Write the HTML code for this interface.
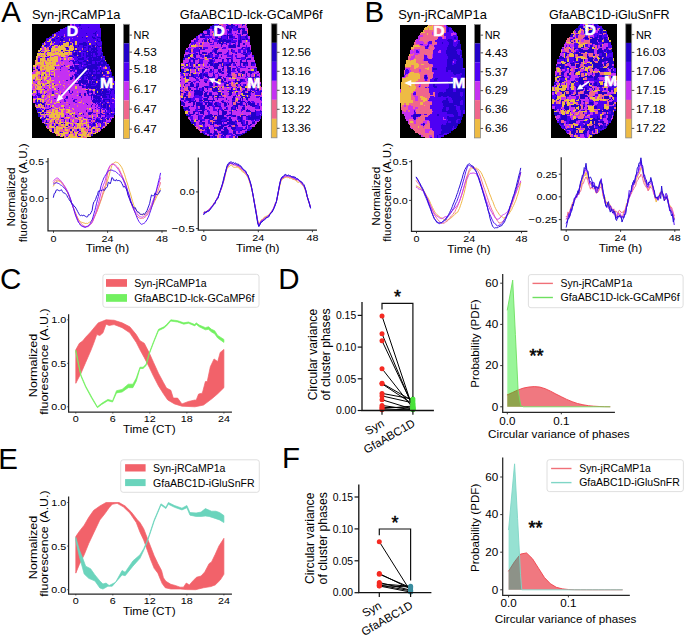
<!DOCTYPE html>
<html><head><meta charset="utf-8"><style>
html,body{margin:0;padding:0;background:#fff;}
svg{display:block;font-family:"Liberation Sans", sans-serif;}
</style></head><body>
<svg width="685" height="636" viewBox="0 0 685 636">
<rect width="685" height="636" fill="#fff"/>
<text x="1.20" y="21.90" font-size="29.50">A</text>
<text x="364.60" y="21.90" font-size="29.50">B</text>
<text x="0.00" y="289.40" font-size="29.50">C</text>
<text x="278.20" y="288.90" font-size="29.50">D</text>
<text x="-1.80" y="469.30" font-size="29.50">E</text>
<text x="282.00" y="468.30" font-size="29.50">F</text>
<g transform="translate(32.10 24.30) scale(1.2738 1.2656)" shape-rendering="crispEdges">
<rect x="0" y="0" width="65" height="90" fill="#000"/>
<path fill="#2200c8" d="M37 0h1v1h-1zM30 1h1v1h-1zM28 2h1v1h-1zM44 2h1v1h-1zM38 3h1v1h-1zM50 5h1v1h-1zM20 6h1v1h-1zM49 6h1v1h-1zM42 7h1v1h-1zM48 7h2v1h-2zM49 8h1v1h-1zM14 9h2v1h-2zM23 9h1v1h-1zM28 9h1v1h-1zM47 9h1v1h-1zM14 10h1v1h-1zM20 10h1v1h-1zM23 10h1v1h-1zM39 10h1v1h-1zM47 10h2v1h-2zM51 10h3v1h-3zM11 11h1v1h-1zM19 11h1v1h-1zM22 11h1v1h-1zM24 11h1v1h-1zM42 11h1v1h-1zM48 11h2v1h-2zM53 11h1v1h-1zM16 12h2v1h-2zM22 12h2v1h-2zM51 12h1v1h-1zM52 13h1v1h-1zM54 13h1v1h-1zM29 14h1v1h-1zM32 14h1v1h-1zM40 14h2v1h-2zM21 15h1v1h-1zM29 15h1v1h-1zM37 15h6v1h-6zM44 15h1v1h-1zM50 15h1v1h-1zM10 16h2v1h-2zM15 16h1v1h-1zM33 16h1v1h-1zM36 16h1v1h-1zM40 16h3v1h-3zM47 16h2v1h-2zM51 16h1v1h-1zM54 16h1v1h-1zM33 17h1v1h-1zM36 17h1v1h-1zM40 17h1v1h-1zM44 17h2v1h-2zM47 17h2v1h-2zM50 17h1v1h-1zM52 17h3v1h-3zM13 18h1v1h-1zM27 18h1v1h-1zM33 18h2v1h-2zM40 18h2v1h-2zM44 18h2v1h-2zM48 18h1v1h-1zM50 18h1v1h-1zM13 19h2v1h-2zM40 19h1v1h-1zM44 19h1v1h-1zM46 19h5v1h-5zM23 20h1v1h-1zM32 20h5v1h-5zM42 20h1v1h-1zM44 20h1v1h-1zM46 20h1v1h-1zM48 20h1v1h-1zM50 20h2v1h-2zM54 20h1v1h-1zM6 21h1v1h-1zM31 21h1v1h-1zM38 21h1v1h-1zM40 21h2v1h-2zM44 21h2v1h-2zM47 21h4v1h-4zM7 22h1v1h-1zM24 22h1v1h-1zM34 22h1v1h-1zM36 22h1v1h-1zM42 22h9v1h-9zM32 23h3v1h-3zM36 23h2v1h-2zM40 23h1v1h-1zM42 23h1v1h-1zM44 23h2v1h-2zM47 23h1v1h-1zM49 23h3v1h-3zM54 23h2v1h-2zM11 24h1v1h-1zM33 24h2v1h-2zM37 24h1v1h-1zM40 24h1v1h-1zM42 24h6v1h-6zM50 24h1v1h-1zM53 24h2v1h-2zM29 25h3v1h-3zM36 25h2v1h-2zM42 25h4v1h-4zM47 25h1v1h-1zM50 25h4v1h-4zM11 26h1v1h-1zM32 26h1v1h-1zM35 26h1v1h-1zM39 26h2v1h-2zM42 26h1v1h-1zM45 26h6v1h-6zM52 26h2v1h-2zM55 26h2v1h-2zM36 27h5v1h-5zM44 27h3v1h-3zM48 27h6v1h-6zM55 27h1v1h-1zM32 28h1v1h-1zM35 28h1v1h-1zM41 28h1v1h-1zM45 28h8v1h-8zM54 28h3v1h-3zM29 29h1v1h-1zM32 29h1v1h-1zM34 29h1v1h-1zM36 29h1v1h-1zM40 29h4v1h-4zM45 29h2v1h-2zM49 29h1v1h-1zM53 29h4v1h-4zM32 30h2v1h-2zM36 30h3v1h-3zM42 30h5v1h-5zM49 30h2v1h-2zM52 30h2v1h-2zM56 30h3v1h-3zM38 31h1v1h-1zM41 31h3v1h-3zM46 31h12v1h-12zM25 32h1v1h-1zM33 32h4v1h-4zM38 32h1v1h-1zM43 32h10v1h-10zM54 32h3v1h-3zM58 32h2v1h-2zM30 33h2v1h-2zM34 33h2v1h-2zM38 33h1v1h-1zM42 33h9v1h-9zM55 33h1v1h-1zM59 33h1v1h-1zM4 34h1v1h-1zM18 34h1v1h-1zM30 34h3v1h-3zM34 34h3v1h-3zM40 34h12v1h-12zM53 34h1v1h-1zM1 35h1v1h-1zM5 35h1v1h-1zM29 35h1v1h-1zM35 35h9v1h-9zM45 35h3v1h-3zM49 35h2v1h-2zM53 35h1v1h-1zM5 36h1v1h-1zM30 36h2v1h-2zM33 36h1v1h-1zM35 36h7v1h-7zM43 36h1v1h-1zM45 36h3v1h-3zM50 36h1v1h-1zM52 36h1v1h-1zM54 36h1v1h-1zM57 36h2v1h-2zM35 37h9v1h-9zM45 37h4v1h-4zM50 37h3v1h-3zM54 37h3v1h-3zM35 38h4v1h-4zM40 38h2v1h-2zM44 38h1v1h-1zM46 38h2v1h-2zM50 38h1v1h-1zM53 38h2v1h-2zM56 38h2v1h-2zM62 38h1v1h-1zM33 39h2v1h-2zM37 39h1v1h-1zM39 39h2v1h-2zM42 39h5v1h-5zM48 39h8v1h-8zM60 39h3v1h-3zM6 40h1v1h-1zM9 40h1v1h-1zM34 40h2v1h-2zM37 40h7v1h-7zM45 40h2v1h-2zM48 40h8v1h-8zM60 40h1v1h-1zM62 40h1v1h-1zM31 41h1v1h-1zM34 41h2v1h-2zM37 41h4v1h-4zM43 41h3v1h-3zM47 41h2v1h-2zM50 41h5v1h-5zM60 41h1v1h-1zM62 41h2v1h-2zM30 42h2v1h-2zM34 42h2v1h-2zM39 42h2v1h-2zM42 42h1v1h-1zM44 42h4v1h-4zM50 42h6v1h-6zM57 42h1v1h-1zM60 42h4v1h-4zM30 43h1v1h-1zM38 43h3v1h-3zM44 43h7v1h-7zM52 43h2v1h-2zM56 43h1v1h-1zM59 43h2v1h-2zM1 44h1v1h-1zM7 44h1v1h-1zM27 44h1v1h-1zM35 44h1v1h-1zM37 44h7v1h-7zM46 44h1v1h-1zM49 44h2v1h-2zM54 44h2v1h-2zM59 44h1v1h-1zM36 45h8v1h-8zM45 45h1v1h-1zM47 45h3v1h-3zM52 45h2v1h-2zM57 45h2v1h-2zM34 46h4v1h-4zM39 46h3v1h-3zM43 46h1v1h-1zM45 46h1v1h-1zM47 46h1v1h-1zM49 46h1v1h-1zM51 46h5v1h-5zM57 46h2v1h-2zM60 46h1v1h-1zM17 47h1v1h-1zM37 47h1v1h-1zM42 47h7v1h-7zM51 47h6v1h-6zM58 47h3v1h-3zM7 48h1v1h-1zM37 48h1v1h-1zM39 48h1v1h-1zM42 48h1v1h-1zM44 48h2v1h-2zM50 48h9v1h-9zM60 48h1v1h-1zM62 48h2v1h-2zM39 49h2v1h-2zM42 49h12v1h-12zM56 49h2v1h-2zM63 49h1v1h-1zM9 50h1v1h-1zM20 50h1v1h-1zM42 50h2v1h-2zM46 50h4v1h-4zM51 50h2v1h-2zM54 50h2v1h-2zM57 50h2v1h-2zM61 50h2v1h-2zM50 51h5v1h-5zM56 51h3v1h-3zM61 51h3v1h-3zM0 52h1v1h-1zM4 52h1v1h-1zM29 52h1v1h-1zM42 52h3v1h-3zM49 52h2v1h-2zM52 52h3v1h-3zM56 52h3v1h-3zM62 52h1v1h-1zM64 52h1v1h-1zM0 53h1v1h-1zM4 53h1v1h-1zM29 53h1v1h-1zM31 53h1v1h-1zM43 53h2v1h-2zM46 53h2v1h-2zM49 53h2v1h-2zM52 53h2v1h-2zM55 53h5v1h-5zM61 53h1v1h-1zM64 53h1v1h-1zM4 54h1v1h-1zM16 54h1v1h-1zM41 54h1v1h-1zM43 54h2v1h-2zM47 54h1v1h-1zM49 54h9v1h-9zM61 54h1v1h-1zM64 54h1v1h-1zM4 55h1v1h-1zM7 55h1v1h-1zM10 55h1v1h-1zM41 55h1v1h-1zM44 55h1v1h-1zM46 55h2v1h-2zM50 55h5v1h-5zM56 55h5v1h-5zM5 56h2v1h-2zM37 56h1v1h-1zM41 56h1v1h-1zM46 56h1v1h-1zM48 56h3v1h-3zM53 56h5v1h-5zM60 56h1v1h-1zM6 57h1v1h-1zM27 57h1v1h-1zM46 57h1v1h-1zM48 57h5v1h-5zM55 57h4v1h-4zM60 57h1v1h-1zM62 57h1v1h-1zM17 58h2v1h-2zM49 58h6v1h-6zM25 59h1v1h-1zM48 59h1v1h-1zM50 59h1v1h-1zM52 59h1v1h-1zM56 59h5v1h-5zM3 60h1v1h-1zM32 60h2v1h-2zM47 60h7v1h-7zM56 60h1v1h-1zM60 60h1v1h-1zM3 61h1v1h-1zM5 61h3v1h-3zM48 61h2v1h-2zM52 61h1v1h-1zM54 61h2v1h-2zM57 61h1v1h-1zM2 62h2v1h-2zM7 62h2v1h-2zM49 62h1v1h-1zM51 62h1v1h-1zM54 62h1v1h-1zM57 62h2v1h-2zM62 62h1v1h-1zM3 63h2v1h-2zM8 63h2v1h-2zM43 63h1v1h-1zM47 63h1v1h-1zM52 63h1v1h-1zM54 63h1v1h-1zM56 63h2v1h-2zM59 63h1v1h-1zM9 64h1v1h-1zM46 64h1v1h-1zM54 64h1v1h-1zM56 64h2v1h-2zM59 64h1v1h-1zM15 65h1v1h-1zM55 65h3v1h-3zM59 65h1v1h-1zM3 66h1v1h-1zM49 66h1v1h-1zM59 66h1v1h-1zM61 66h1v1h-1zM64 66h1v1h-1zM3 67h2v1h-2zM10 67h1v1h-1zM12 67h1v1h-1zM47 67h1v1h-1zM53 67h1v1h-1zM59 67h1v1h-1zM61 67h1v1h-1zM64 67h1v1h-1zM5 68h2v1h-2zM9 68h2v1h-2zM42 68h1v1h-1zM53 68h1v1h-1zM57 68h1v1h-1zM61 68h2v1h-2zM64 68h1v1h-1zM8 69h1v1h-1zM45 69h3v1h-3zM5 70h1v1h-1zM7 70h2v1h-2zM10 70h1v1h-1zM44 70h3v1h-3zM53 70h2v1h-2zM59 70h1v1h-1zM62 70h1v1h-1zM64 70h1v1h-1zM5 71h1v1h-1zM28 71h1v1h-1zM31 71h1v1h-1zM38 71h1v1h-1zM40 71h1v1h-1zM45 71h1v1h-1zM52 71h1v1h-1zM55 71h1v1h-1zM59 71h1v1h-1zM62 71h3v1h-3zM5 72h1v1h-1zM26 72h1v1h-1zM34 72h1v1h-1zM53 72h1v1h-1zM57 72h1v1h-1zM12 73h1v1h-1zM55 73h1v1h-1zM9 74h2v1h-2zM23 74h2v1h-2zM44 74h2v1h-2zM54 74h2v1h-2zM59 74h1v1h-1zM7 75h2v1h-2zM50 75h2v1h-2zM57 75h1v1h-1zM59 75h1v1h-1zM62 75h1v1h-1zM11 76h1v1h-1zM29 76h1v1h-1zM50 76h4v1h-4zM55 76h1v1h-1zM11 77h1v1h-1zM17 77h1v1h-1zM35 77h2v1h-2zM53 77h1v1h-1zM55 77h1v1h-1zM23 78h1v1h-1zM25 78h1v1h-1zM48 78h1v1h-1zM51 78h1v1h-1zM54 78h1v1h-1zM10 79h1v1h-1zM19 79h1v1h-1zM29 79h1v1h-1zM48 79h1v1h-1zM18 80h1v1h-1zM27 80h1v1h-1zM41 80h1v1h-1zM46 80h1v1h-1zM42 82h1v1h-1zM16 83h1v1h-1zM30 83h1v1h-1zM35 83h2v1h-2zM48 83h1v1h-1zM16 84h1v1h-1zM32 84h1v1h-1zM37 84h1v1h-1zM44 84h1v1h-1zM22 85h1v1h-1zM29 85h1v1h-1zM32 85h1v1h-1zM36 85h1v1h-1zM29 86h1v1h-1zM35 87h1v1h-1zM46 87h1v1h-1zM24 88h1v1h-1zM36 88h2v1h-2z"/>
<path fill="#4e00f4" d="M31 0h2v1h-2zM34 0h3v1h-3zM38 0h15v1h-15zM28 1h2v1h-2zM31 1h22v1h-22zM26 2h2v1h-2zM29 2h7v1h-7zM37 2h7v1h-7zM45 2h8v1h-8zM24 3h14v1h-14zM39 3h15v1h-15zM22 4h32v1h-32zM20 5h30v1h-30zM51 5h3v1h-3zM19 6h1v1h-1zM21 6h28v1h-28zM50 6h4v1h-4zM17 7h12v1h-12zM30 7h12v1h-12zM43 7h5v1h-5zM50 7h4v1h-4zM16 8h1v1h-1zM19 8h6v1h-6zM26 8h23v1h-23zM50 8h1v1h-1zM52 8h2v1h-2zM16 9h1v1h-1zM18 9h2v1h-2zM21 9h2v1h-2zM24 9h1v1h-1zM26 9h2v1h-2zM29 9h6v1h-6zM36 9h6v1h-6zM44 9h3v1h-3zM48 9h6v1h-6zM13 10h1v1h-1zM15 10h1v1h-1zM17 10h3v1h-3zM21 10h2v1h-2zM24 10h15v1h-15zM40 10h7v1h-7zM49 10h2v1h-2zM12 11h2v1h-2zM16 11h3v1h-3zM20 11h2v1h-2zM23 11h1v1h-1zM25 11h4v1h-4zM30 11h1v1h-1zM32 11h10v1h-10zM43 11h5v1h-5zM50 11h3v1h-3zM11 12h2v1h-2zM15 12h1v1h-1zM18 12h4v1h-4zM24 12h5v1h-5zM30 12h21v1h-21zM52 12h2v1h-2zM10 13h2v1h-2zM14 13h1v1h-1zM16 13h6v1h-6zM23 13h1v1h-1zM26 13h8v1h-8zM35 13h9v1h-9zM45 13h4v1h-4zM50 13h2v1h-2zM53 13h1v1h-1zM10 14h5v1h-5zM16 14h1v1h-1zM18 14h9v1h-9zM31 14h1v1h-1zM33 14h1v1h-1zM35 14h5v1h-5zM42 14h13v1h-13zM8 15h1v1h-1zM11 15h3v1h-3zM17 15h4v1h-4zM22 15h2v1h-2zM30 15h1v1h-1zM32 15h2v1h-2zM35 15h2v1h-2zM43 15h1v1h-1zM46 15h4v1h-4zM51 15h4v1h-4zM9 16h1v1h-1zM12 16h2v1h-2zM16 16h1v1h-1zM20 16h1v1h-1zM22 16h1v1h-1zM29 16h1v1h-1zM32 16h1v1h-1zM34 16h2v1h-2zM37 16h3v1h-3zM43 16h4v1h-4zM49 16h2v1h-2zM52 16h2v1h-2zM7 17h1v1h-1zM9 17h4v1h-4zM14 17h2v1h-2zM34 17h2v1h-2zM37 17h3v1h-3zM41 17h3v1h-3zM46 17h1v1h-1zM51 17h1v1h-1zM7 18h1v1h-1zM11 18h1v1h-1zM14 18h2v1h-2zM26 18h1v1h-1zM35 18h5v1h-5zM42 18h2v1h-2zM46 18h2v1h-2zM49 18h1v1h-1zM51 18h2v1h-2zM54 18h1v1h-1zM27 19h2v1h-2zM33 19h1v1h-1zM35 19h4v1h-4zM41 19h3v1h-3zM45 19h1v1h-1zM51 19h4v1h-4zM7 20h1v1h-1zM14 20h1v1h-1zM37 20h5v1h-5zM43 20h1v1h-1zM45 20h1v1h-1zM47 20h1v1h-1zM49 20h1v1h-1zM52 20h2v1h-2zM13 21h2v1h-2zM26 21h2v1h-2zM30 21h1v1h-1zM32 21h1v1h-1zM34 21h3v1h-3zM39 21h1v1h-1zM42 21h1v1h-1zM46 21h1v1h-1zM51 21h4v1h-4zM5 22h1v1h-1zM8 22h1v1h-1zM11 22h1v1h-1zM31 22h3v1h-3zM35 22h1v1h-1zM37 22h5v1h-5zM51 22h5v1h-5zM31 23h1v1h-1zM35 23h1v1h-1zM38 23h2v1h-2zM41 23h1v1h-1zM43 23h1v1h-1zM46 23h1v1h-1zM48 23h1v1h-1zM52 23h2v1h-2zM29 24h4v1h-4zM36 24h1v1h-1zM38 24h2v1h-2zM41 24h1v1h-1zM48 24h2v1h-2zM51 24h2v1h-2zM55 24h1v1h-1zM13 25h1v1h-1zM28 25h1v1h-1zM32 25h4v1h-4zM38 25h4v1h-4zM46 25h1v1h-1zM48 25h2v1h-2zM54 25h3v1h-3zM6 26h2v1h-2zM10 26h1v1h-1zM12 26h1v1h-1zM23 26h1v1h-1zM33 26h2v1h-2zM36 26h3v1h-3zM41 26h1v1h-1zM43 26h2v1h-2zM51 26h1v1h-1zM5 27h1v1h-1zM11 27h1v1h-1zM33 27h3v1h-3zM41 27h3v1h-3zM47 27h1v1h-1zM54 27h1v1h-1zM56 27h1v1h-1zM5 28h1v1h-1zM23 28h1v1h-1zM30 28h2v1h-2zM34 28h1v1h-1zM36 28h5v1h-5zM42 28h1v1h-1zM44 28h1v1h-1zM53 28h1v1h-1zM5 29h1v1h-1zM31 29h1v1h-1zM33 29h1v1h-1zM35 29h1v1h-1zM37 29h3v1h-3zM44 29h1v1h-1zM47 29h2v1h-2zM50 29h3v1h-3zM57 29h1v1h-1zM34 30h2v1h-2zM39 30h3v1h-3zM47 30h2v1h-2zM51 30h1v1h-1zM54 30h2v1h-2zM33 31h1v1h-1zM37 31h1v1h-1zM39 31h2v1h-2zM44 31h2v1h-2zM58 31h2v1h-2zM31 32h1v1h-1zM37 32h1v1h-1zM40 32h3v1h-3zM53 32h1v1h-1zM57 32h1v1h-1zM4 33h1v1h-1zM23 33h1v1h-1zM33 33h1v1h-1zM36 33h2v1h-2zM39 33h3v1h-3zM51 33h2v1h-2zM54 33h1v1h-1zM56 33h1v1h-1zM58 33h1v1h-1zM60 33h1v1h-1zM3 34h1v1h-1zM22 34h1v1h-1zM33 34h1v1h-1zM37 34h3v1h-3zM52 34h1v1h-1zM54 34h2v1h-2zM59 34h2v1h-2zM28 35h1v1h-1zM31 35h4v1h-4zM48 35h1v1h-1zM51 35h2v1h-2zM54 35h8v1h-8zM22 36h1v1h-1zM32 36h1v1h-1zM42 36h1v1h-1zM44 36h1v1h-1zM48 36h2v1h-2zM51 36h1v1h-1zM53 36h1v1h-1zM55 36h2v1h-2zM59 36h2v1h-2zM9 37h1v1h-1zM30 37h1v1h-1zM32 37h2v1h-2zM44 37h1v1h-1zM49 37h1v1h-1zM53 37h1v1h-1zM57 37h1v1h-1zM60 37h2v1h-2zM34 38h1v1h-1zM39 38h1v1h-1zM42 38h2v1h-2zM45 38h1v1h-1zM48 38h2v1h-2zM51 38h2v1h-2zM58 38h1v1h-1zM61 38h1v1h-1zM9 39h1v1h-1zM35 39h2v1h-2zM38 39h1v1h-1zM41 39h1v1h-1zM47 39h1v1h-1zM56 39h4v1h-4zM14 40h1v1h-1zM31 40h1v1h-1zM33 40h1v1h-1zM36 40h1v1h-1zM44 40h1v1h-1zM57 40h3v1h-3zM61 40h1v1h-1zM6 41h1v1h-1zM15 41h2v1h-2zM32 41h1v1h-1zM36 41h1v1h-1zM41 41h2v1h-2zM46 41h1v1h-1zM49 41h1v1h-1zM55 41h3v1h-3zM61 41h1v1h-1zM36 42h3v1h-3zM41 42h1v1h-1zM43 42h1v1h-1zM48 42h2v1h-2zM56 42h1v1h-1zM58 42h2v1h-2zM34 43h1v1h-1zM41 43h2v1h-2zM51 43h1v1h-1zM54 43h2v1h-2zM57 43h2v1h-2zM61 43h3v1h-3zM45 44h1v1h-1zM48 44h1v1h-1zM51 44h3v1h-3zM58 44h1v1h-1zM60 44h1v1h-1zM63 44h1v1h-1zM46 45h1v1h-1zM54 45h3v1h-3zM59 45h1v1h-1zM62 45h3v1h-3zM3 46h1v1h-1zM42 46h1v1h-1zM44 46h1v1h-1zM46 46h1v1h-1zM48 46h1v1h-1zM50 46h1v1h-1zM56 46h1v1h-1zM59 46h1v1h-1zM61 46h2v1h-2zM64 46h1v1h-1zM7 47h1v1h-1zM12 47h1v1h-1zM40 47h2v1h-2zM49 47h2v1h-2zM57 47h1v1h-1zM61 47h2v1h-2zM64 47h1v1h-1zM38 48h1v1h-1zM40 48h1v1h-1zM43 48h1v1h-1zM46 48h4v1h-4zM61 48h1v1h-1zM64 48h1v1h-1zM41 49h1v1h-1zM54 49h2v1h-2zM58 49h5v1h-5zM64 49h1v1h-1zM45 50h1v1h-1zM50 50h1v1h-1zM56 50h1v1h-1zM59 50h2v1h-2zM63 50h2v1h-2zM10 51h2v1h-2zM44 51h1v1h-1zM49 51h1v1h-1zM55 51h1v1h-1zM59 51h1v1h-1zM64 51h1v1h-1zM3 52h1v1h-1zM20 52h1v1h-1zM28 52h1v1h-1zM46 52h1v1h-1zM51 52h1v1h-1zM59 52h3v1h-3zM63 52h1v1h-1zM16 53h1v1h-1zM45 53h1v1h-1zM54 53h1v1h-1zM60 53h1v1h-1zM62 53h2v1h-2zM5 54h1v1h-1zM11 54h1v1h-1zM23 54h1v1h-1zM30 54h1v1h-1zM37 54h1v1h-1zM58 54h3v1h-3zM62 54h2v1h-2zM3 55h1v1h-1zM5 55h2v1h-2zM37 55h1v1h-1zM48 55h1v1h-1zM55 55h1v1h-1zM61 55h4v1h-4zM0 56h1v1h-1zM2 56h1v1h-1zM4 56h1v1h-1zM44 56h2v1h-2zM47 56h1v1h-1zM51 56h2v1h-2zM58 56h2v1h-2zM61 56h4v1h-4zM1 57h3v1h-3zM5 57h1v1h-1zM38 57h1v1h-1zM53 57h1v1h-1zM59 57h1v1h-1zM61 57h1v1h-1zM63 57h2v1h-2zM26 58h2v1h-2zM31 58h1v1h-1zM46 58h1v1h-1zM48 58h1v1h-1zM56 58h7v1h-7zM64 58h1v1h-1zM3 59h1v1h-1zM33 59h2v1h-2zM46 59h1v1h-1zM49 59h1v1h-1zM51 59h1v1h-1zM53 59h2v1h-2zM61 59h3v1h-3zM2 60h1v1h-1zM5 60h1v1h-1zM25 60h2v1h-2zM54 60h2v1h-2zM57 60h3v1h-3zM61 60h4v1h-4zM2 61h1v1h-1zM4 61h1v1h-1zM9 61h2v1h-2zM22 61h1v1h-1zM34 61h1v1h-1zM50 61h2v1h-2zM56 61h1v1h-1zM58 61h1v1h-1zM60 61h3v1h-3zM64 61h1v1h-1zM4 62h2v1h-2zM9 62h1v1h-1zM42 62h1v1h-1zM52 62h2v1h-2zM55 62h2v1h-2zM59 62h3v1h-3zM63 62h2v1h-2zM29 63h1v1h-1zM50 63h1v1h-1zM53 63h1v1h-1zM58 63h1v1h-1zM60 63h5v1h-5zM11 64h1v1h-1zM13 64h1v1h-1zM49 64h1v1h-1zM52 64h2v1h-2zM55 64h1v1h-1zM58 64h1v1h-1zM61 64h4v1h-4zM25 65h1v1h-1zM51 65h1v1h-1zM53 65h2v1h-2zM58 65h1v1h-1zM60 65h5v1h-5zM4 66h2v1h-2zM7 66h1v1h-1zM13 66h2v1h-2zM52 66h3v1h-3zM56 66h3v1h-3zM60 66h1v1h-1zM62 66h2v1h-2zM5 67h2v1h-2zM8 67h1v1h-1zM11 67h1v1h-1zM20 67h1v1h-1zM55 67h2v1h-2zM58 67h1v1h-1zM60 67h1v1h-1zM62 67h2v1h-2zM4 68h1v1h-1zM7 68h1v1h-1zM47 68h1v1h-1zM59 68h2v1h-2zM63 68h1v1h-1zM4 69h1v1h-1zM36 69h1v1h-1zM44 69h1v1h-1zM53 69h1v1h-1zM56 69h6v1h-6zM64 69h1v1h-1zM40 70h1v1h-1zM48 70h2v1h-2zM57 70h2v1h-2zM61 70h1v1h-1zM63 70h1v1h-1zM44 71h1v1h-1zM53 71h2v1h-2zM56 71h3v1h-3zM60 71h2v1h-2zM6 72h1v1h-1zM11 72h1v1h-1zM52 72h1v1h-1zM58 72h6v1h-6zM8 73h1v1h-1zM10 73h2v1h-2zM35 73h1v1h-1zM41 73h1v1h-1zM48 73h1v1h-1zM51 73h1v1h-1zM53 73h1v1h-1zM56 73h2v1h-2zM59 73h2v1h-2zM7 74h2v1h-2zM46 74h1v1h-1zM50 74h3v1h-3zM56 74h1v1h-1zM58 74h1v1h-1zM61 74h1v1h-1zM9 75h1v1h-1zM25 75h1v1h-1zM29 75h1v1h-1zM46 75h1v1h-1zM48 75h1v1h-1zM52 75h1v1h-1zM55 75h2v1h-2zM61 75h1v1h-1zM8 76h1v1h-1zM17 76h1v1h-1zM25 76h1v1h-1zM36 76h1v1h-1zM45 76h1v1h-1zM49 76h1v1h-1zM54 76h1v1h-1zM56 76h2v1h-2zM10 77h1v1h-1zM12 77h1v1h-1zM20 77h1v1h-1zM46 77h1v1h-1zM48 77h3v1h-3zM52 77h1v1h-1zM54 77h1v1h-1zM59 77h2v1h-2zM45 78h1v1h-1zM47 78h1v1h-1zM55 78h2v1h-2zM11 79h1v1h-1zM16 79h1v1h-1zM33 79h1v1h-1zM45 79h3v1h-3zM49 79h1v1h-1zM54 79h3v1h-3zM32 80h1v1h-1zM47 80h1v1h-1zM54 80h2v1h-2zM57 80h1v1h-1zM46 81h1v1h-1zM52 81h3v1h-3zM16 82h1v1h-1zM24 82h1v1h-1zM45 82h1v1h-1zM53 82h2v1h-2zM45 84h1v1h-1zM23 85h1v1h-1zM48 85h1v1h-1zM43 86h1v1h-1zM47 87h1v1h-1zM27 88h1v1h-1z"/>
<path fill="#c530f2" d="M30 0h1v1h-1zM33 0h1v1h-1zM36 2h1v1h-1zM25 8h1v1h-1zM51 8h1v1h-1zM14 11h2v1h-2zM29 11h1v1h-1zM31 11h1v1h-1zM10 15h1v1h-1zM16 15h1v1h-1zM19 17h1v1h-1zM8 18h1v1h-1zM18 18h2v1h-2zM28 18h1v1h-1zM8 19h1v1h-1zM8 20h2v1h-2zM12 21h1v1h-1zM19 21h1v1h-1zM23 21h1v1h-1zM28 21h1v1h-1zM6 22h1v1h-1zM17 22h1v1h-1zM21 22h1v1h-1zM10 23h2v1h-2zM6 24h1v1h-1zM17 24h3v1h-3zM26 24h2v1h-2zM5 25h1v1h-1zM12 25h1v1h-1zM15 25h2v1h-2zM20 25h1v1h-1zM22 25h1v1h-1zM27 25h1v1h-1zM5 26h1v1h-1zM13 26h1v1h-1zM20 26h3v1h-3zM24 26h1v1h-1zM26 26h3v1h-3zM31 26h1v1h-1zM10 27h1v1h-1zM20 27h2v1h-2zM23 27h2v1h-2zM27 27h1v1h-1zM29 27h1v1h-1zM31 27h2v1h-2zM11 28h1v1h-1zM20 28h3v1h-3zM24 28h6v1h-6zM33 28h1v1h-1zM15 29h1v1h-1zM20 29h9v1h-9zM30 29h1v1h-1zM9 30h1v1h-1zM19 30h3v1h-3zM23 30h1v1h-1zM25 30h7v1h-7zM9 31h2v1h-2zM19 31h1v1h-1zM21 31h2v1h-2zM24 31h9v1h-9zM34 31h3v1h-3zM4 32h1v1h-1zM22 32h3v1h-3zM26 32h2v1h-2zM30 32h1v1h-1zM32 32h1v1h-1zM39 32h1v1h-1zM5 33h1v1h-1zM17 33h6v1h-6zM24 33h3v1h-3zM29 33h1v1h-1zM32 33h1v1h-1zM1 34h1v1h-1zM5 34h1v1h-1zM19 34h3v1h-3zM23 34h5v1h-5zM29 34h1v1h-1zM56 34h1v1h-1zM4 35h1v1h-1zM17 35h1v1h-1zM20 35h1v1h-1zM22 35h6v1h-6zM30 35h1v1h-1zM44 35h1v1h-1zM8 36h3v1h-3zM14 36h3v1h-3zM18 36h4v1h-4zM23 36h7v1h-7zM34 36h1v1h-1zM1 37h2v1h-2zM6 37h1v1h-1zM8 37h1v1h-1zM14 37h1v1h-1zM17 37h11v1h-11zM29 37h1v1h-1zM31 37h1v1h-1zM34 37h1v1h-1zM58 37h1v1h-1zM0 38h2v1h-2zM6 38h1v1h-1zM11 38h2v1h-2zM14 38h3v1h-3zM18 38h16v1h-16zM60 38h1v1h-1zM6 39h1v1h-1zM14 39h1v1h-1zM18 39h11v1h-11zM30 39h3v1h-3zM5 40h1v1h-1zM12 40h1v1h-1zM15 40h2v1h-2zM18 40h11v1h-11zM30 40h1v1h-1zM32 40h1v1h-1zM8 41h1v1h-1zM14 41h1v1h-1zM18 41h2v1h-2zM21 41h10v1h-10zM33 41h1v1h-1zM58 41h1v1h-1zM2 42h1v1h-1zM6 42h1v1h-1zM12 42h2v1h-2zM15 42h15v1h-15zM32 42h2v1h-2zM1 43h1v1h-1zM8 43h1v1h-1zM11 43h2v1h-2zM15 43h15v1h-15zM31 43h3v1h-3zM35 43h3v1h-3zM43 43h1v1h-1zM8 44h1v1h-1zM10 44h1v1h-1zM17 44h7v1h-7zM25 44h2v1h-2zM28 44h7v1h-7zM36 44h1v1h-1zM44 44h1v1h-1zM47 44h1v1h-1zM62 44h1v1h-1zM1 45h3v1h-3zM6 45h1v1h-1zM8 45h4v1h-4zM16 45h5v1h-5zM22 45h14v1h-14zM44 45h1v1h-1zM51 45h1v1h-1zM2 46h1v1h-1zM9 46h1v1h-1zM14 46h2v1h-2zM17 46h8v1h-8zM26 46h8v1h-8zM38 46h1v1h-1zM0 47h1v1h-1zM4 47h1v1h-1zM11 47h1v1h-1zM14 47h2v1h-2zM18 47h1v1h-1zM21 47h1v1h-1zM23 47h5v1h-5zM29 47h8v1h-8zM38 47h2v1h-2zM0 48h1v1h-1zM10 48h2v1h-2zM15 48h1v1h-1zM20 48h4v1h-4zM26 48h11v1h-11zM41 48h1v1h-1zM59 48h1v1h-1zM1 49h1v1h-1zM3 49h1v1h-1zM8 49h1v1h-1zM10 49h3v1h-3zM14 49h2v1h-2zM18 49h7v1h-7zM26 49h3v1h-3zM30 49h4v1h-4zM35 49h4v1h-4zM0 50h2v1h-2zM7 50h2v1h-2zM10 50h3v1h-3zM15 50h2v1h-2zM19 50h1v1h-1zM21 50h13v1h-13zM35 50h7v1h-7zM44 50h1v1h-1zM0 51h1v1h-1zM13 51h4v1h-4zM19 51h5v1h-5zM25 51h14v1h-14zM40 51h1v1h-1zM46 51h2v1h-2zM60 51h1v1h-1zM1 52h1v1h-1zM5 52h1v1h-1zM8 52h4v1h-4zM13 52h6v1h-6zM21 52h7v1h-7zM30 52h12v1h-12zM45 52h1v1h-1zM47 52h1v1h-1zM3 53h1v1h-1zM5 53h1v1h-1zM8 53h1v1h-1zM12 53h4v1h-4zM17 53h5v1h-5zM23 53h6v1h-6zM30 53h1v1h-1zM32 53h3v1h-3zM36 53h7v1h-7zM48 53h1v1h-1zM1 54h3v1h-3zM7 54h2v1h-2zM10 54h1v1h-1zM12 54h1v1h-1zM15 54h1v1h-1zM17 54h1v1h-1zM20 54h2v1h-2zM24 54h1v1h-1zM26 54h4v1h-4zM31 54h6v1h-6zM38 54h3v1h-3zM42 54h1v1h-1zM45 54h2v1h-2zM48 54h1v1h-1zM0 55h3v1h-3zM8 55h2v1h-2zM11 55h2v1h-2zM14 55h1v1h-1zM17 55h3v1h-3zM21 55h10v1h-10zM32 55h5v1h-5zM39 55h2v1h-2zM42 55h2v1h-2zM45 55h1v1h-1zM49 55h1v1h-1zM3 56h1v1h-1zM7 56h1v1h-1zM10 56h2v1h-2zM14 56h1v1h-1zM18 56h2v1h-2zM21 56h14v1h-14zM36 56h1v1h-1zM38 56h2v1h-2zM42 56h2v1h-2zM4 57h1v1h-1zM7 57h1v1h-1zM9 57h3v1h-3zM14 57h7v1h-7zM22 57h5v1h-5zM28 57h10v1h-10zM39 57h7v1h-7zM47 57h1v1h-1zM54 57h1v1h-1zM1 58h3v1h-3zM7 58h4v1h-4zM12 58h3v1h-3zM16 58h1v1h-1zM19 58h2v1h-2zM22 58h4v1h-4zM28 58h3v1h-3zM32 58h14v1h-14zM47 58h1v1h-1zM55 58h1v1h-1zM9 59h1v1h-1zM11 59h2v1h-2zM14 59h7v1h-7zM22 59h3v1h-3zM26 59h7v1h-7zM35 59h11v1h-11zM47 59h1v1h-1zM55 59h1v1h-1zM64 59h1v1h-1zM7 60h1v1h-1zM9 60h3v1h-3zM13 60h2v1h-2zM16 60h4v1h-4zM21 60h4v1h-4zM27 60h5v1h-5zM34 60h4v1h-4zM39 60h8v1h-8zM1 61h1v1h-1zM12 61h2v1h-2zM16 61h1v1h-1zM18 61h1v1h-1zM23 61h2v1h-2zM26 61h1v1h-1zM28 61h6v1h-6zM35 61h1v1h-1zM39 61h7v1h-7zM47 61h1v1h-1zM53 61h1v1h-1zM63 61h1v1h-1zM10 62h1v1h-1zM12 62h5v1h-5zM19 62h21v1h-21zM41 62h1v1h-1zM43 62h6v1h-6zM50 62h1v1h-1zM11 63h1v1h-1zM14 63h13v1h-13zM28 63h1v1h-1zM30 63h3v1h-3zM34 63h9v1h-9zM44 63h3v1h-3zM48 63h2v1h-2zM51 63h1v1h-1zM4 64h1v1h-1zM6 64h1v1h-1zM10 64h1v1h-1zM12 64h1v1h-1zM15 64h1v1h-1zM17 64h6v1h-6zM25 64h10v1h-10zM36 64h10v1h-10zM47 64h2v1h-2zM50 64h2v1h-2zM10 65h4v1h-4zM16 65h1v1h-1zM19 65h2v1h-2zM22 65h2v1h-2zM26 65h3v1h-3zM30 65h21v1h-21zM52 65h1v1h-1zM6 66h1v1h-1zM8 66h1v1h-1zM10 66h3v1h-3zM15 66h3v1h-3zM22 66h2v1h-2zM25 66h6v1h-6zM33 66h10v1h-10zM44 66h1v1h-1zM46 66h3v1h-3zM50 66h2v1h-2zM55 66h1v1h-1zM7 67h1v1h-1zM13 67h3v1h-3zM18 67h1v1h-1zM26 67h1v1h-1zM30 67h2v1h-2zM33 67h12v1h-12zM46 67h1v1h-1zM48 67h5v1h-5zM57 67h1v1h-1zM11 68h1v1h-1zM15 68h1v1h-1zM20 68h3v1h-3zM25 68h2v1h-2zM31 68h11v1h-11zM43 68h4v1h-4zM49 68h1v1h-1zM52 68h1v1h-1zM54 68h1v1h-1zM56 68h1v1h-1zM58 68h1v1h-1zM9 69h2v1h-2zM17 69h1v1h-1zM24 69h3v1h-3zM30 69h1v1h-1zM32 69h1v1h-1zM34 69h2v1h-2zM37 69h1v1h-1zM39 69h5v1h-5zM48 69h5v1h-5zM63 69h1v1h-1zM9 70h1v1h-1zM11 70h2v1h-2zM14 70h1v1h-1zM25 70h4v1h-4zM34 70h3v1h-3zM39 70h1v1h-1zM41 70h1v1h-1zM43 70h1v1h-1zM47 70h1v1h-1zM52 70h1v1h-1zM55 70h1v1h-1zM60 70h1v1h-1zM9 71h1v1h-1zM25 71h3v1h-3zM29 71h1v1h-1zM32 71h5v1h-5zM39 71h1v1h-1zM41 71h2v1h-2zM46 71h4v1h-4zM51 71h1v1h-1zM7 72h2v1h-2zM10 72h1v1h-1zM12 72h1v1h-1zM18 72h1v1h-1zM22 72h1v1h-1zM25 72h1v1h-1zM27 72h4v1h-4zM32 72h1v1h-1zM35 72h10v1h-10zM46 72h1v1h-1zM48 72h3v1h-3zM54 72h3v1h-3zM22 73h4v1h-4zM30 73h3v1h-3zM34 73h1v1h-1zM40 73h1v1h-1zM42 73h5v1h-5zM49 73h2v1h-2zM52 73h1v1h-1zM54 73h1v1h-1zM58 73h1v1h-1zM61 73h3v1h-3zM12 74h1v1h-1zM14 74h2v1h-2zM21 74h2v1h-2zM29 74h5v1h-5zM36 74h1v1h-1zM39 74h1v1h-1zM41 74h3v1h-3zM48 74h2v1h-2zM53 74h1v1h-1zM57 74h1v1h-1zM60 74h1v1h-1zM62 74h1v1h-1zM10 75h1v1h-1zM14 75h1v1h-1zM18 75h1v1h-1zM21 75h1v1h-1zM24 75h1v1h-1zM26 75h3v1h-3zM31 75h1v1h-1zM33 75h3v1h-3zM38 75h2v1h-2zM44 75h2v1h-2zM47 75h1v1h-1zM49 75h1v1h-1zM53 75h1v1h-1zM9 76h2v1h-2zM12 76h2v1h-2zM20 76h1v1h-1zM23 76h2v1h-2zM27 76h2v1h-2zM30 76h1v1h-1zM33 76h3v1h-3zM40 76h2v1h-2zM43 76h2v1h-2zM47 76h1v1h-1zM58 76h4v1h-4zM8 77h1v1h-1zM16 77h1v1h-1zM24 77h1v1h-1zM29 77h3v1h-3zM34 77h1v1h-1zM39 77h2v1h-2zM45 77h1v1h-1zM47 77h1v1h-1zM51 77h1v1h-1zM56 77h1v1h-1zM58 77h1v1h-1zM9 78h2v1h-2zM13 78h2v1h-2zM16 78h1v1h-1zM18 78h1v1h-1zM24 78h1v1h-1zM32 78h2v1h-2zM43 78h2v1h-2zM46 78h1v1h-1zM49 78h1v1h-1zM52 78h2v1h-2zM58 78h1v1h-1zM12 79h1v1h-1zM18 79h1v1h-1zM20 79h1v1h-1zM25 79h1v1h-1zM28 79h1v1h-1zM30 79h1v1h-1zM32 79h1v1h-1zM34 79h1v1h-1zM40 79h2v1h-2zM51 79h2v1h-2zM12 80h1v1h-1zM17 80h1v1h-1zM22 80h1v1h-1zM30 80h2v1h-2zM34 80h1v1h-1zM38 80h3v1h-3zM42 80h1v1h-1zM48 80h2v1h-2zM52 80h1v1h-1zM12 81h1v1h-1zM18 81h1v1h-1zM28 81h2v1h-2zM32 81h1v1h-1zM38 81h1v1h-1zM41 81h1v1h-1zM43 81h1v1h-1zM45 81h1v1h-1zM50 81h2v1h-2zM55 81h1v1h-1zM13 82h1v1h-1zM15 82h1v1h-1zM18 82h1v1h-1zM25 82h1v1h-1zM27 82h2v1h-2zM31 82h1v1h-1zM36 82h1v1h-1zM43 82h1v1h-1zM55 82h1v1h-1zM24 83h1v1h-1zM33 83h2v1h-2zM37 83h1v1h-1zM44 83h2v1h-2zM47 83h1v1h-1zM53 83h1v1h-1zM22 84h1v1h-1zM25 84h2v1h-2zM29 84h1v1h-1zM34 84h1v1h-1zM42 84h1v1h-1zM47 84h4v1h-4zM52 84h1v1h-1zM16 85h1v1h-1zM21 85h1v1h-1zM37 85h1v1h-1zM44 85h1v1h-1zM28 86h1v1h-1zM32 86h2v1h-2zM36 86h3v1h-3zM47 86h1v1h-1zM22 87h1v1h-1zM26 87h3v1h-3zM33 87h1v1h-1zM35 88h1v1h-1zM40 88h1v1h-1zM29 89h1v1h-1z"/>
<path fill="#f0668c" d="M18 8h1v1h-1zM20 9h1v1h-1zM35 9h1v1h-1zM43 9h1v1h-1zM22 13h1v1h-1zM44 13h1v1h-1zM9 14h1v1h-1zM30 14h1v1h-1zM14 16h1v1h-1zM28 16h1v1h-1zM13 17h1v1h-1zM18 17h1v1h-1zM25 17h1v1h-1zM32 17h1v1h-1zM49 17h1v1h-1zM12 18h1v1h-1zM31 18h1v1h-1zM53 18h1v1h-1zM9 19h1v1h-1zM11 19h2v1h-2zM39 19h1v1h-1zM8 21h1v1h-1zM17 21h1v1h-1zM25 21h1v1h-1zM10 22h1v1h-1zM16 22h1v1h-1zM28 23h1v1h-1zM30 23h1v1h-1zM8 24h1v1h-1zM20 24h1v1h-1zM22 24h1v1h-1zM21 25h1v1h-1zM8 26h1v1h-1zM25 26h1v1h-1zM54 26h1v1h-1zM4 27h1v1h-1zM13 27h1v1h-1zM30 27h1v1h-1zM4 28h1v1h-1zM43 28h1v1h-1zM2 29h1v1h-1zM4 29h1v1h-1zM7 29h1v1h-1zM9 29h1v1h-1zM12 29h1v1h-1zM2 30h1v1h-1zM22 30h1v1h-1zM24 30h1v1h-1zM5 31h1v1h-1zM15 31h1v1h-1zM23 31h1v1h-1zM3 32h1v1h-1zM5 32h2v1h-2zM13 32h1v1h-1zM21 32h1v1h-1zM29 32h1v1h-1zM3 33h1v1h-1zM10 33h1v1h-1zM28 33h1v1h-1zM53 33h1v1h-1zM57 33h1v1h-1zM8 34h1v1h-1zM28 34h1v1h-1zM2 35h1v1h-1zM10 35h1v1h-1zM19 35h1v1h-1zM21 35h1v1h-1zM1 36h4v1h-4zM6 36h1v1h-1zM61 36h1v1h-1zM3 37h1v1h-1zM5 37h1v1h-1zM7 37h1v1h-1zM11 37h1v1h-1zM28 37h1v1h-1zM2 38h1v1h-1zM7 38h1v1h-1zM55 38h1v1h-1zM0 39h1v1h-1zM5 39h1v1h-1zM12 39h1v1h-1zM16 39h1v1h-1zM29 39h1v1h-1zM29 40h1v1h-1zM47 40h1v1h-1zM56 40h1v1h-1zM4 41h2v1h-2zM9 41h2v1h-2zM13 41h1v1h-1zM20 41h1v1h-1zM59 41h1v1h-1zM5 42h1v1h-1zM8 42h1v1h-1zM2 43h1v1h-1zM3 44h3v1h-3zM13 44h1v1h-1zM15 44h1v1h-1zM24 44h1v1h-1zM57 44h1v1h-1zM61 44h1v1h-1zM4 45h1v1h-1zM7 45h1v1h-1zM14 45h2v1h-2zM60 45h1v1h-1zM1 46h1v1h-1zM7 46h1v1h-1zM13 46h1v1h-1zM25 46h1v1h-1zM1 47h1v1h-1zM10 47h1v1h-1zM19 47h2v1h-2zM28 47h1v1h-1zM1 48h2v1h-2zM5 48h1v1h-1zM13 48h1v1h-1zM16 48h2v1h-2zM19 48h1v1h-1zM25 48h1v1h-1zM0 49h1v1h-1zM9 49h1v1h-1zM17 49h1v1h-1zM25 49h1v1h-1zM29 49h1v1h-1zM2 50h1v1h-1zM13 50h1v1h-1zM53 50h1v1h-1zM1 51h3v1h-3zM9 51h1v1h-1zM12 51h1v1h-1zM24 51h1v1h-1zM39 51h1v1h-1zM41 51h1v1h-1zM43 51h1v1h-1zM6 52h1v1h-1zM12 52h1v1h-1zM19 52h1v1h-1zM55 52h1v1h-1zM10 53h2v1h-2zM22 53h1v1h-1zM35 53h1v1h-1zM6 54h1v1h-1zM13 54h2v1h-2zM18 54h1v1h-1zM22 54h1v1h-1zM25 54h1v1h-1zM13 55h1v1h-1zM15 55h1v1h-1zM20 55h1v1h-1zM31 55h1v1h-1zM38 55h1v1h-1zM1 56h1v1h-1zM12 56h2v1h-2zM17 56h1v1h-1zM20 56h1v1h-1zM40 56h1v1h-1zM12 57h1v1h-1zM21 57h1v1h-1zM15 58h1v1h-1zM63 58h1v1h-1zM2 59h1v1h-1zM1 60h1v1h-1zM12 60h1v1h-1zM38 60h1v1h-1zM8 61h1v1h-1zM17 61h1v1h-1zM25 61h1v1h-1zM27 61h1v1h-1zM36 61h1v1h-1zM38 61h1v1h-1zM46 61h1v1h-1zM59 61h1v1h-1zM6 62h1v1h-1zM11 62h1v1h-1zM2 63h1v1h-1zM10 63h1v1h-1zM27 63h1v1h-1zM33 63h1v1h-1zM55 63h1v1h-1zM2 64h2v1h-2zM8 64h1v1h-1zM14 64h1v1h-1zM35 64h1v1h-1zM60 64h1v1h-1zM5 65h1v1h-1zM7 65h1v1h-1zM9 65h1v1h-1zM14 65h1v1h-1zM18 65h1v1h-1zM24 65h1v1h-1zM20 66h2v1h-2zM32 66h1v1h-1zM9 67h1v1h-1zM19 67h1v1h-1zM54 67h1v1h-1zM12 68h3v1h-3zM17 68h1v1h-1zM24 68h1v1h-1zM27 68h1v1h-1zM30 68h1v1h-1zM48 68h1v1h-1zM50 68h1v1h-1zM55 68h1v1h-1zM7 69h1v1h-1zM22 69h1v1h-1zM29 69h1v1h-1zM38 69h1v1h-1zM54 69h2v1h-2zM6 70h1v1h-1zM20 70h1v1h-1zM42 70h1v1h-1zM50 70h2v1h-2zM56 70h1v1h-1zM6 71h1v1h-1zM13 71h1v1h-1zM37 71h1v1h-1zM43 71h1v1h-1zM50 71h1v1h-1zM33 72h1v1h-1zM45 72h1v1h-1zM26 73h1v1h-1zM33 73h1v1h-1zM39 73h1v1h-1zM6 74h1v1h-1zM13 74h1v1h-1zM16 74h1v1h-1zM19 74h1v1h-1zM25 74h3v1h-3zM37 74h2v1h-2zM47 74h1v1h-1zM13 75h1v1h-1zM22 75h2v1h-2zM30 75h1v1h-1zM36 75h1v1h-1zM43 75h1v1h-1zM60 75h1v1h-1zM16 76h1v1h-1zM19 76h1v1h-1zM21 76h1v1h-1zM37 76h1v1h-1zM46 76h1v1h-1zM48 76h1v1h-1zM15 77h1v1h-1zM18 77h1v1h-1zM25 77h1v1h-1zM32 77h2v1h-2zM37 77h1v1h-1zM41 77h1v1h-1zM44 77h1v1h-1zM12 78h1v1h-1zM19 78h1v1h-1zM26 78h1v1h-1zM29 78h1v1h-1zM13 79h1v1h-1zM15 79h1v1h-1zM21 79h2v1h-2zM38 79h1v1h-1zM43 79h1v1h-1zM57 79h2v1h-2zM20 80h2v1h-2zM23 80h1v1h-1zM26 80h1v1h-1zM29 80h1v1h-1zM36 80h1v1h-1zM45 80h1v1h-1zM56 80h1v1h-1zM11 81h1v1h-1zM24 81h1v1h-1zM30 81h1v1h-1zM34 81h1v1h-1zM40 81h1v1h-1zM42 81h1v1h-1zM49 81h1v1h-1zM56 81h1v1h-1zM12 82h1v1h-1zM14 82h1v1h-1zM29 82h2v1h-2zM32 82h1v1h-1zM46 82h1v1h-1zM49 82h1v1h-1zM51 82h1v1h-1zM15 83h1v1h-1zM18 83h1v1h-1zM20 83h1v1h-1zM22 83h2v1h-2zM25 83h1v1h-1zM28 83h2v1h-2zM41 83h3v1h-3zM49 83h2v1h-2zM52 83h1v1h-1zM18 84h1v1h-1zM21 84h1v1h-1zM23 84h1v1h-1zM27 84h2v1h-2zM30 84h2v1h-2zM36 84h1v1h-1zM28 85h1v1h-1zM31 85h1v1h-1zM38 85h2v1h-2zM43 85h1v1h-1zM45 85h1v1h-1zM47 85h1v1h-1zM50 85h1v1h-1zM21 86h1v1h-1zM30 86h2v1h-2zM35 86h1v1h-1zM45 86h1v1h-1zM19 87h1v1h-1zM32 87h1v1h-1zM36 87h1v1h-1zM42 87h1v1h-1zM45 87h1v1h-1zM22 88h1v1h-1zM25 88h1v1h-1zM25 89h2v1h-2zM36 89h1v1h-1zM40 89h3v1h-3z"/>
<path fill="#eebb44" d="M29 7h1v1h-1zM17 8h1v1h-1zM17 9h1v1h-1zM25 9h1v1h-1zM42 9h1v1h-1zM16 10h1v1h-1zM13 12h2v1h-2zM29 12h1v1h-1zM12 13h2v1h-2zM15 13h1v1h-1zM24 13h2v1h-2zM34 13h1v1h-1zM49 13h1v1h-1zM15 14h1v1h-1zM17 14h1v1h-1zM27 14h2v1h-2zM34 14h1v1h-1zM9 15h1v1h-1zM14 15h2v1h-2zM24 15h5v1h-5zM31 15h1v1h-1zM34 15h1v1h-1zM45 15h1v1h-1zM8 16h1v1h-1zM17 16h3v1h-3zM21 16h1v1h-1zM23 16h5v1h-5zM30 16h2v1h-2zM8 17h1v1h-1zM16 17h2v1h-2zM20 17h5v1h-5zM26 17h6v1h-6zM9 18h2v1h-2zM16 18h2v1h-2zM20 18h6v1h-6zM29 18h2v1h-2zM32 18h1v1h-1zM6 19h2v1h-2zM10 19h1v1h-1zM15 19h12v1h-12zM29 19h4v1h-4zM34 19h1v1h-1zM5 20h2v1h-2zM10 20h4v1h-4zM15 20h8v1h-8zM24 20h8v1h-8zM5 21h1v1h-1zM7 21h1v1h-1zM9 21h3v1h-3zM15 21h2v1h-2zM18 21h1v1h-1zM20 21h3v1h-3zM24 21h1v1h-1zM29 21h1v1h-1zM33 21h1v1h-1zM37 21h1v1h-1zM43 21h1v1h-1zM9 22h1v1h-1zM12 22h4v1h-4zM18 22h3v1h-3zM22 22h2v1h-2zM25 22h6v1h-6zM4 23h6v1h-6zM12 23h16v1h-16zM29 23h1v1h-1zM4 24h2v1h-2zM7 24h1v1h-1zM9 24h2v1h-2zM12 24h5v1h-5zM21 24h1v1h-1zM23 24h3v1h-3zM28 24h1v1h-1zM35 24h1v1h-1zM3 25h2v1h-2zM6 25h6v1h-6zM14 25h1v1h-1zM17 25h3v1h-3zM23 25h4v1h-4zM3 26h2v1h-2zM9 26h1v1h-1zM14 26h6v1h-6zM29 26h2v1h-2zM3 27h1v1h-1zM6 27h4v1h-4zM12 27h1v1h-1zM14 27h6v1h-6zM22 27h1v1h-1zM25 27h2v1h-2zM28 27h1v1h-1zM2 28h2v1h-2zM6 28h5v1h-5zM12 28h8v1h-8zM57 28h1v1h-1zM3 29h1v1h-1zM6 29h1v1h-1zM8 29h1v1h-1zM10 29h2v1h-2zM13 29h2v1h-2zM16 29h4v1h-4zM3 30h6v1h-6zM10 30h9v1h-9zM2 31h3v1h-3zM6 31h3v1h-3zM11 31h4v1h-4zM16 31h3v1h-3zM20 31h1v1h-1zM1 32h2v1h-2zM7 32h6v1h-6zM14 32h7v1h-7zM28 32h1v1h-1zM1 33h2v1h-2zM6 33h4v1h-4zM11 33h6v1h-6zM27 33h1v1h-1zM2 34h1v1h-1zM6 34h2v1h-2zM9 34h9v1h-9zM57 34h2v1h-2zM3 35h1v1h-1zM6 35h4v1h-4zM11 35h6v1h-6zM18 35h1v1h-1zM7 36h1v1h-1zM11 36h3v1h-3zM17 36h1v1h-1zM4 37h1v1h-1zM10 37h1v1h-1zM12 37h2v1h-2zM15 37h2v1h-2zM59 37h1v1h-1zM3 38h3v1h-3zM8 38h3v1h-3zM13 38h1v1h-1zM17 38h1v1h-1zM59 38h1v1h-1zM1 39h4v1h-4zM7 39h2v1h-2zM10 39h2v1h-2zM13 39h1v1h-1zM15 39h1v1h-1zM17 39h1v1h-1zM0 40h5v1h-5zM7 40h2v1h-2zM10 40h2v1h-2zM13 40h1v1h-1zM17 40h1v1h-1zM0 41h4v1h-4zM7 41h1v1h-1zM11 41h2v1h-2zM17 41h1v1h-1zM0 42h2v1h-2zM3 42h2v1h-2zM7 42h1v1h-1zM9 42h3v1h-3zM14 42h1v1h-1zM0 43h1v1h-1zM3 43h5v1h-5zM9 43h2v1h-2zM13 43h2v1h-2zM0 44h1v1h-1zM2 44h1v1h-1zM6 44h1v1h-1zM9 44h1v1h-1zM11 44h2v1h-2zM14 44h1v1h-1zM16 44h1v1h-1zM56 44h1v1h-1zM0 45h1v1h-1zM5 45h1v1h-1zM12 45h2v1h-2zM21 45h1v1h-1zM50 45h1v1h-1zM61 45h1v1h-1zM0 46h1v1h-1zM4 46h3v1h-3zM8 46h1v1h-1zM10 46h3v1h-3zM16 46h1v1h-1zM63 46h1v1h-1zM2 47h2v1h-2zM5 47h2v1h-2zM8 47h2v1h-2zM13 47h1v1h-1zM16 47h1v1h-1zM22 47h1v1h-1zM63 47h1v1h-1zM3 48h2v1h-2zM6 48h1v1h-1zM8 48h2v1h-2zM12 48h1v1h-1zM14 48h1v1h-1zM18 48h1v1h-1zM24 48h1v1h-1zM2 49h1v1h-1zM4 49h4v1h-4zM13 49h1v1h-1zM16 49h1v1h-1zM34 49h1v1h-1zM3 50h4v1h-4zM14 50h1v1h-1zM17 50h2v1h-2zM34 50h1v1h-1zM4 51h5v1h-5zM17 51h2v1h-2zM42 51h1v1h-1zM45 51h1v1h-1zM48 51h1v1h-1zM2 52h1v1h-1zM7 52h1v1h-1zM48 52h1v1h-1zM1 53h2v1h-2zM6 53h2v1h-2zM9 53h1v1h-1zM51 53h1v1h-1zM0 54h1v1h-1zM9 54h1v1h-1zM19 54h1v1h-1zM16 55h1v1h-1zM8 56h2v1h-2zM15 56h2v1h-2zM35 56h1v1h-1zM8 57h1v1h-1zM13 57h1v1h-1zM4 58h3v1h-3zM11 58h1v1h-1zM21 58h1v1h-1zM1 59h1v1h-1zM4 59h5v1h-5zM10 59h1v1h-1zM13 59h1v1h-1zM21 59h1v1h-1zM4 60h1v1h-1zM6 60h1v1h-1zM8 60h1v1h-1zM15 60h1v1h-1zM20 60h1v1h-1zM11 61h1v1h-1zM14 61h2v1h-2zM19 61h3v1h-3zM37 61h1v1h-1zM17 62h2v1h-2zM40 62h1v1h-1zM5 63h3v1h-3zM12 63h2v1h-2zM5 64h1v1h-1zM7 64h1v1h-1zM16 64h1v1h-1zM23 64h2v1h-2zM3 65h2v1h-2zM6 65h1v1h-1zM8 65h1v1h-1zM17 65h1v1h-1zM21 65h1v1h-1zM29 65h1v1h-1zM9 66h1v1h-1zM18 66h2v1h-2zM24 66h1v1h-1zM31 66h1v1h-1zM43 66h1v1h-1zM45 66h1v1h-1zM16 67h2v1h-2zM21 67h5v1h-5zM27 67h3v1h-3zM32 67h1v1h-1zM45 67h1v1h-1zM8 68h1v1h-1zM16 68h1v1h-1zM18 68h2v1h-2zM23 68h1v1h-1zM28 68h2v1h-2zM51 68h1v1h-1zM5 69h2v1h-2zM11 69h6v1h-6zM18 69h4v1h-4zM23 69h1v1h-1zM27 69h2v1h-2zM31 69h1v1h-1zM33 69h1v1h-1zM62 69h1v1h-1zM13 70h1v1h-1zM15 70h5v1h-5zM21 70h4v1h-4zM29 70h5v1h-5zM37 70h2v1h-2zM7 71h2v1h-2zM10 71h3v1h-3zM14 71h11v1h-11zM30 71h1v1h-1zM9 72h1v1h-1zM13 72h5v1h-5zM19 72h3v1h-3zM23 72h2v1h-2zM31 72h1v1h-1zM47 72h1v1h-1zM51 72h1v1h-1zM6 73h2v1h-2zM9 73h1v1h-1zM13 73h9v1h-9zM27 73h3v1h-3zM36 73h3v1h-3zM47 73h1v1h-1zM11 74h1v1h-1zM17 74h2v1h-2zM20 74h1v1h-1zM28 74h1v1h-1zM34 74h2v1h-2zM40 74h1v1h-1zM11 75h2v1h-2zM15 75h3v1h-3zM19 75h2v1h-2zM32 75h1v1h-1zM37 75h1v1h-1zM40 75h3v1h-3zM54 75h1v1h-1zM58 75h1v1h-1zM14 76h2v1h-2zM18 76h1v1h-1zM22 76h1v1h-1zM26 76h1v1h-1zM31 76h2v1h-2zM38 76h2v1h-2zM42 76h1v1h-1zM9 77h1v1h-1zM13 77h2v1h-2zM19 77h1v1h-1zM21 77h3v1h-3zM26 77h3v1h-3zM38 77h1v1h-1zM42 77h2v1h-2zM57 77h1v1h-1zM11 78h1v1h-1zM15 78h1v1h-1zM17 78h1v1h-1zM20 78h3v1h-3zM27 78h2v1h-2zM30 78h2v1h-2zM34 78h9v1h-9zM50 78h1v1h-1zM57 78h1v1h-1zM59 78h1v1h-1zM14 79h1v1h-1zM17 79h1v1h-1zM23 79h2v1h-2zM26 79h2v1h-2zM31 79h1v1h-1zM35 79h3v1h-3zM39 79h1v1h-1zM42 79h1v1h-1zM44 79h1v1h-1zM50 79h1v1h-1zM53 79h1v1h-1zM11 80h1v1h-1zM13 80h4v1h-4zM19 80h1v1h-1zM24 80h2v1h-2zM28 80h1v1h-1zM33 80h1v1h-1zM35 80h1v1h-1zM37 80h1v1h-1zM43 80h2v1h-2zM50 80h2v1h-2zM53 80h1v1h-1zM13 81h5v1h-5zM19 81h5v1h-5zM25 81h3v1h-3zM31 81h1v1h-1zM33 81h1v1h-1zM35 81h3v1h-3zM39 81h1v1h-1zM44 81h1v1h-1zM47 81h2v1h-2zM17 82h1v1h-1zM19 82h5v1h-5zM26 82h1v1h-1zM33 82h3v1h-3zM37 82h5v1h-5zM44 82h1v1h-1zM47 82h2v1h-2zM50 82h1v1h-1zM52 82h1v1h-1zM13 83h2v1h-2zM17 83h1v1h-1zM19 83h1v1h-1zM21 83h1v1h-1zM26 83h2v1h-2zM31 83h2v1h-2zM38 83h3v1h-3zM46 83h1v1h-1zM51 83h1v1h-1zM14 84h2v1h-2zM17 84h1v1h-1zM19 84h2v1h-2zM24 84h1v1h-1zM33 84h1v1h-1zM35 84h1v1h-1zM38 84h4v1h-4zM43 84h1v1h-1zM46 84h1v1h-1zM51 84h1v1h-1zM17 85h4v1h-4zM24 85h4v1h-4zM30 85h1v1h-1zM33 85h3v1h-3zM40 85h3v1h-3zM46 85h1v1h-1zM49 85h1v1h-1zM51 85h1v1h-1zM18 86h3v1h-3zM22 86h6v1h-6zM34 86h1v1h-1zM39 86h4v1h-4zM44 86h1v1h-1zM46 86h1v1h-1zM48 86h2v1h-2zM20 87h2v1h-2zM23 87h3v1h-3zM29 87h3v1h-3zM34 87h1v1h-1zM37 87h5v1h-5zM43 87h2v1h-2zM23 88h1v1h-1zM26 88h1v1h-1zM28 88h7v1h-7zM38 88h2v1h-2zM41 88h5v1h-5zM27 89h2v1h-2zM30 89h6v1h-6zM37 89h3v1h-3z"/>
</g>
<g transform="translate(180.00 23.80) scale(1.2677 1.2644)" shape-rendering="crispEdges">
<rect x="0" y="0" width="65" height="90" fill="#000"/>
<path fill="#2200c8" d="M30 0h1v1h-1zM40 0h2v1h-2zM49 0h2v1h-2zM25 1h5v1h-5zM31 1h1v1h-1zM37 1h6v1h-6zM45 1h1v1h-1zM49 1h1v1h-1zM52 1h1v1h-1zM25 2h5v1h-5zM36 2h3v1h-3zM40 2h2v1h-2zM44 2h2v1h-2zM23 3h1v1h-1zM25 3h2v1h-2zM29 3h2v1h-2zM36 3h4v1h-4zM46 3h5v1h-5zM21 4h2v1h-2zM29 4h3v1h-3zM39 4h2v1h-2zM45 4h3v1h-3zM49 4h2v1h-2zM19 5h5v1h-5zM29 5h5v1h-5zM39 5h2v1h-2zM46 5h1v1h-1zM50 5h1v1h-1zM21 6h3v1h-3zM27 6h2v1h-2zM38 6h2v1h-2zM46 6h1v1h-1zM49 6h4v1h-4zM16 7h3v1h-3zM21 7h2v1h-2zM27 7h3v1h-3zM49 7h4v1h-4zM15 8h1v1h-1zM17 8h7v1h-7zM32 8h1v1h-1zM37 8h1v1h-1zM45 8h1v1h-1zM49 8h1v1h-1zM53 8h1v1h-1zM17 9h3v1h-3zM29 9h1v1h-1zM32 9h2v1h-2zM35 9h1v1h-1zM37 9h4v1h-4zM47 9h1v1h-1zM52 9h1v1h-1zM16 10h4v1h-4zM28 10h2v1h-2zM32 10h1v1h-1zM37 10h1v1h-1zM39 10h3v1h-3zM47 10h1v1h-1zM51 10h2v1h-2zM22 11h1v1h-1zM30 11h3v1h-3zM37 11h1v1h-1zM43 11h2v1h-2zM47 11h1v1h-1zM52 11h2v1h-2zM23 12h1v1h-1zM31 12h2v1h-2zM34 12h2v1h-2zM41 12h1v1h-1zM47 12h1v1h-1zM49 12h2v1h-2zM52 12h2v1h-2zM11 13h1v1h-1zM19 13h2v1h-2zM22 13h2v1h-2zM30 13h10v1h-10zM46 13h2v1h-2zM23 14h2v1h-2zM31 14h1v1h-1zM33 14h2v1h-2zM36 14h3v1h-3zM41 14h2v1h-2zM46 14h2v1h-2zM29 15h1v1h-1zM31 15h3v1h-3zM46 15h1v1h-1zM50 15h1v1h-1zM32 16h2v1h-2zM36 16h1v1h-1zM42 16h1v1h-1zM46 16h1v1h-1zM50 16h1v1h-1zM32 17h1v1h-1zM39 17h5v1h-5zM46 17h1v1h-1zM15 18h2v1h-2zM25 18h1v1h-1zM39 18h5v1h-5zM49 18h2v1h-2zM54 18h1v1h-1zM6 19h1v1h-1zM16 19h1v1h-1zM28 19h2v1h-2zM33 19h1v1h-1zM49 19h1v1h-1zM53 19h2v1h-2zM6 20h1v1h-1zM18 20h2v1h-2zM28 20h2v1h-2zM40 20h1v1h-1zM53 20h2v1h-2zM5 21h1v1h-1zM8 21h1v1h-1zM15 21h1v1h-1zM27 21h2v1h-2zM40 21h1v1h-1zM53 21h3v1h-3zM8 22h1v1h-1zM15 22h1v1h-1zM17 22h3v1h-3zM24 22h1v1h-1zM28 22h1v1h-1zM30 22h3v1h-3zM37 22h1v1h-1zM44 22h1v1h-1zM50 22h2v1h-2zM53 22h1v1h-1zM55 22h1v1h-1zM13 23h1v1h-1zM15 23h1v1h-1zM17 23h4v1h-4zM24 23h1v1h-1zM28 23h5v1h-5zM37 23h1v1h-1zM44 23h1v1h-1zM52 23h1v1h-1zM6 24h3v1h-3zM10 24h2v1h-2zM15 24h2v1h-2zM22 24h1v1h-1zM25 24h1v1h-1zM29 24h2v1h-2zM41 24h1v1h-1zM50 24h3v1h-3zM4 25h4v1h-4zM11 25h2v1h-2zM20 25h4v1h-4zM32 25h1v1h-1zM51 25h2v1h-2zM3 26h3v1h-3zM8 26h1v1h-1zM11 26h2v1h-2zM21 26h3v1h-3zM28 26h2v1h-2zM51 26h1v1h-1zM2 27h2v1h-2zM9 27h2v1h-2zM25 27h2v1h-2zM28 27h2v1h-2zM36 27h4v1h-4zM45 27h2v1h-2zM51 27h1v1h-1zM54 27h2v1h-2zM2 28h2v1h-2zM10 28h2v1h-2zM33 28h2v1h-2zM37 28h2v1h-2zM40 28h1v1h-1zM52 28h4v1h-4zM7 29h1v1h-1zM10 29h2v1h-2zM24 29h2v1h-2zM33 29h1v1h-1zM40 29h2v1h-2zM47 29h2v1h-2zM52 29h1v1h-1zM8 30h1v1h-1zM11 30h1v1h-1zM15 30h1v1h-1zM22 30h3v1h-3zM30 30h4v1h-4zM40 30h3v1h-3zM44 30h1v1h-1zM47 30h7v1h-7zM56 30h2v1h-2zM5 31h1v1h-1zM8 31h1v1h-1zM11 31h1v1h-1zM14 31h2v1h-2zM23 31h3v1h-3zM28 31h5v1h-5zM39 31h2v1h-2zM47 31h1v1h-1zM50 31h4v1h-4zM56 31h2v1h-2zM8 32h1v1h-1zM13 32h1v1h-1zM24 32h2v1h-2zM27 32h4v1h-4zM34 32h1v1h-1zM36 32h4v1h-4zM43 32h1v1h-1zM47 32h1v1h-1zM50 32h1v1h-1zM53 32h1v1h-1zM56 32h1v1h-1zM26 33h4v1h-4zM33 33h2v1h-2zM37 33h1v1h-1zM7 34h3v1h-3zM11 34h1v1h-1zM15 34h1v1h-1zM19 34h1v1h-1zM27 34h3v1h-3zM34 34h1v1h-1zM37 34h3v1h-3zM6 35h2v1h-2zM11 35h2v1h-2zM20 35h2v1h-2zM27 35h3v1h-3zM33 35h2v1h-2zM37 35h3v1h-3zM42 35h2v1h-2zM54 35h1v1h-1zM59 35h2v1h-2zM1 36h2v1h-2zM7 36h1v1h-1zM17 36h3v1h-3zM24 36h1v1h-1zM30 36h2v1h-2zM33 36h1v1h-1zM38 36h2v1h-2zM45 36h1v1h-1zM58 36h1v1h-1zM1 37h2v1h-2zM5 37h3v1h-3zM17 37h2v1h-2zM30 37h3v1h-3zM37 37h3v1h-3zM46 37h1v1h-1zM49 37h2v1h-2zM54 37h3v1h-3zM59 37h1v1h-1zM1 38h2v1h-2zM5 38h3v1h-3zM17 38h1v1h-1zM31 38h1v1h-1zM33 38h2v1h-2zM37 38h3v1h-3zM48 38h3v1h-3zM54 38h3v1h-3zM7 39h1v1h-1zM9 39h1v1h-1zM16 39h1v1h-1zM19 39h1v1h-1zM26 39h1v1h-1zM33 39h2v1h-2zM38 39h2v1h-2zM49 39h2v1h-2zM52 39h1v1h-1zM55 39h2v1h-2zM6 40h1v1h-1zM9 40h2v1h-2zM15 40h2v1h-2zM18 40h4v1h-4zM26 40h1v1h-1zM38 40h1v1h-1zM45 40h1v1h-1zM48 40h1v1h-1zM52 40h1v1h-1zM59 40h1v1h-1zM5 41h3v1h-3zM9 41h2v1h-2zM15 41h2v1h-2zM20 41h3v1h-3zM27 41h1v1h-1zM31 41h2v1h-2zM36 41h1v1h-1zM38 41h3v1h-3zM45 41h1v1h-1zM48 41h1v1h-1zM55 41h1v1h-1zM59 41h1v1h-1zM61 41h1v1h-1zM5 42h2v1h-2zM11 42h2v1h-2zM16 42h1v1h-1zM21 42h5v1h-5zM30 42h2v1h-2zM34 42h1v1h-1zM40 42h1v1h-1zM54 42h4v1h-4zM0 43h1v1h-1zM6 43h1v1h-1zM12 43h1v1h-1zM16 43h2v1h-2zM22 43h3v1h-3zM29 43h3v1h-3zM35 43h1v1h-1zM56 43h1v1h-1zM28 44h2v1h-2zM33 44h1v1h-1zM35 44h1v1h-1zM43 44h1v1h-1zM47 44h3v1h-3zM60 44h1v1h-1zM0 45h1v1h-1zM7 45h2v1h-2zM15 45h1v1h-1zM19 45h2v1h-2zM28 45h1v1h-1zM32 45h3v1h-3zM43 45h6v1h-6zM55 45h2v1h-2zM60 45h1v1h-1zM9 46h1v1h-1zM20 46h1v1h-1zM24 46h2v1h-2zM36 46h1v1h-1zM38 46h1v1h-1zM43 46h1v1h-1zM46 46h2v1h-2zM4 47h2v1h-2zM8 47h2v1h-2zM14 47h1v1h-1zM24 47h2v1h-2zM36 47h3v1h-3zM46 47h1v1h-1zM55 47h1v1h-1zM3 48h1v1h-1zM8 48h3v1h-3zM14 48h1v1h-1zM24 48h2v1h-2zM28 48h1v1h-1zM35 48h1v1h-1zM44 48h1v1h-1zM47 48h1v1h-1zM51 48h1v1h-1zM57 48h7v1h-7zM6 49h1v1h-1zM8 49h3v1h-3zM13 49h2v1h-2zM19 49h3v1h-3zM36 49h3v1h-3zM48 49h2v1h-2zM56 49h2v1h-2zM61 49h1v1h-1zM0 50h1v1h-1zM2 50h1v1h-1zM6 50h1v1h-1zM11 50h1v1h-1zM13 50h1v1h-1zM17 50h2v1h-2zM20 50h2v1h-2zM24 50h2v1h-2zM28 50h1v1h-1zM30 50h1v1h-1zM32 50h1v1h-1zM44 50h1v1h-1zM49 50h2v1h-2zM56 50h2v1h-2zM61 50h1v1h-1zM6 51h3v1h-3zM15 51h1v1h-1zM17 51h2v1h-2zM21 51h1v1h-1zM25 51h1v1h-1zM27 51h3v1h-3zM40 51h1v1h-1zM45 51h2v1h-2zM51 51h2v1h-2zM56 51h3v1h-3zM61 51h1v1h-1zM7 52h1v1h-1zM9 52h1v1h-1zM11 52h5v1h-5zM17 52h2v1h-2zM25 52h5v1h-5zM33 52h2v1h-2zM39 52h2v1h-2zM50 52h3v1h-3zM55 52h1v1h-1zM60 52h2v1h-2zM0 53h1v1h-1zM4 53h1v1h-1zM11 53h7v1h-7zM19 53h1v1h-1zM26 53h2v1h-2zM39 53h3v1h-3zM49 53h2v1h-2zM54 53h3v1h-3zM63 53h2v1h-2zM0 54h2v1h-2zM5 54h1v1h-1zM12 54h6v1h-6zM20 54h1v1h-1zM30 54h2v1h-2zM39 54h2v1h-2zM44 54h2v1h-2zM50 54h1v1h-1zM54 54h2v1h-2zM57 54h1v1h-1zM63 54h1v1h-1zM3 55h2v1h-2zM11 55h7v1h-7zM19 55h2v1h-2zM23 55h2v1h-2zM30 55h2v1h-2zM39 55h2v1h-2zM50 55h5v1h-5zM63 55h1v1h-1zM3 56h2v1h-2zM11 56h1v1h-1zM15 56h2v1h-2zM19 56h6v1h-6zM26 56h1v1h-1zM28 56h4v1h-4zM39 56h1v1h-1zM45 56h1v1h-1zM47 56h1v1h-1zM55 56h1v1h-1zM2 57h4v1h-4zM19 57h4v1h-4zM26 57h1v1h-1zM29 57h2v1h-2zM42 57h2v1h-2zM49 57h2v1h-2zM62 57h1v1h-1zM2 58h1v1h-1zM5 58h1v1h-1zM21 58h2v1h-2zM29 58h2v1h-2zM34 58h1v1h-1zM42 58h1v1h-1zM48 58h2v1h-2zM51 58h4v1h-4zM63 58h2v1h-2zM1 59h2v1h-2zM5 59h4v1h-4zM19 59h3v1h-3zM26 59h1v1h-1zM29 59h1v1h-1zM36 59h1v1h-1zM41 59h2v1h-2zM47 59h1v1h-1zM49 59h1v1h-1zM52 59h2v1h-2zM63 59h1v1h-1zM0 60h1v1h-1zM6 60h3v1h-3zM12 60h1v1h-1zM15 60h3v1h-3zM19 60h9v1h-9zM46 60h2v1h-2zM7 61h6v1h-6zM18 61h1v1h-1zM22 61h1v1h-1zM25 61h1v1h-1zM32 61h2v1h-2zM41 61h2v1h-2zM46 61h5v1h-5zM54 61h1v1h-1zM1 62h2v1h-2zM6 62h3v1h-3zM10 62h2v1h-2zM13 62h3v1h-3zM20 62h4v1h-4zM28 62h1v1h-1zM33 62h3v1h-3zM44 62h1v1h-1zM47 62h2v1h-2zM51 62h1v1h-1zM53 62h3v1h-3zM1 63h3v1h-3zM10 63h2v1h-2zM13 63h4v1h-4zM20 63h1v1h-1zM22 63h3v1h-3zM27 63h2v1h-2zM35 63h2v1h-2zM38 63h1v1h-1zM44 63h5v1h-5zM52 63h1v1h-1zM54 63h5v1h-5zM2 64h2v1h-2zM10 64h1v1h-1zM13 64h7v1h-7zM21 64h4v1h-4zM28 64h2v1h-2zM35 64h2v1h-2zM42 64h4v1h-4zM50 64h1v1h-1zM52 64h1v1h-1zM55 64h6v1h-6zM6 65h2v1h-2zM10 65h1v1h-1zM16 65h4v1h-4zM21 65h2v1h-2zM28 65h4v1h-4zM43 65h3v1h-3zM57 65h2v1h-2zM62 65h1v1h-1zM2 66h1v1h-1zM4 66h3v1h-3zM16 66h4v1h-4zM36 66h1v1h-1zM40 66h2v1h-2zM43 66h1v1h-1zM45 66h1v1h-1zM49 66h2v1h-2zM62 66h1v1h-1zM3 67h5v1h-5zM14 67h5v1h-5zM30 67h1v1h-1zM35 67h1v1h-1zM40 67h1v1h-1zM42 67h2v1h-2zM50 67h1v1h-1zM53 67h1v1h-1zM3 68h2v1h-2zM6 68h2v1h-2zM17 68h2v1h-2zM30 68h1v1h-1zM33 68h2v1h-2zM44 68h1v1h-1zM52 68h3v1h-3zM59 68h1v1h-1zM10 69h3v1h-3zM15 69h4v1h-4zM21 69h1v1h-1zM30 69h1v1h-1zM33 69h4v1h-4zM40 69h1v1h-1zM52 69h4v1h-4zM59 69h1v1h-1zM63 69h2v1h-2zM10 70h2v1h-2zM16 70h3v1h-3zM30 70h1v1h-1zM33 70h4v1h-4zM40 70h1v1h-1zM56 70h4v1h-4zM7 71h3v1h-3zM13 71h1v1h-1zM18 71h1v1h-1zM24 71h1v1h-1zM30 71h1v1h-1zM33 71h3v1h-3zM40 71h1v1h-1zM56 71h4v1h-4zM64 71h1v1h-1zM5 72h4v1h-4zM21 72h5v1h-5zM27 72h2v1h-2zM30 72h5v1h-5zM37 72h3v1h-3zM41 72h3v1h-3zM48 72h4v1h-4zM56 72h4v1h-4zM62 72h1v1h-1zM64 72h1v1h-1zM6 73h2v1h-2zM14 73h1v1h-1zM20 73h5v1h-5zM27 73h1v1h-1zM29 73h6v1h-6zM42 73h2v1h-2zM46 73h1v1h-1zM48 73h1v1h-1zM52 73h3v1h-3zM56 73h7v1h-7zM14 74h1v1h-1zM19 74h5v1h-5zM25 74h2v1h-2zM29 74h7v1h-7zM39 74h1v1h-1zM46 74h3v1h-3zM54 74h9v1h-9zM14 75h1v1h-1zM24 75h2v1h-2zM29 75h4v1h-4zM37 75h1v1h-1zM39 75h2v1h-2zM47 75h2v1h-2zM54 75h4v1h-4zM59 75h1v1h-1zM9 76h1v1h-1zM13 76h1v1h-1zM16 76h1v1h-1zM26 76h6v1h-6zM36 76h5v1h-5zM47 76h2v1h-2zM59 76h1v1h-1zM8 77h1v1h-1zM16 77h1v1h-1zM29 77h5v1h-5zM35 77h2v1h-2zM39 77h3v1h-3zM43 77h2v1h-2zM46 77h3v1h-3zM52 77h2v1h-2zM58 77h1v1h-1zM9 78h3v1h-3zM17 78h3v1h-3zM26 78h1v1h-1zM28 78h5v1h-5zM37 78h6v1h-6zM48 78h2v1h-2zM52 78h2v1h-2zM57 78h2v1h-2zM18 79h1v1h-1zM24 79h3v1h-3zM29 79h1v1h-1zM32 79h1v1h-1zM35 79h3v1h-3zM40 79h5v1h-5zM49 79h1v1h-1zM52 79h2v1h-2zM55 79h2v1h-2zM32 80h4v1h-4zM39 80h1v1h-1zM43 80h3v1h-3zM49 80h2v1h-2zM54 80h2v1h-2zM31 81h4v1h-4zM38 81h2v1h-2zM52 81h1v1h-1zM16 82h1v1h-1zM21 82h2v1h-2zM27 82h1v1h-1zM29 82h5v1h-5zM35 82h2v1h-2zM40 82h4v1h-4zM52 82h1v1h-1zM17 83h1v1h-1zM20 83h3v1h-3zM29 83h3v1h-3zM35 83h3v1h-3zM41 83h2v1h-2zM49 83h2v1h-2zM53 83h3v1h-3zM21 84h3v1h-3zM27 84h1v1h-1zM30 84h2v1h-2zM35 84h3v1h-3zM47 84h2v1h-2zM53 84h2v1h-2zM17 85h1v1h-1zM21 85h3v1h-3zM27 85h2v1h-2zM32 85h6v1h-6zM42 85h2v1h-2zM51 85h2v1h-2zM18 86h2v1h-2zM21 86h4v1h-4zM27 86h3v1h-3zM34 86h4v1h-4zM42 86h2v1h-2zM49 86h2v1h-2zM19 87h1v1h-1zM23 87h2v1h-2zM27 87h1v1h-1zM29 87h1v1h-1zM34 87h3v1h-3zM43 87h7v1h-7zM23 88h1v1h-1zM26 88h2v1h-2zM32 88h2v1h-2zM35 88h1v1h-1zM44 88h4v1h-4zM25 89h1v1h-1zM27 89h2v1h-2zM34 89h1v1h-1zM43 89h2v1h-2z"/>
<path fill="#4e00f4" d="M27 0h3v1h-3zM36 0h2v1h-2zM24 2h1v1h-1zM33 2h1v1h-1zM39 2h1v1h-1zM42 2h2v1h-2zM24 3h1v1h-1zM40 3h6v1h-6zM25 4h2v1h-2zM42 4h3v1h-3zM25 5h4v1h-4zM37 5h1v1h-1zM42 5h3v1h-3zM49 5h1v1h-1zM29 6h5v1h-5zM37 6h1v1h-1zM40 6h1v1h-1zM23 7h1v1h-1zM25 7h1v1h-1zM30 7h3v1h-3zM37 7h4v1h-4zM43 7h1v1h-1zM27 8h1v1h-1zM31 8h1v1h-1zM39 8h3v1h-3zM46 8h2v1h-2zM23 9h1v1h-1zM27 9h2v1h-2zM34 9h1v1h-1zM36 9h1v1h-1zM41 9h1v1h-1zM46 9h1v1h-1zM53 9h1v1h-1zM13 10h1v1h-1zM20 10h5v1h-5zM33 10h4v1h-4zM42 10h1v1h-1zM46 10h1v1h-1zM48 10h3v1h-3zM53 10h1v1h-1zM13 11h1v1h-1zM20 11h1v1h-1zM25 11h1v1h-1zM28 11h2v1h-2zM33 11h4v1h-4zM39 11h4v1h-4zM46 11h1v1h-1zM48 11h4v1h-4zM13 12h2v1h-2zM18 12h3v1h-3zM25 12h4v1h-4zM33 12h1v1h-1zM36 12h5v1h-5zM46 12h1v1h-1zM48 12h1v1h-1zM51 12h1v1h-1zM54 12h1v1h-1zM12 13h2v1h-2zM17 13h1v1h-1zM27 13h3v1h-3zM40 13h5v1h-5zM48 13h1v1h-1zM54 13h1v1h-1zM9 14h4v1h-4zM26 14h1v1h-1zM29 14h2v1h-2zM39 14h2v1h-2zM43 14h1v1h-1zM48 14h1v1h-1zM9 15h4v1h-4zM16 15h1v1h-1zM26 15h1v1h-1zM34 15h3v1h-3zM39 15h1v1h-1zM43 15h1v1h-1zM9 16h1v1h-1zM11 16h1v1h-1zM16 16h1v1h-1zM24 16h3v1h-3zM39 16h1v1h-1zM43 16h1v1h-1zM8 17h1v1h-1zM38 17h1v1h-1zM45 17h1v1h-1zM52 17h1v1h-1zM13 18h2v1h-2zM18 18h4v1h-4zM34 18h2v1h-2zM38 18h1v1h-1zM51 18h3v1h-3zM7 19h2v1h-2zM11 19h4v1h-4zM18 19h4v1h-4zM27 19h1v1h-1zM30 19h1v1h-1zM34 19h2v1h-2zM48 19h1v1h-1zM51 19h2v1h-2zM7 20h2v1h-2zM10 20h8v1h-8zM26 20h2v1h-2zM41 20h1v1h-1zM46 20h7v1h-7zM4 21h1v1h-1zM6 21h2v1h-2zM10 21h5v1h-5zM25 21h2v1h-2zM38 21h1v1h-1zM41 21h2v1h-2zM46 21h2v1h-2zM50 21h2v1h-2zM7 22h1v1h-1zM10 22h3v1h-3zM20 22h1v1h-1zM25 22h1v1h-1zM27 22h1v1h-1zM38 22h1v1h-1zM41 22h3v1h-3zM46 22h2v1h-2zM54 22h1v1h-1zM11 23h2v1h-2zM22 23h2v1h-2zM36 23h1v1h-1zM38 23h1v1h-1zM43 23h1v1h-1zM48 23h4v1h-4zM53 23h3v1h-3zM12 24h2v1h-2zM23 24h2v1h-2zM35 24h4v1h-4zM53 24h2v1h-2zM10 25h1v1h-1zM16 25h3v1h-3zM24 25h2v1h-2zM28 25h3v1h-3zM37 25h5v1h-5zM43 25h2v1h-2zM53 25h1v1h-1zM57 25h1v1h-1zM17 26h2v1h-2zM24 26h4v1h-4zM40 26h2v1h-2zM44 26h1v1h-1zM48 26h3v1h-3zM8 27h1v1h-1zM12 27h4v1h-4zM31 27h1v1h-1zM40 27h2v1h-2zM44 27h1v1h-1zM47 27h4v1h-4zM53 27h1v1h-1zM7 28h3v1h-3zM12 28h2v1h-2zM15 28h4v1h-4zM23 28h3v1h-3zM27 28h1v1h-1zM41 28h1v1h-1zM48 28h3v1h-3zM8 29h1v1h-1zM15 29h3v1h-3zM23 29h1v1h-1zM26 29h2v1h-2zM34 29h1v1h-1zM37 29h2v1h-2zM6 30h2v1h-2zM9 30h2v1h-2zM16 30h2v1h-2zM25 30h2v1h-2zM34 30h6v1h-6zM58 30h1v1h-1zM4 31h1v1h-1zM6 31h1v1h-1zM9 31h2v1h-2zM16 31h2v1h-2zM22 31h1v1h-1zM26 31h2v1h-2zM34 31h5v1h-5zM42 31h1v1h-1zM58 31h2v1h-2zM4 32h1v1h-1zM6 32h1v1h-1zM9 32h1v1h-1zM21 32h2v1h-2zM26 32h1v1h-1zM32 32h1v1h-1zM35 32h1v1h-1zM42 32h1v1h-1zM51 32h2v1h-2zM57 32h2v1h-2zM1 33h2v1h-2zM5 33h2v1h-2zM9 33h1v1h-1zM32 33h1v1h-1zM38 33h1v1h-1zM44 33h1v1h-1zM46 33h3v1h-3zM51 33h1v1h-1zM3 34h4v1h-4zM14 34h1v1h-1zM23 34h1v1h-1zM44 34h2v1h-2zM47 34h5v1h-5zM8 35h3v1h-3zM41 35h1v1h-1zM45 35h2v1h-2zM58 35h1v1h-1zM13 36h1v1h-1zM26 36h1v1h-1zM34 36h1v1h-1zM37 36h1v1h-1zM41 36h2v1h-2zM46 36h1v1h-1zM59 36h2v1h-2zM13 37h2v1h-2zM23 37h4v1h-4zM40 37h4v1h-4zM57 37h2v1h-2zM3 38h2v1h-2zM18 38h1v1h-1zM20 38h2v1h-2zM23 38h2v1h-2zM26 38h1v1h-1zM29 38h1v1h-1zM32 38h1v1h-1zM46 38h2v1h-2zM57 38h1v1h-1zM0 39h2v1h-2zM17 39h2v1h-2zM20 39h2v1h-2zM28 39h2v1h-2zM32 39h1v1h-1zM43 39h3v1h-3zM61 39h1v1h-1zM1 40h2v1h-2zM11 40h3v1h-3zM17 40h1v1h-1zM27 40h1v1h-1zM30 40h1v1h-1zM37 40h1v1h-1zM39 40h1v1h-1zM55 40h1v1h-1zM60 40h1v1h-1zM2 41h2v1h-2zM8 41h1v1h-1zM11 41h4v1h-4zM17 41h2v1h-2zM25 41h2v1h-2zM30 41h1v1h-1zM37 41h1v1h-1zM46 41h1v1h-1zM52 41h2v1h-2zM60 41h1v1h-1zM2 42h2v1h-2zM10 42h1v1h-1zM14 42h1v1h-1zM17 42h2v1h-2zM26 42h2v1h-2zM51 42h2v1h-2zM58 42h5v1h-5zM5 43h1v1h-1zM13 43h1v1h-1zM25 43h1v1h-1zM27 43h1v1h-1zM32 43h1v1h-1zM34 43h1v1h-1zM53 43h1v1h-1zM57 43h1v1h-1zM59 43h1v1h-1zM62 43h1v1h-1zM13 44h2v1h-2zM19 44h3v1h-3zM24 44h1v1h-1zM32 44h1v1h-1zM44 44h1v1h-1zM50 44h1v1h-1zM53 44h1v1h-1zM57 44h1v1h-1zM61 44h2v1h-2zM6 45h1v1h-1zM10 45h3v1h-3zM38 45h2v1h-2zM42 45h1v1h-1zM49 45h3v1h-3zM57 45h1v1h-1zM62 45h1v1h-1zM11 46h1v1h-1zM23 46h1v1h-1zM28 46h2v1h-2zM32 46h4v1h-4zM39 46h1v1h-1zM57 46h1v1h-1zM13 47h1v1h-1zM23 47h1v1h-1zM28 47h2v1h-2zM35 47h1v1h-1zM61 47h1v1h-1zM13 48h1v1h-1zM23 48h1v1h-1zM29 48h1v1h-1zM39 48h1v1h-1zM45 48h1v1h-1zM50 48h1v1h-1zM7 49h1v1h-1zM22 49h3v1h-3zM35 49h1v1h-1zM39 49h2v1h-2zM45 49h1v1h-1zM50 49h1v1h-1zM7 50h1v1h-1zM12 50h1v1h-1zM22 50h2v1h-2zM41 50h1v1h-1zM0 51h1v1h-1zM13 51h1v1h-1zM16 51h1v1h-1zM26 51h1v1h-1zM41 51h1v1h-1zM55 51h1v1h-1zM16 52h1v1h-1zM30 52h1v1h-1zM37 52h2v1h-2zM41 52h3v1h-3zM45 52h2v1h-2zM57 52h3v1h-3zM63 52h2v1h-2zM5 53h1v1h-1zM21 53h1v1h-1zM28 53h2v1h-2zM58 53h2v1h-2zM61 53h2v1h-2zM11 54h1v1h-1zM21 54h1v1h-1zM23 54h2v1h-2zM29 54h1v1h-1zM38 54h1v1h-1zM48 54h2v1h-2zM59 54h4v1h-4zM0 55h1v1h-1zM5 55h1v1h-1zM33 55h2v1h-2zM44 55h2v1h-2zM55 55h1v1h-1zM59 55h4v1h-4zM2 56h1v1h-1zM12 56h3v1h-3zM25 56h1v1h-1zM32 56h1v1h-1zM38 56h1v1h-1zM43 56h1v1h-1zM48 56h1v1h-1zM51 56h1v1h-1zM54 56h1v1h-1zM11 57h6v1h-6zM25 57h1v1h-1zM32 57h1v1h-1zM48 57h1v1h-1zM51 57h2v1h-2zM54 57h1v1h-1zM60 57h2v1h-2zM10 58h8v1h-8zM25 58h2v1h-2zM28 58h1v1h-1zM31 58h3v1h-3zM60 58h2v1h-2zM4 59h1v1h-1zM9 59h3v1h-3zM15 59h2v1h-2zM18 59h1v1h-1zM64 59h1v1h-1zM3 60h3v1h-3zM9 60h2v1h-2zM33 60h2v1h-2zM38 60h1v1h-1zM41 60h2v1h-2zM49 60h1v1h-1zM53 60h1v1h-1zM64 60h1v1h-1zM1 61h1v1h-1zM3 61h2v1h-2zM15 61h2v1h-2zM19 61h1v1h-1zM34 61h1v1h-1zM56 61h2v1h-2zM16 62h2v1h-2zM19 62h1v1h-1zM24 62h2v1h-2zM29 62h2v1h-2zM37 62h1v1h-1zM41 62h1v1h-1zM49 62h1v1h-1zM57 62h2v1h-2zM17 63h1v1h-1zM25 63h1v1h-1zM29 63h3v1h-3zM41 63h1v1h-1zM49 63h1v1h-1zM61 63h1v1h-1zM64 63h1v1h-1zM25 64h2v1h-2zM30 64h2v1h-2zM47 64h3v1h-3zM61 64h1v1h-1zM64 64h1v1h-1zM9 65h1v1h-1zM13 65h1v1h-1zM25 65h3v1h-3zM35 65h1v1h-1zM41 65h2v1h-2zM50 65h1v1h-1zM59 65h3v1h-3zM3 66h1v1h-1zM13 66h1v1h-1zM23 66h1v1h-1zM26 66h2v1h-2zM31 66h2v1h-2zM37 66h1v1h-1zM42 66h1v1h-1zM59 66h3v1h-3zM12 67h2v1h-2zM19 67h2v1h-2zM26 67h3v1h-3zM31 67h3v1h-3zM36 67h2v1h-2zM41 67h1v1h-1zM48 67h2v1h-2zM12 68h2v1h-2zM19 68h1v1h-1zM21 68h2v1h-2zM26 68h3v1h-3zM32 68h1v1h-1zM40 68h1v1h-1zM48 68h2v1h-2zM63 68h1v1h-1zM13 69h2v1h-2zM22 69h2v1h-2zM29 69h1v1h-1zM39 69h1v1h-1zM48 69h1v1h-1zM60 69h3v1h-3zM6 70h2v1h-2zM14 70h1v1h-1zM22 70h2v1h-2zM60 70h5v1h-5zM5 71h1v1h-1zM10 71h1v1h-1zM14 71h1v1h-1zM22 71h2v1h-2zM39 71h1v1h-1zM60 71h3v1h-3zM14 72h4v1h-4zM20 72h1v1h-1zM36 72h1v1h-1zM40 72h1v1h-1zM54 72h2v1h-2zM60 72h2v1h-2zM63 72h1v1h-1zM8 73h2v1h-2zM15 73h3v1h-3zM25 73h1v1h-1zM37 73h1v1h-1zM40 73h2v1h-2zM45 73h1v1h-1zM49 73h1v1h-1zM55 73h1v1h-1zM63 73h1v1h-1zM8 74h2v1h-2zM15 74h2v1h-2zM24 74h1v1h-1zM36 74h1v1h-1zM45 74h1v1h-1zM49 74h1v1h-1zM52 74h2v1h-2zM63 74h1v1h-1zM9 75h1v1h-1zM15 75h5v1h-5zM23 75h1v1h-1zM33 75h4v1h-4zM38 75h1v1h-1zM45 75h2v1h-2zM49 75h1v1h-1zM52 75h2v1h-2zM58 75h1v1h-1zM60 75h3v1h-3zM10 76h1v1h-1zM17 76h3v1h-3zM22 76h2v1h-2zM32 76h4v1h-4zM43 76h1v1h-1zM46 76h1v1h-1zM49 76h2v1h-2zM56 76h2v1h-2zM60 76h2v1h-2zM9 77h2v1h-2zM22 77h2v1h-2zM28 77h1v1h-1zM34 77h1v1h-1zM42 77h1v1h-1zM49 77h2v1h-2zM57 77h1v1h-1zM12 78h1v1h-1zM15 78h2v1h-2zM22 78h3v1h-3zM27 78h1v1h-1zM34 78h1v1h-1zM43 78h2v1h-2zM50 78h1v1h-1zM11 79h2v1h-2zM15 79h2v1h-2zM19 79h1v1h-1zM30 79h2v1h-2zM33 79h2v1h-2zM38 79h2v1h-2zM50 79h2v1h-2zM11 80h2v1h-2zM18 80h2v1h-2zM26 80h1v1h-1zM36 80h1v1h-1zM51 80h2v1h-2zM18 81h2v1h-2zM21 81h1v1h-1zM26 81h1v1h-1zM40 81h1v1h-1zM43 81h3v1h-3zM54 81h1v1h-1zM17 82h4v1h-4zM28 82h1v1h-1zM44 82h6v1h-6zM51 82h1v1h-1zM54 82h3v1h-3zM18 83h1v1h-1zM23 83h1v1h-1zM34 83h1v1h-1zM43 83h6v1h-6zM51 83h1v1h-1zM20 84h1v1h-1zM38 84h1v1h-1zM42 84h5v1h-5zM18 85h3v1h-3zM38 85h1v1h-1zM46 85h1v1h-1zM26 86h1v1h-1zM31 86h3v1h-3zM38 86h3v1h-3zM20 87h1v1h-1zM25 87h2v1h-2zM28 87h1v1h-1zM33 87h1v1h-1zM37 87h5v1h-5zM40 88h3v1h-3zM24 89h1v1h-1zM26 89h1v1h-1zM32 89h2v1h-2zM35 89h1v1h-1zM39 89h3v1h-3z"/>
<path fill="#c530f2" d="M34 0h2v1h-2zM38 0h1v1h-1zM42 0h6v1h-6zM52 0h1v1h-1zM30 1h1v1h-1zM32 1h1v1h-1zM34 1h3v1h-3zM43 1h2v1h-2zM46 1h3v1h-3zM50 1h1v1h-1zM30 2h3v1h-3zM34 2h2v1h-2zM46 2h1v1h-1zM48 2h5v1h-5zM27 3h2v1h-2zM31 3h5v1h-5zM51 3h3v1h-3zM23 4h2v1h-2zM27 4h2v1h-2zM32 4h7v1h-7zM41 4h1v1h-1zM48 4h1v1h-1zM51 4h3v1h-3zM24 5h1v1h-1zM34 5h3v1h-3zM38 5h1v1h-1zM41 5h1v1h-1zM47 5h2v1h-2zM51 5h2v1h-2zM18 6h3v1h-3zM24 6h1v1h-1zM26 6h1v1h-1zM34 6h3v1h-3zM41 6h5v1h-5zM47 6h2v1h-2zM19 7h2v1h-2zM24 7h1v1h-1zM33 7h4v1h-4zM41 7h2v1h-2zM44 7h5v1h-5zM53 7h1v1h-1zM16 8h1v1h-1zM24 8h2v1h-2zM28 8h3v1h-3zM33 8h4v1h-4zM38 8h1v1h-1zM42 8h3v1h-3zM48 8h1v1h-1zM50 8h3v1h-3zM14 9h3v1h-3zM20 9h3v1h-3zM24 9h2v1h-2zM30 9h2v1h-2zM42 9h4v1h-4zM49 9h3v1h-3zM14 10h2v1h-2zM25 10h3v1h-3zM30 10h2v1h-2zM38 10h1v1h-1zM43 10h3v1h-3zM54 10h1v1h-1zM11 11h2v1h-2zM14 11h6v1h-6zM21 11h1v1h-1zM23 11h2v1h-2zM26 11h2v1h-2zM38 11h1v1h-1zM45 11h1v1h-1zM54 11h1v1h-1zM10 12h2v1h-2zM15 12h3v1h-3zM21 12h1v1h-1zM24 12h1v1h-1zM29 12h2v1h-2zM42 12h4v1h-4zM9 13h2v1h-2zM14 13h3v1h-3zM18 13h1v1h-1zM24 13h3v1h-3zM45 13h1v1h-1zM49 13h3v1h-3zM53 13h1v1h-1zM13 14h4v1h-4zM19 14h3v1h-3zM25 14h1v1h-1zM27 14h2v1h-2zM35 14h1v1h-1zM44 14h2v1h-2zM49 14h6v1h-6zM8 15h1v1h-1zM13 15h2v1h-2zM19 15h7v1h-7zM27 15h2v1h-2zM30 15h1v1h-1zM37 15h2v1h-2zM40 15h3v1h-3zM44 15h2v1h-2zM47 15h3v1h-3zM51 15h4v1h-4zM7 16h2v1h-2zM10 16h1v1h-1zM13 16h3v1h-3zM18 16h6v1h-6zM27 16h5v1h-5zM34 16h2v1h-2zM37 16h2v1h-2zM40 16h2v1h-2zM44 16h2v1h-2zM47 16h3v1h-3zM51 16h4v1h-4zM7 17h1v1h-1zM14 17h1v1h-1zM18 17h14v1h-14zM33 17h5v1h-5zM44 17h1v1h-1zM47 17h5v1h-5zM53 17h3v1h-3zM6 18h7v1h-7zM22 18h3v1h-3zM26 18h2v1h-2zM29 18h5v1h-5zM36 18h2v1h-2zM44 18h5v1h-5zM55 18h1v1h-1zM5 19h1v1h-1zM9 19h2v1h-2zM15 19h1v1h-1zM22 19h5v1h-5zM31 19h2v1h-2zM36 19h12v1h-12zM50 19h1v1h-1zM55 19h1v1h-1zM5 20h1v1h-1zM20 20h6v1h-6zM30 20h1v1h-1zM32 20h7v1h-7zM42 20h4v1h-4zM55 20h1v1h-1zM16 21h9v1h-9zM29 21h9v1h-9zM39 21h1v1h-1zM43 21h3v1h-3zM48 21h2v1h-2zM52 21h1v1h-1zM4 22h3v1h-3zM9 22h1v1h-1zM13 22h2v1h-2zM16 22h1v1h-1zM21 22h3v1h-3zM26 22h1v1h-1zM29 22h1v1h-1zM33 22h4v1h-4zM39 22h1v1h-1zM45 22h1v1h-1zM48 22h2v1h-2zM52 22h1v1h-1zM56 22h1v1h-1zM4 23h7v1h-7zM14 23h1v1h-1zM16 23h1v1h-1zM21 23h1v1h-1zM25 23h3v1h-3zM33 23h3v1h-3zM39 23h4v1h-4zM45 23h3v1h-3zM56 23h1v1h-1zM3 24h3v1h-3zM14 24h1v1h-1zM17 24h2v1h-2zM20 24h2v1h-2zM26 24h3v1h-3zM31 24h4v1h-4zM39 24h2v1h-2zM42 24h8v1h-8zM55 24h2v1h-2zM3 25h1v1h-1zM13 25h3v1h-3zM19 25h1v1h-1zM26 25h2v1h-2zM31 25h1v1h-1zM33 25h4v1h-4zM42 25h1v1h-1zM45 25h6v1h-6zM54 25h3v1h-3zM9 26h2v1h-2zM13 26h4v1h-4zM30 26h10v1h-10zM42 26h2v1h-2zM45 26h3v1h-3zM52 26h6v1h-6zM4 27h2v1h-2zM11 27h1v1h-1zM16 27h3v1h-3zM21 27h3v1h-3zM27 27h1v1h-1zM30 27h1v1h-1zM32 27h4v1h-4zM42 27h2v1h-2zM52 27h1v1h-1zM56 27h2v1h-2zM4 28h3v1h-3zM19 28h1v1h-1zM22 28h1v1h-1zM26 28h1v1h-1zM28 28h5v1h-5zM35 28h2v1h-2zM39 28h1v1h-1zM42 28h6v1h-6zM51 28h1v1h-1zM56 28h2v1h-2zM2 29h5v1h-5zM9 29h1v1h-1zM12 29h3v1h-3zM18 29h5v1h-5zM28 29h5v1h-5zM35 29h2v1h-2zM39 29h1v1h-1zM42 29h5v1h-5zM49 29h3v1h-3zM53 29h6v1h-6zM2 30h4v1h-4zM12 30h3v1h-3zM18 30h4v1h-4zM28 30h2v1h-2zM43 30h1v1h-1zM45 30h2v1h-2zM54 30h2v1h-2zM1 31h3v1h-3zM7 31h1v1h-1zM12 31h2v1h-2zM19 31h3v1h-3zM41 31h1v1h-1zM43 31h4v1h-4zM48 31h2v1h-2zM54 31h2v1h-2zM3 32h1v1h-1zM7 32h1v1h-1zM12 32h1v1h-1zM16 32h2v1h-2zM19 32h2v1h-2zM23 32h1v1h-1zM31 32h1v1h-1zM40 32h2v1h-2zM44 32h3v1h-3zM48 32h2v1h-2zM54 32h2v1h-2zM59 32h1v1h-1zM4 33h1v1h-1zM7 33h2v1h-2zM10 33h1v1h-1zM12 33h14v1h-14zM30 33h2v1h-2zM35 33h2v1h-2zM40 33h4v1h-4zM45 33h1v1h-1zM49 33h2v1h-2zM52 33h4v1h-4zM57 33h3v1h-3zM1 34h1v1h-1zM10 34h1v1h-1zM12 34h2v1h-2zM16 34h3v1h-3zM20 34h3v1h-3zM24 34h3v1h-3zM30 34h4v1h-4zM35 34h2v1h-2zM40 34h4v1h-4zM46 34h1v1h-1zM52 34h9v1h-9zM1 35h5v1h-5zM13 35h1v1h-1zM17 35h3v1h-3zM22 35h5v1h-5zM30 35h3v1h-3zM35 35h2v1h-2zM44 35h1v1h-1zM47 35h7v1h-7zM55 35h3v1h-3zM3 36h2v1h-2zM9 36h3v1h-3zM15 36h2v1h-2zM20 36h4v1h-4zM25 36h1v1h-1zM27 36h3v1h-3zM32 36h1v1h-1zM35 36h1v1h-1zM40 36h1v1h-1zM43 36h2v1h-2zM47 36h9v1h-9zM8 37h4v1h-4zM15 37h2v1h-2zM19 37h4v1h-4zM27 37h3v1h-3zM33 37h4v1h-4zM44 37h2v1h-2zM47 37h2v1h-2zM51 37h3v1h-3zM60 37h2v1h-2zM0 38h1v1h-1zM9 38h3v1h-3zM13 38h4v1h-4zM19 38h1v1h-1zM22 38h1v1h-1zM25 38h1v1h-1zM27 38h2v1h-2zM30 38h1v1h-1zM35 38h2v1h-2zM40 38h6v1h-6zM51 38h3v1h-3zM58 38h4v1h-4zM4 39h3v1h-3zM8 39h1v1h-1zM13 39h2v1h-2zM22 39h4v1h-4zM27 39h1v1h-1zM30 39h2v1h-2zM35 39h3v1h-3zM40 39h1v1h-1zM47 39h2v1h-2zM51 39h1v1h-1zM53 39h2v1h-2zM57 39h4v1h-4zM62 39h1v1h-1zM0 40h1v1h-1zM4 40h2v1h-2zM14 40h1v1h-1zM22 40h4v1h-4zM28 40h2v1h-2zM31 40h6v1h-6zM40 40h1v1h-1zM44 40h1v1h-1zM50 40h2v1h-2zM53 40h2v1h-2zM56 40h2v1h-2zM61 40h2v1h-2zM0 41h2v1h-2zM4 41h1v1h-1zM19 41h1v1h-1zM23 41h2v1h-2zM28 41h2v1h-2zM33 41h3v1h-3zM41 41h1v1h-1zM44 41h1v1h-1zM49 41h3v1h-3zM54 41h1v1h-1zM56 41h2v1h-2zM62 41h1v1h-1zM1 42h1v1h-1zM7 42h3v1h-3zM13 42h1v1h-1zM15 42h1v1h-1zM19 42h2v1h-2zM28 42h2v1h-2zM32 42h2v1h-2zM35 42h5v1h-5zM43 42h8v1h-8zM53 42h1v1h-1zM1 43h2v1h-2zM7 43h5v1h-5zM14 43h2v1h-2zM18 43h4v1h-4zM28 43h1v1h-1zM36 43h3v1h-3zM40 43h1v1h-1zM44 43h9v1h-9zM54 43h2v1h-2zM0 44h4v1h-4zM7 44h6v1h-6zM15 44h4v1h-4zM22 44h2v1h-2zM25 44h3v1h-3zM34 44h1v1h-1zM36 44h7v1h-7zM46 44h1v1h-1zM51 44h2v1h-2zM54 44h3v1h-3zM59 44h1v1h-1zM1 45h3v1h-3zM9 45h1v1h-1zM13 45h2v1h-2zM16 45h3v1h-3zM21 45h7v1h-7zM31 45h1v1h-1zM35 45h3v1h-3zM40 45h2v1h-2zM52 45h3v1h-3zM58 45h2v1h-2zM61 45h1v1h-1zM0 46h4v1h-4zM5 46h4v1h-4zM10 46h1v1h-1zM12 46h8v1h-8zM21 46h2v1h-2zM26 46h2v1h-2zM37 46h1v1h-1zM42 46h1v1h-1zM48 46h7v1h-7zM58 46h6v1h-6zM0 47h4v1h-4zM6 47h2v1h-2zM10 47h3v1h-3zM15 47h8v1h-8zM26 47h2v1h-2zM31 47h4v1h-4zM39 47h1v1h-1zM42 47h1v1h-1zM47 47h6v1h-6zM56 47h5v1h-5zM62 47h2v1h-2zM1 48h1v1h-1zM4 48h4v1h-4zM11 48h2v1h-2zM15 48h8v1h-8zM26 48h2v1h-2zM30 48h5v1h-5zM36 48h1v1h-1zM38 48h1v1h-1zM46 48h1v1h-1zM48 48h2v1h-2zM52 48h1v1h-1zM55 48h2v1h-2zM1 49h1v1h-1zM4 49h2v1h-2zM11 49h2v1h-2zM15 49h4v1h-4zM25 49h3v1h-3zM29 49h1v1h-1zM32 49h1v1h-1zM46 49h1v1h-1zM55 49h1v1h-1zM58 49h1v1h-1zM1 50h1v1h-1zM4 50h1v1h-1zM8 50h3v1h-3zM14 50h3v1h-3zM19 50h1v1h-1zM29 50h1v1h-1zM35 50h2v1h-2zM39 50h2v1h-2zM42 50h2v1h-2zM46 50h1v1h-1zM58 50h3v1h-3zM64 50h1v1h-1zM1 51h2v1h-2zM9 51h4v1h-4zM14 51h1v1h-1zM19 51h2v1h-2zM22 51h2v1h-2zM31 51h3v1h-3zM35 51h5v1h-5zM43 51h2v1h-2zM49 51h2v1h-2zM54 51h1v1h-1zM59 51h2v1h-2zM64 51h1v1h-1zM0 52h1v1h-1zM2 52h2v1h-2zM10 52h1v1h-1zM19 52h6v1h-6zM31 52h2v1h-2zM35 52h2v1h-2zM44 52h1v1h-1zM47 52h1v1h-1zM49 52h1v1h-1zM53 52h2v1h-2zM56 52h1v1h-1zM62 52h1v1h-1zM2 53h2v1h-2zM6 53h5v1h-5zM18 53h1v1h-1zM20 53h1v1h-1zM22 53h4v1h-4zM32 53h6v1h-6zM42 53h1v1h-1zM46 53h2v1h-2zM51 53h3v1h-3zM60 53h1v1h-1zM2 54h3v1h-3zM6 54h1v1h-1zM8 54h3v1h-3zM18 54h2v1h-2zM22 54h1v1h-1zM25 54h4v1h-4zM32 54h6v1h-6zM42 54h1v1h-1zM46 54h2v1h-2zM51 54h2v1h-2zM56 54h1v1h-1zM64 54h1v1h-1zM2 55h1v1h-1zM9 55h2v1h-2zM18 55h1v1h-1zM21 55h2v1h-2zM25 55h5v1h-5zM35 55h4v1h-4zM41 55h3v1h-3zM46 55h2v1h-2zM56 55h3v1h-3zM0 56h1v1h-1zM5 56h1v1h-1zM9 56h2v1h-2zM17 56h2v1h-2zM27 56h1v1h-1zM36 56h2v1h-2zM40 56h3v1h-3zM52 56h1v1h-1zM56 56h3v1h-3zM63 56h2v1h-2zM8 57h3v1h-3zM17 57h2v1h-2zM23 57h2v1h-2zM27 57h1v1h-1zM31 57h1v1h-1zM33 57h2v1h-2zM36 57h6v1h-6zM44 57h4v1h-4zM55 57h5v1h-5zM63 57h2v1h-2zM0 58h1v1h-1zM8 58h2v1h-2zM18 58h3v1h-3zM23 58h2v1h-2zM35 58h7v1h-7zM43 58h5v1h-5zM55 58h5v1h-5zM62 58h1v1h-1zM0 59h1v1h-1zM3 59h1v1h-1zM12 59h3v1h-3zM17 59h1v1h-1zM22 59h4v1h-4zM27 59h2v1h-2zM30 59h6v1h-6zM37 59h4v1h-4zM43 59h1v1h-1zM46 59h1v1h-1zM48 59h1v1h-1zM50 59h2v1h-2zM54 59h9v1h-9zM1 60h2v1h-2zM11 60h1v1h-1zM13 60h2v1h-2zM28 60h5v1h-5zM35 60h3v1h-3zM39 60h2v1h-2zM48 60h1v1h-1zM50 60h3v1h-3zM54 60h10v1h-10zM2 61h1v1h-1zM5 61h2v1h-2zM13 61h2v1h-2zM17 61h1v1h-1zM20 61h2v1h-2zM23 61h2v1h-2zM26 61h6v1h-6zM35 61h6v1h-6zM45 61h1v1h-1zM51 61h3v1h-3zM55 61h1v1h-1zM58 61h7v1h-7zM3 62h3v1h-3zM9 62h1v1h-1zM12 62h1v1h-1zM18 62h1v1h-1zM26 62h2v1h-2zM31 62h2v1h-2zM36 62h1v1h-1zM38 62h3v1h-3zM45 62h2v1h-2zM50 62h1v1h-1zM52 62h1v1h-1zM56 62h1v1h-1zM59 62h6v1h-6zM4 63h6v1h-6zM12 63h1v1h-1zM18 63h2v1h-2zM21 63h1v1h-1zM26 63h1v1h-1zM32 63h3v1h-3zM37 63h1v1h-1zM39 63h2v1h-2zM50 63h2v1h-2zM53 63h1v1h-1zM59 63h2v1h-2zM62 63h2v1h-2zM1 64h1v1h-1zM4 64h6v1h-6zM11 64h2v1h-2zM20 64h1v1h-1zM27 64h1v1h-1zM32 64h3v1h-3zM37 64h5v1h-5zM46 64h1v1h-1zM53 64h2v1h-2zM62 64h2v1h-2zM2 65h4v1h-4zM8 65h1v1h-1zM11 65h2v1h-2zM15 65h1v1h-1zM20 65h1v1h-1zM23 65h2v1h-2zM32 65h3v1h-3zM36 65h5v1h-5zM46 65h4v1h-4zM51 65h1v1h-1zM53 65h4v1h-4zM63 65h2v1h-2zM7 66h6v1h-6zM14 66h2v1h-2zM20 66h3v1h-3zM24 66h2v1h-2zM28 66h3v1h-3zM33 66h3v1h-3zM38 66h2v1h-2zM44 66h1v1h-1zM46 66h3v1h-3zM51 66h8v1h-8zM63 66h2v1h-2zM8 67h4v1h-4zM21 67h5v1h-5zM29 67h1v1h-1zM38 67h2v1h-2zM44 67h1v1h-1zM46 67h2v1h-2zM51 67h2v1h-2zM54 67h11v1h-11zM5 68h1v1h-1zM8 68h4v1h-4zM14 68h3v1h-3zM20 68h1v1h-1zM23 68h3v1h-3zM29 68h1v1h-1zM31 68h1v1h-1zM35 68h5v1h-5zM42 68h2v1h-2zM45 68h3v1h-3zM50 68h2v1h-2zM55 68h4v1h-4zM60 68h3v1h-3zM64 68h1v1h-1zM6 69h4v1h-4zM19 69h2v1h-2zM24 69h5v1h-5zM31 69h2v1h-2zM37 69h2v1h-2zM41 69h7v1h-7zM50 69h2v1h-2zM56 69h3v1h-3zM8 70h2v1h-2zM12 70h2v1h-2zM15 70h1v1h-1zM19 70h3v1h-3zM24 70h6v1h-6zM31 70h2v1h-2zM37 70h3v1h-3zM41 70h14v1h-14zM6 71h1v1h-1zM11 71h2v1h-2zM15 71h3v1h-3zM19 71h3v1h-3zM25 71h5v1h-5zM31 71h2v1h-2zM36 71h3v1h-3zM41 71h7v1h-7zM50 71h6v1h-6zM63 71h1v1h-1zM9 72h5v1h-5zM18 72h2v1h-2zM26 72h1v1h-1zM29 72h1v1h-1zM35 72h1v1h-1zM44 72h3v1h-3zM52 72h2v1h-2zM10 73h4v1h-4zM18 73h2v1h-2zM35 73h2v1h-2zM38 73h2v1h-2zM44 73h1v1h-1zM50 73h2v1h-2zM6 74h2v1h-2zM10 74h4v1h-4zM17 74h2v1h-2zM27 74h1v1h-1zM37 74h2v1h-2zM40 74h5v1h-5zM50 74h2v1h-2zM7 75h2v1h-2zM10 75h2v1h-2zM13 75h1v1h-1zM20 75h3v1h-3zM26 75h3v1h-3zM41 75h4v1h-4zM50 75h2v1h-2zM8 76h1v1h-1zM14 76h2v1h-2zM20 76h2v1h-2zM41 76h2v1h-2zM44 76h1v1h-1zM51 76h5v1h-5zM58 76h1v1h-1zM62 76h1v1h-1zM13 77h3v1h-3zM17 77h5v1h-5zM37 77h2v1h-2zM51 77h1v1h-1zM54 77h3v1h-3zM59 77h3v1h-3zM13 78h2v1h-2zM20 78h2v1h-2zM33 78h1v1h-1zM35 78h2v1h-2zM45 78h3v1h-3zM51 78h1v1h-1zM54 78h3v1h-3zM59 78h2v1h-2zM13 79h2v1h-2zM17 79h1v1h-1zM20 79h4v1h-4zM27 79h2v1h-2zM45 79h4v1h-4zM54 79h1v1h-1zM57 79h3v1h-3zM13 80h2v1h-2zM17 80h1v1h-1zM20 80h6v1h-6zM27 80h1v1h-1zM30 80h2v1h-2zM37 80h2v1h-2zM40 80h2v1h-2zM46 80h3v1h-3zM53 80h1v1h-1zM56 80h3v1h-3zM13 81h3v1h-3zM20 81h1v1h-1zM22 81h4v1h-4zM27 81h4v1h-4zM35 81h3v1h-3zM46 81h6v1h-6zM53 81h1v1h-1zM55 81h4v1h-4zM14 82h2v1h-2zM24 82h3v1h-3zM34 82h1v1h-1zM37 82h3v1h-3zM50 82h1v1h-1zM53 82h1v1h-1zM14 83h1v1h-1zM19 83h1v1h-1zM24 83h4v1h-4zM32 83h2v1h-2zM38 83h3v1h-3zM52 83h1v1h-1zM19 84h1v1h-1zM24 84h3v1h-3zM28 84h2v1h-2zM32 84h3v1h-3zM39 84h2v1h-2zM49 84h4v1h-4zM16 85h1v1h-1zM24 85h3v1h-3zM29 85h3v1h-3zM39 85h3v1h-3zM44 85h2v1h-2zM47 85h4v1h-4zM20 86h1v1h-1zM25 86h1v1h-1zM41 86h1v1h-1zM44 86h5v1h-5zM21 87h2v1h-2zM32 87h1v1h-1zM42 87h1v1h-1zM21 88h2v1h-2zM24 88h2v1h-2zM28 88h1v1h-1zM31 88h1v1h-1zM34 88h1v1h-1zM36 88h4v1h-4zM43 88h1v1h-1zM31 89h1v1h-1zM36 89h3v1h-3zM45 89h1v1h-1z"/>
<path fill="#f0668c" d="M31 0h3v1h-3zM39 0h1v1h-1zM48 0h1v1h-1zM51 0h1v1h-1zM33 1h1v1h-1zM51 1h1v1h-1zM47 2h1v1h-1zM45 5h1v1h-1zM53 5h1v1h-1zM25 6h1v1h-1zM53 6h1v1h-1zM48 9h1v1h-1zM12 12h1v1h-1zM22 12h1v1h-1zM21 13h1v1h-1zM17 14h2v1h-2zM22 14h1v1h-1zM32 14h1v1h-1zM17 15h2v1h-2zM17 16h1v1h-1zM13 17h1v1h-1zM15 17h3v1h-3zM17 18h1v1h-1zM28 18h1v1h-1zM17 19h1v1h-1zM9 20h1v1h-1zM31 20h1v1h-1zM39 20h1v1h-1zM9 21h1v1h-1zM40 22h1v1h-1zM19 26h1v1h-1zM7 27h1v1h-1zM19 27h2v1h-2zM24 27h1v1h-1zM14 28h1v1h-1zM27 30h1v1h-1zM18 31h1v1h-1zM33 31h1v1h-1zM10 32h1v1h-1zM33 32h1v1h-1zM39 33h1v1h-1zM56 33h1v1h-1zM15 35h2v1h-2zM40 35h1v1h-1zM36 36h1v1h-1zM12 37h1v1h-1zM41 39h2v1h-2zM46 39h1v1h-1zM7 40h2v1h-2zM41 40h3v1h-3zM46 40h2v1h-2zM42 41h2v1h-2zM47 41h1v1h-1zM58 41h1v1h-1zM0 42h1v1h-1zM42 42h1v1h-1zM26 43h1v1h-1zM33 43h1v1h-1zM60 43h2v1h-2zM40 46h1v1h-1zM44 46h2v1h-2zM55 46h2v1h-2zM40 47h1v1h-1zM53 47h2v1h-2zM2 48h1v1h-1zM40 48h4v1h-4zM2 49h2v1h-2zM30 49h2v1h-2zM33 49h1v1h-1zM41 49h4v1h-4zM47 49h1v1h-1zM59 49h2v1h-2zM62 49h2v1h-2zM3 50h1v1h-1zM5 50h1v1h-1zM31 50h1v1h-1zM34 50h1v1h-1zM48 50h1v1h-1zM54 50h2v1h-2zM62 50h2v1h-2zM3 51h3v1h-3zM24 51h1v1h-1zM34 51h1v1h-1zM48 51h1v1h-1zM53 51h1v1h-1zM62 51h2v1h-2zM1 52h1v1h-1zM4 52h3v1h-3zM8 52h1v1h-1zM48 52h1v1h-1zM1 53h1v1h-1zM48 53h1v1h-1zM57 53h1v1h-1zM58 54h1v1h-1zM1 55h1v1h-1zM6 55h3v1h-3zM64 55h1v1h-1zM1 56h1v1h-1zM6 56h3v1h-3zM33 56h3v1h-3zM60 56h3v1h-3zM6 57h2v1h-2zM35 57h1v1h-1zM3 58h2v1h-2zM6 58h2v1h-2zM27 58h1v1h-1zM18 60h1v1h-1zM43 60h2v1h-2zM43 61h2v1h-2zM42 62h2v1h-2zM42 63h2v1h-2zM51 64h1v1h-1zM14 65h1v1h-1zM52 65h1v1h-1zM34 67h1v1h-1zM45 67h1v1h-1zM49 69h1v1h-1zM55 70h1v1h-1zM48 71h2v1h-2zM47 72h1v1h-1zM28 73h1v1h-1zM47 73h1v1h-1zM28 74h1v1h-1zM24 76h2v1h-2zM45 76h1v1h-1zM24 77h4v1h-4zM45 77h1v1h-1zM25 78h1v1h-1zM28 80h2v1h-2zM42 80h1v1h-1zM12 81h1v1h-1zM41 81h2v1h-2zM13 82h1v1h-1zM15 83h2v1h-2zM15 84h4v1h-4zM41 84h1v1h-1zM30 86h1v1h-1zM30 87h2v1h-2zM29 88h2v1h-2zM29 89h2v1h-2zM42 89h1v1h-1z"/>
<path fill="#eebb44" d="M26 7h1v1h-1zM26 8h1v1h-1zM26 9h1v1h-1zM52 13h1v1h-1zM15 15h1v1h-1zM12 16h1v1h-1zM9 17h4v1h-4zM9 24h1v1h-1zM19 24h1v1h-1zM8 25h2v1h-2zM6 26h2v1h-2zM20 26h1v1h-1zM6 27h1v1h-1zM20 28h2v1h-2zM1 32h2v1h-2zM5 32h1v1h-1zM11 32h1v1h-1zM14 32h2v1h-2zM18 32h1v1h-1zM3 33h1v1h-1zM11 33h1v1h-1zM2 34h1v1h-1zM14 35h1v1h-1zM5 36h2v1h-2zM8 36h1v1h-1zM12 36h1v1h-1zM14 36h1v1h-1zM56 36h2v1h-2zM3 37h2v1h-2zM8 38h1v1h-1zM12 38h1v1h-1zM2 39h2v1h-2zM10 39h3v1h-3zM15 39h1v1h-1zM3 40h1v1h-1zM49 40h1v1h-1zM58 40h1v1h-1zM4 42h1v1h-1zM41 42h1v1h-1zM3 43h2v1h-2zM39 43h1v1h-1zM41 43h3v1h-3zM58 43h1v1h-1zM4 44h3v1h-3zM30 44h2v1h-2zM45 44h1v1h-1zM58 44h1v1h-1zM4 45h2v1h-2zM29 45h2v1h-2zM4 46h1v1h-1zM30 46h2v1h-2zM41 46h1v1h-1zM30 47h1v1h-1zM41 47h1v1h-1zM43 47h3v1h-3zM0 48h1v1h-1zM37 48h1v1h-1zM53 48h2v1h-2zM0 49h1v1h-1zM28 49h1v1h-1zM34 49h1v1h-1zM51 49h4v1h-4zM26 50h2v1h-2zM33 50h1v1h-1zM37 50h2v1h-2zM45 50h1v1h-1zM47 50h1v1h-1zM51 50h3v1h-3zM30 51h1v1h-1zM42 51h1v1h-1zM47 51h1v1h-1zM30 53h2v1h-2zM38 53h1v1h-1zM43 53h3v1h-3zM7 54h1v1h-1zM41 54h1v1h-1zM43 54h1v1h-1zM53 54h1v1h-1zM32 55h1v1h-1zM48 55h2v1h-2zM44 56h1v1h-1zM46 56h1v1h-1zM49 56h2v1h-2zM53 56h1v1h-1zM59 56h1v1h-1zM0 57h2v1h-2zM28 57h1v1h-1zM53 57h1v1h-1zM1 58h1v1h-1zM50 58h1v1h-1zM44 59h2v1h-2zM45 60h1v1h-1zM41 68h1v1h-1zM4 69h2v1h-2zM4 70h2v1h-2zM26 73h1v1h-1zM12 75h1v1h-1zM11 76h2v1h-2zM11 77h2v1h-2zM10 79h1v1h-1zM15 80h2v1h-2zM16 81h2v1h-2zM23 82h1v1h-1zM28 83h1v1h-1z"/>
</g>
<g transform="translate(399.90 24.50) scale(1.2692 1.2730)" shape-rendering="crispEdges">
<rect x="0" y="0" width="52" height="89" fill="#000"/>
<path fill="#2200c8" d="M36 0h1v1h-1zM37 1h1v1h-1zM37 2h3v1h-3zM37 3h2v1h-2zM37 4h2v1h-2zM37 5h2v1h-2zM43 10h1v1h-1zM38 11h3v1h-3zM37 12h5v1h-5zM38 13h4v1h-4zM46 13h1v1h-1zM33 14h1v1h-1zM39 14h3v1h-3zM46 14h1v1h-1zM39 15h3v1h-3zM45 15h3v1h-3zM38 16h4v1h-4zM45 16h3v1h-3zM21 17h1v1h-1zM38 17h5v1h-5zM44 17h4v1h-4zM37 18h11v1h-11zM37 19h8v1h-8zM36 20h8v1h-8zM48 20h1v1h-1zM36 21h9v1h-9zM47 21h2v1h-2zM36 22h9v1h-9zM47 22h2v1h-2zM37 23h9v1h-9zM47 23h2v1h-2zM37 24h10v1h-10zM38 25h9v1h-9zM48 25h1v1h-1zM38 26h12v1h-12zM37 27h5v1h-5zM44 27h6v1h-6zM37 28h5v1h-5zM45 28h5v1h-5zM37 29h4v1h-4zM44 29h6v1h-6zM37 30h4v1h-4zM44 30h6v1h-6zM37 31h4v1h-4zM43 31h7v1h-7zM37 32h13v1h-13zM36 33h14v1h-14zM26 34h3v1h-3zM36 34h13v1h-13zM26 35h3v1h-3zM36 35h15v1h-15zM36 36h2v1h-2zM40 36h11v1h-11zM42 37h9v1h-9zM42 38h5v1h-5zM49 38h2v1h-2zM43 39h1v1h-1zM49 39h2v1h-2zM20 40h1v1h-1zM48 40h3v1h-3zM19 41h2v1h-2zM48 41h3v1h-3zM20 42h1v1h-1zM28 42h2v1h-2zM48 42h3v1h-3zM27 43h2v1h-2zM45 43h6v1h-6zM38 44h5v1h-5zM45 44h6v1h-6zM38 45h13v1h-13zM38 46h9v1h-9zM50 46h1v1h-1zM26 47h2v1h-2zM39 47h8v1h-8zM50 47h1v1h-1zM26 48h3v1h-3zM39 48h12v1h-12zM27 49h2v1h-2zM39 49h12v1h-12zM38 50h5v1h-5zM44 50h7v1h-7zM36 51h6v1h-6zM44 51h7v1h-7zM36 52h6v1h-6zM44 52h7v1h-7zM31 53h3v1h-3zM35 53h12v1h-12zM50 53h1v1h-1zM30 54h17v1h-17zM50 54h1v1h-1zM30 55h17v1h-17zM50 55h1v1h-1zM30 56h2v1h-2zM34 56h3v1h-3zM39 56h9v1h-9zM49 56h2v1h-2zM40 57h11v1h-11zM36 58h2v1h-2zM41 58h10v1h-10zM34 59h4v1h-4zM42 59h6v1h-6zM50 59h1v1h-1zM33 60h6v1h-6zM42 60h5v1h-5zM50 60h1v1h-1zM33 61h6v1h-6zM42 61h5v1h-5zM50 61h1v1h-1zM34 62h13v1h-13zM50 62h1v1h-1zM34 63h9v1h-9zM45 63h6v1h-6zM35 64h9v1h-9zM47 64h4v1h-4zM34 65h2v1h-2zM39 65h5v1h-5zM47 65h4v1h-4zM33 66h3v1h-3zM39 66h5v1h-5zM47 66h4v1h-4zM33 67h3v1h-3zM38 67h7v1h-7zM48 67h2v1h-2zM11 68h1v1h-1zM33 68h12v1h-12zM48 68h2v1h-2zM37 69h9v1h-9zM48 69h2v1h-2zM11 70h6v1h-6zM29 70h2v1h-2zM42 70h4v1h-4zM48 70h2v1h-2zM10 71h7v1h-7zM29 71h2v1h-2zM43 71h3v1h-3zM48 71h2v1h-2zM10 72h4v1h-4zM37 72h2v1h-2zM43 72h7v1h-7zM10 73h3v1h-3zM37 73h12v1h-12zM11 74h1v1h-1zM38 74h7v1h-7zM47 74h2v1h-2zM38 75h6v1h-6zM46 75h2v1h-2zM37 76h1v1h-1zM40 76h4v1h-4zM46 76h2v1h-2zM18 77h1v1h-1zM36 77h11v1h-11zM18 78h2v1h-2zM33 78h1v1h-1zM36 78h10v1h-10zM18 79h1v1h-1zM32 79h14v1h-14zM32 80h10v1h-10zM43 80h2v1h-2zM32 81h9v1h-9zM33 82h8v1h-8zM33 83h9v1h-9zM32 84h8v1h-8zM32 85h3v1h-3zM31 86h3v1h-3zM29 87h1v1h-1zM29 88h1v1h-1z"/>
<path fill="#4e00f4" d="M36 1h1v1h-1zM36 2h1v1h-1zM36 3h1v1h-1zM39 3h2v1h-2zM36 4h1v1h-1zM39 4h3v1h-3zM36 5h1v1h-1zM39 5h4v1h-4zM36 6h6v1h-6zM43 6h1v1h-1zM35 7h5v1h-5zM44 7h1v1h-1zM35 8h5v1h-5zM42 8h3v1h-3zM36 9h10v1h-10zM30 10h3v1h-3zM36 10h7v1h-7zM44 10h2v1h-2zM29 11h9v1h-9zM41 11h5v1h-5zM28 12h9v1h-9zM42 12h1v1h-1zM45 12h2v1h-2zM23 13h2v1h-2zM28 13h10v1h-10zM42 13h1v1h-1zM44 13h2v1h-2zM22 14h3v1h-3zM29 14h4v1h-4zM34 14h5v1h-5zM42 14h4v1h-4zM16 15h2v1h-2zM22 15h1v1h-1zM29 15h10v1h-10zM42 15h3v1h-3zM21 16h2v1h-2zM27 16h11v1h-11zM42 16h3v1h-3zM20 17h1v1h-1zM22 17h1v1h-1zM27 17h11v1h-11zM43 17h1v1h-1zM20 18h2v1h-2zM28 18h9v1h-9zM27 19h10v1h-10zM45 19h3v1h-3zM13 20h1v1h-1zM26 20h5v1h-5zM32 20h4v1h-4zM44 20h4v1h-4zM13 21h2v1h-2zM26 21h4v1h-4zM32 21h4v1h-4zM45 21h2v1h-2zM26 22h10v1h-10zM45 22h2v1h-2zM26 23h11v1h-11zM46 23h1v1h-1zM19 24h2v1h-2zM26 24h11v1h-11zM47 24h2v1h-2zM19 25h2v1h-2zM26 25h12v1h-12zM47 25h1v1h-1zM19 26h3v1h-3zM25 26h13v1h-13zM19 27h18v1h-18zM42 27h2v1h-2zM19 28h18v1h-18zM42 28h3v1h-3zM22 29h15v1h-15zM41 29h1v1h-1zM43 29h1v1h-1zM23 30h14v1h-14zM41 30h3v1h-3zM26 31h11v1h-11zM41 31h2v1h-2zM26 32h11v1h-11zM25 33h11v1h-11zM25 34h1v1h-1zM29 34h7v1h-7zM49 34h2v1h-2zM5 35h1v1h-1zM25 35h1v1h-1zM29 35h7v1h-7zM4 36h3v1h-3zM25 36h11v1h-11zM38 36h2v1h-2zM4 37h3v1h-3zM27 37h15v1h-15zM4 38h2v1h-2zM27 38h15v1h-15zM47 38h2v1h-2zM4 39h1v1h-1zM26 39h17v1h-17zM44 39h5v1h-5zM3 40h1v1h-1zM19 40h1v1h-1zM26 40h22v1h-22zM21 41h1v1h-1zM26 41h14v1h-14zM42 41h6v1h-6zM19 42h1v1h-1zM21 42h1v1h-1zM25 42h3v1h-3zM30 42h18v1h-18zM20 43h1v1h-1zM24 43h3v1h-3zM29 43h16v1h-16zM24 44h14v1h-14zM43 44h2v1h-2zM24 45h14v1h-14zM23 46h15v1h-15zM47 46h3v1h-3zM23 47h3v1h-3zM28 47h11v1h-11zM47 47h3v1h-3zM15 48h1v1h-1zM23 48h3v1h-3zM29 48h10v1h-10zM20 49h1v1h-1zM22 49h5v1h-5zM29 49h10v1h-10zM23 50h15v1h-15zM43 50h1v1h-1zM23 51h13v1h-13zM42 51h2v1h-2zM23 52h13v1h-13zM42 52h2v1h-2zM11 53h2v1h-2zM23 53h3v1h-3zM28 53h3v1h-3zM34 53h1v1h-1zM47 53h3v1h-3zM10 54h3v1h-3zM24 54h2v1h-2zM28 54h2v1h-2zM47 54h3v1h-3zM28 55h2v1h-2zM47 55h3v1h-3zM24 56h3v1h-3zM28 56h2v1h-2zM32 56h2v1h-2zM37 56h2v1h-2zM48 56h1v1h-1zM24 57h16v1h-16zM23 58h13v1h-13zM38 58h3v1h-3zM22 59h12v1h-12zM38 59h4v1h-4zM48 59h2v1h-2zM25 60h8v1h-8zM39 60h3v1h-3zM47 60h3v1h-3zM25 61h8v1h-8zM39 61h3v1h-3zM47 61h3v1h-3zM25 62h9v1h-9zM47 62h3v1h-3zM24 63h10v1h-10zM43 63h2v1h-2zM24 64h11v1h-11zM44 64h3v1h-3zM24 65h10v1h-10zM36 65h3v1h-3zM44 65h3v1h-3zM25 66h8v1h-8zM36 66h3v1h-3zM44 66h3v1h-3zM11 67h1v1h-1zM25 67h8v1h-8zM36 67h2v1h-2zM45 67h3v1h-3zM50 67h1v1h-1zM26 68h7v1h-7zM45 68h3v1h-3zM50 68h1v1h-1zM11 69h2v1h-2zM25 69h12v1h-12zM46 69h2v1h-2zM50 69h1v1h-1zM10 70h1v1h-1zM19 70h2v1h-2zM24 70h5v1h-5zM31 70h11v1h-11zM46 70h2v1h-2zM9 71h1v1h-1zM23 71h6v1h-6zM31 71h12v1h-12zM46 71h2v1h-2zM9 72h1v1h-1zM14 72h2v1h-2zM22 72h15v1h-15zM39 72h4v1h-4zM20 73h14v1h-14zM35 73h2v1h-2zM12 74h1v1h-1zM20 74h14v1h-14zM36 74h2v1h-2zM45 74h2v1h-2zM23 75h15v1h-15zM44 75h2v1h-2zM24 76h13v1h-13zM38 76h2v1h-2zM44 76h2v1h-2zM19 77h1v1h-1zM24 77h12v1h-12zM17 78h1v1h-1zM24 78h9v1h-9zM34 78h2v1h-2zM24 79h8v1h-8zM24 80h8v1h-8zM42 80h1v1h-1zM25 81h7v1h-7zM41 81h3v1h-3zM25 82h8v1h-8zM41 82h2v1h-2zM26 83h7v1h-7zM27 84h5v1h-5zM27 85h5v1h-5zM35 85h4v1h-4zM27 86h4v1h-4zM34 86h3v1h-3zM27 87h2v1h-2zM30 87h5v1h-5zM24 88h1v1h-1zM27 88h2v1h-2zM30 88h2v1h-2z"/>
<path fill="#c530f2" d="M35 0h1v1h-1zM35 1h1v1h-1zM25 6h1v1h-1zM42 6h1v1h-1zM25 7h1v1h-1zM40 7h4v1h-4zM15 8h3v1h-3zM40 8h2v1h-2zM14 9h4v1h-4zM31 9h1v1h-1zM35 9h1v1h-1zM14 10h2v1h-2zM33 10h1v1h-1zM35 10h1v1h-1zM13 11h3v1h-3zM13 12h2v1h-2zM43 12h2v1h-2zM12 13h6v1h-6zM22 13h1v1h-1zM43 13h1v1h-1zM13 14h6v1h-6zM21 14h1v1h-1zM15 15h1v1h-1zM18 15h4v1h-4zM23 15h2v1h-2zM28 15h1v1h-1zM17 16h4v1h-4zM23 16h1v1h-1zM25 16h1v1h-1zM19 17h1v1h-1zM22 18h1v1h-1zM27 18h1v1h-1zM11 19h5v1h-5zM23 19h1v1h-1zM8 20h2v1h-2zM11 20h2v1h-2zM14 20h2v1h-2zM31 20h1v1h-1zM8 21h5v1h-5zM15 21h1v1h-1zM30 21h2v1h-2zM8 22h2v1h-2zM11 22h5v1h-5zM11 23h3v1h-3zM19 23h1v1h-1zM25 23h1v1h-1zM10 24h2v1h-2zM25 24h1v1h-1zM9 25h3v1h-3zM21 25h1v1h-1zM25 25h1v1h-1zM8 26h3v1h-3zM22 26h1v1h-1zM8 27h2v1h-2zM18 27h1v1h-1zM18 28h1v1h-1zM42 29h1v1h-1zM25 31h1v1h-1zM4 34h4v1h-4zM4 35h1v1h-1zM6 35h2v1h-2zM15 35h2v1h-2zM7 36h2v1h-2zM15 36h2v1h-2zM7 37h1v1h-1zM26 37h1v1h-1zM6 38h1v1h-1zM26 38h1v1h-1zM3 39h1v1h-1zM5 39h1v1h-1zM20 39h1v1h-1zM4 40h1v1h-1zM21 40h1v1h-1zM2 41h2v1h-2zM40 41h2v1h-2zM19 43h1v1h-1zM21 43h1v1h-1zM15 47h2v1h-2zM14 48h1v1h-1zM16 48h1v1h-1zM22 48h1v1h-1zM15 49h1v1h-1zM21 49h1v1h-1zM0 51h1v1h-1zM0 52h1v1h-1zM11 52h2v1h-2zM10 53h1v1h-1zM10 55h3v1h-3zM11 56h3v1h-3zM12 57h2v1h-2zM12 58h2v1h-2zM12 59h2v1h-2zM23 60h2v1h-2zM3 63h2v1h-2zM7 63h2v1h-2zM3 64h2v1h-2zM6 64h4v1h-4zM6 65h4v1h-4zM12 65h2v1h-2zM6 66h7v1h-7zM5 67h1v1h-1zM8 67h3v1h-3zM12 67h1v1h-1zM2 68h1v1h-1zM5 68h1v1h-1zM8 68h3v1h-3zM12 68h1v1h-1zM25 68h1v1h-1zM2 69h9v1h-9zM3 70h7v1h-7zM17 70h1v1h-1zM3 71h6v1h-6zM22 71h1v1h-1zM4 72h5v1h-5zM4 73h6v1h-6zM13 73h1v1h-1zM34 73h1v1h-1zM5 74h2v1h-2zM10 74h1v1h-1zM34 74h2v1h-2zM5 75h2v1h-2zM10 75h3v1h-3zM20 75h3v1h-3zM6 76h1v1h-1zM11 76h2v1h-2zM18 76h3v1h-3zM23 76h1v1h-1zM6 77h1v1h-1zM11 77h2v1h-2zM17 77h1v1h-1zM20 77h1v1h-1zM16 78h1v1h-1zM17 79h1v1h-1zM19 79h1v1h-1zM8 80h1v1h-1zM18 80h1v1h-1zM9 81h1v1h-1zM24 81h1v1h-1zM20 82h5v1h-5zM20 83h4v1h-4zM25 83h1v1h-1zM20 84h3v1h-3zM15 86h2v1h-2zM17 87h1v1h-1zM23 87h2v1h-2zM23 88h1v1h-1zM25 88h1v1h-1z"/>
<path fill="#f0668c" d="M23 0h2v1h-2zM26 0h9v1h-9zM26 1h9v1h-9zM26 2h10v1h-10zM22 3h1v1h-1zM26 3h10v1h-10zM19 4h17v1h-17zM19 5h17v1h-17zM20 6h5v1h-5zM26 6h10v1h-10zM16 7h5v1h-5zM22 7h3v1h-3zM26 7h9v1h-9zM18 8h17v1h-17zM18 9h13v1h-13zM32 9h3v1h-3zM16 10h14v1h-14zM34 10h1v1h-1zM16 11h13v1h-13zM12 12h1v1h-1zM15 12h13v1h-13zM18 13h4v1h-4zM25 13h3v1h-3zM11 14h2v1h-2zM19 14h2v1h-2zM25 14h4v1h-4zM11 15h4v1h-4zM25 15h3v1h-3zM10 16h1v1h-1zM15 16h2v1h-2zM24 16h1v1h-1zM26 16h1v1h-1zM16 17h3v1h-3zM23 17h4v1h-4zM11 18h9v1h-9zM23 18h4v1h-4zM9 19h2v1h-2zM16 19h7v1h-7zM24 19h3v1h-3zM10 20h1v1h-1zM16 20h10v1h-10zM16 21h10v1h-10zM10 22h1v1h-1zM16 22h10v1h-10zM8 23h3v1h-3zM14 23h5v1h-5zM20 23h5v1h-5zM8 24h2v1h-2zM12 24h7v1h-7zM21 24h4v1h-4zM6 25h3v1h-3zM12 25h7v1h-7zM22 25h3v1h-3zM6 26h2v1h-2zM11 26h8v1h-8zM23 26h2v1h-2zM6 27h2v1h-2zM10 27h1v1h-1zM13 27h5v1h-5zM8 28h1v1h-1zM13 28h5v1h-5zM13 29h9v1h-9zM14 30h9v1h-9zM15 31h2v1h-2zM19 31h6v1h-6zM9 32h2v1h-2zM15 32h11v1h-11zM4 33h7v1h-7zM14 33h8v1h-8zM23 33h2v1h-2zM8 34h3v1h-3zM13 34h7v1h-7zM23 34h2v1h-2zM8 35h7v1h-7zM17 35h4v1h-4zM23 35h2v1h-2zM3 36h1v1h-1zM9 36h6v1h-6zM17 36h8v1h-8zM3 37h1v1h-1zM11 37h15v1h-15zM3 38h1v1h-1zM15 38h11v1h-11zM16 39h4v1h-4zM21 39h5v1h-5zM5 40h1v1h-1zM16 40h3v1h-3zM22 40h4v1h-4zM4 41h1v1h-1zM16 41h3v1h-3zM22 41h4v1h-4zM16 42h3v1h-3zM22 42h3v1h-3zM14 43h5v1h-5zM22 43h2v1h-2zM13 44h11v1h-11zM11 45h13v1h-13zM11 46h12v1h-12zM12 47h3v1h-3zM17 47h6v1h-6zM7 48h1v1h-1zM13 48h1v1h-1zM17 48h5v1h-5zM13 49h2v1h-2zM16 49h4v1h-4zM13 50h10v1h-10zM12 51h11v1h-11zM10 52h1v1h-1zM13 52h10v1h-10zM0 53h1v1h-1zM13 53h10v1h-10zM26 53h2v1h-2zM9 54h1v1h-1zM13 54h11v1h-11zM26 54h2v1h-2zM9 55h1v1h-1zM13 55h15v1h-15zM9 56h2v1h-2zM14 56h2v1h-2zM18 56h6v1h-6zM27 56h1v1h-1zM9 57h3v1h-3zM14 57h2v1h-2zM20 57h4v1h-4zM9 58h3v1h-3zM14 58h3v1h-3zM21 58h2v1h-2zM10 59h2v1h-2zM14 59h4v1h-4zM21 59h1v1h-1zM10 60h8v1h-8zM20 60h3v1h-3zM10 61h6v1h-6zM18 61h7v1h-7zM3 62h2v1h-2zM7 62h9v1h-9zM18 62h7v1h-7zM2 63h1v1h-1zM5 63h2v1h-2zM9 63h10v1h-10zM20 63h4v1h-4zM2 64h1v1h-1zM5 64h1v1h-1zM10 64h14v1h-14zM1 65h5v1h-5zM10 65h2v1h-2zM14 65h10v1h-10zM1 66h5v1h-5zM13 66h12v1h-12zM2 67h3v1h-3zM6 67h2v1h-2zM13 67h12v1h-12zM3 68h2v1h-2zM6 68h2v1h-2zM13 68h12v1h-12zM13 69h12v1h-12zM18 70h1v1h-1zM21 70h3v1h-3zM17 71h5v1h-5zM16 72h6v1h-6zM14 73h6v1h-6zM7 74h3v1h-3zM13 74h7v1h-7zM7 75h3v1h-3zM13 75h7v1h-7zM7 76h1v1h-1zM10 76h1v1h-1zM13 76h5v1h-5zM21 76h2v1h-2zM7 77h4v1h-4zM13 77h4v1h-4zM21 77h3v1h-3zM7 78h9v1h-9zM20 78h4v1h-4zM8 79h9v1h-9zM20 79h4v1h-4zM9 80h5v1h-5zM15 80h3v1h-3zM19 80h5v1h-5zM10 81h14v1h-14zM10 82h10v1h-10zM11 83h9v1h-9zM24 83h1v1h-1zM12 84h8v1h-8zM23 84h4v1h-4zM14 85h13v1h-13zM17 86h10v1h-10zM18 87h5v1h-5zM25 87h2v1h-2zM20 88h3v1h-3zM26 88h1v1h-1z"/>
<path fill="#eebb44" d="M22 0h1v1h-1zM25 0h1v1h-1zM21 1h5v1h-5zM20 2h6v1h-6zM19 3h3v1h-3zM23 3h3v1h-3zM18 4h1v1h-1zM18 5h1v1h-1zM17 6h3v1h-3zM21 7h1v1h-1zM11 16h4v1h-4zM10 17h6v1h-6zM9 18h2v1h-2zM7 23h1v1h-1zM7 24h1v1h-1zM11 27h2v1h-2zM5 28h3v1h-3zM9 28h4v1h-4zM5 29h8v1h-8zM5 30h9v1h-9zM4 31h11v1h-11zM17 31h2v1h-2zM4 32h5v1h-5zM11 32h4v1h-4zM11 33h3v1h-3zM22 33h1v1h-1zM11 34h2v1h-2zM20 34h3v1h-3zM21 35h2v1h-2zM8 37h3v1h-3zM7 38h8v1h-8zM6 39h10v1h-10zM6 40h10v1h-10zM5 41h11v1h-11zM2 42h14v1h-14zM2 43h12v1h-12zM2 44h11v1h-11zM1 45h10v1h-10zM1 46h10v1h-10zM1 47h11v1h-11zM1 48h6v1h-6zM8 48h5v1h-5zM1 49h12v1h-12zM1 50h12v1h-12zM1 51h11v1h-11zM1 52h9v1h-9zM1 53h9v1h-9zM0 54h9v1h-9zM0 55h9v1h-9zM0 56h9v1h-9zM16 56h2v1h-2zM0 57h9v1h-9zM16 57h4v1h-4zM0 58h9v1h-9zM17 58h4v1h-4zM0 59h10v1h-10zM18 59h3v1h-3zM0 60h10v1h-10zM18 60h2v1h-2zM0 61h10v1h-10zM16 61h2v1h-2zM1 62h2v1h-2zM5 62h2v1h-2zM16 62h2v1h-2zM1 63h1v1h-1zM19 63h1v1h-1zM1 64h1v1h-1zM8 76h2v1h-2zM14 80h1v1h-1z"/>
</g>
<g transform="translate(551.00 23.90) scale(1.2692 1.2656)" shape-rendering="crispEdges">
<rect x="0" y="0" width="52" height="90" fill="#000"/>
<path fill="#2200c8" d="M34 0h3v1h-3zM22 1h1v1h-1zM30 1h2v1h-2zM34 1h2v1h-2zM21 2h4v1h-4zM29 2h2v1h-2zM34 2h2v1h-2zM20 3h2v1h-2zM24 3h3v1h-3zM30 3h1v1h-1zM35 3h1v1h-1zM40 3h1v1h-1zM20 4h2v1h-2zM25 4h2v1h-2zM32 4h4v1h-4zM38 4h4v1h-4zM19 5h3v1h-3zM26 5h1v1h-1zM30 5h5v1h-5zM39 5h2v1h-2zM20 6h1v1h-1zM26 6h7v1h-7zM37 6h1v1h-1zM39 6h1v1h-1zM41 6h3v1h-3zM28 7h1v1h-1zM39 7h2v1h-2zM16 8h2v1h-2zM40 8h1v1h-1zM44 8h1v1h-1zM15 9h2v1h-2zM36 9h1v1h-1zM38 9h2v1h-2zM27 10h2v1h-2zM31 10h2v1h-2zM35 10h2v1h-2zM38 10h2v1h-2zM42 10h2v1h-2zM27 11h3v1h-3zM32 11h4v1h-4zM38 11h3v1h-3zM42 11h1v1h-1zM16 12h1v1h-1zM31 12h10v1h-10zM42 12h2v1h-2zM18 13h1v1h-1zM31 13h5v1h-5zM37 13h3v1h-3zM42 13h4v1h-4zM16 14h1v1h-1zM31 14h6v1h-6zM41 14h6v1h-6zM32 15h5v1h-5zM41 15h1v1h-1zM35 16h2v1h-2zM25 17h1v1h-1zM31 17h1v1h-1zM39 17h1v1h-1zM24 18h2v1h-2zM31 18h1v1h-1zM34 18h1v1h-1zM43 18h2v1h-2zM18 19h2v1h-2zM21 19h3v1h-3zM30 19h2v1h-2zM39 19h1v1h-1zM43 19h2v1h-2zM18 20h1v1h-1zM22 20h3v1h-3zM29 20h5v1h-5zM37 20h3v1h-3zM42 20h2v1h-2zM47 20h1v1h-1zM22 21h12v1h-12zM36 21h5v1h-5zM42 21h1v1h-1zM44 21h4v1h-4zM20 22h2v1h-2zM25 22h2v1h-2zM29 22h5v1h-5zM36 22h6v1h-6zM44 22h4v1h-4zM12 23h2v1h-2zM20 23h4v1h-4zM36 23h2v1h-2zM40 23h3v1h-3zM44 23h2v1h-2zM11 24h2v1h-2zM18 24h1v1h-1zM21 24h4v1h-4zM28 24h1v1h-1zM33 24h2v1h-2zM40 24h3v1h-3zM7 25h2v1h-2zM11 25h1v1h-1zM18 25h1v1h-1zM28 25h2v1h-2zM37 25h6v1h-6zM6 26h4v1h-4zM18 26h1v1h-1zM28 26h2v1h-2zM32 26h1v1h-1zM38 26h2v1h-2zM42 26h1v1h-1zM46 26h2v1h-2zM6 27h5v1h-5zM18 27h2v1h-2zM29 27h5v1h-5zM35 27h1v1h-1zM39 27h1v1h-1zM41 27h8v1h-8zM10 28h1v1h-1zM18 28h2v1h-2zM23 28h2v1h-2zM26 28h1v1h-1zM29 28h4v1h-4zM38 28h11v1h-11zM12 29h1v1h-1zM22 29h3v1h-3zM31 29h3v1h-3zM37 29h5v1h-5zM45 29h5v1h-5zM12 30h2v1h-2zM17 30h1v1h-1zM20 30h4v1h-4zM32 30h3v1h-3zM37 30h3v1h-3zM44 30h6v1h-6zM8 31h1v1h-1zM11 31h2v1h-2zM15 31h3v1h-3zM22 31h2v1h-2zM28 31h1v1h-1zM32 31h8v1h-8zM42 31h2v1h-2zM46 31h4v1h-4zM5 32h5v1h-5zM16 32h3v1h-3zM20 32h3v1h-3zM26 32h1v1h-1zM33 32h8v1h-8zM42 32h1v1h-1zM46 32h2v1h-2zM4 33h2v1h-2zM8 33h2v1h-2zM12 33h2v1h-2zM20 33h3v1h-3zM33 33h7v1h-7zM41 33h1v1h-1zM45 33h5v1h-5zM7 34h3v1h-3zM12 34h3v1h-3zM20 34h2v1h-2zM33 34h6v1h-6zM44 34h1v1h-1zM46 34h2v1h-2zM7 35h3v1h-3zM14 35h2v1h-2zM32 35h3v1h-3zM36 35h8v1h-8zM46 35h1v1h-1zM14 36h1v1h-1zM19 36h2v1h-2zM33 36h1v1h-1zM38 36h5v1h-5zM47 36h2v1h-2zM14 37h2v1h-2zM19 37h2v1h-2zM26 37h2v1h-2zM29 37h2v1h-2zM39 37h3v1h-3zM47 37h3v1h-3zM8 38h2v1h-2zM14 38h1v1h-1zM18 38h2v1h-2zM32 38h1v1h-1zM37 38h1v1h-1zM47 38h2v1h-2zM50 38h1v1h-1zM8 39h2v1h-2zM13 39h1v1h-1zM18 39h1v1h-1zM35 39h3v1h-3zM13 40h2v1h-2zM21 40h3v1h-3zM28 40h1v1h-1zM31 40h1v1h-1zM35 40h3v1h-3zM40 40h5v1h-5zM9 41h1v1h-1zM23 41h1v1h-1zM27 41h6v1h-6zM34 41h4v1h-4zM40 41h4v1h-4zM47 41h2v1h-2zM6 42h5v1h-5zM22 42h4v1h-4zM28 42h5v1h-5zM34 42h3v1h-3zM47 42h4v1h-4zM5 43h1v1h-1zM22 43h3v1h-3zM34 43h2v1h-2zM48 43h3v1h-3zM7 44h2v1h-2zM22 44h7v1h-7zM48 44h1v1h-1zM6 45h4v1h-4zM16 45h3v1h-3zM21 45h5v1h-5zM51 45h1v1h-1zM3 46h2v1h-2zM6 46h3v1h-3zM16 46h2v1h-2zM22 46h4v1h-4zM28 46h3v1h-3zM35 46h1v1h-1zM41 46h2v1h-2zM47 46h2v1h-2zM51 46h1v1h-1zM2 47h2v1h-2zM22 47h4v1h-4zM28 47h2v1h-2zM31 47h1v1h-1zM34 47h2v1h-2zM38 47h1v1h-1zM43 47h2v1h-2zM46 47h3v1h-3zM4 48h1v1h-1zM22 48h2v1h-2zM28 48h2v1h-2zM34 48h2v1h-2zM37 48h3v1h-3zM43 48h1v1h-1zM49 48h1v1h-1zM8 49h1v1h-1zM20 49h1v1h-1zM22 49h2v1h-2zM30 49h1v1h-1zM36 49h1v1h-1zM38 49h2v1h-2zM48 49h3v1h-3zM6 50h3v1h-3zM20 50h8v1h-8zM31 50h1v1h-1zM12 51h1v1h-1zM20 51h6v1h-6zM27 51h1v1h-1zM34 51h1v1h-1zM42 51h1v1h-1zM45 51h2v1h-2zM11 52h3v1h-3zM20 52h5v1h-5zM27 52h1v1h-1zM33 52h1v1h-1zM45 52h2v1h-2zM49 52h1v1h-1zM1 53h2v1h-2zM8 53h3v1h-3zM14 53h1v1h-1zM20 53h1v1h-1zM26 53h4v1h-4zM37 53h3v1h-3zM46 53h1v1h-1zM49 53h1v1h-1zM9 54h1v1h-1zM11 54h1v1h-1zM14 54h2v1h-2zM20 54h1v1h-1zM26 54h4v1h-4zM37 54h7v1h-7zM51 54h1v1h-1zM3 55h1v1h-1zM11 55h5v1h-5zM19 55h2v1h-2zM23 55h4v1h-4zM29 55h1v1h-1zM40 55h2v1h-2zM47 55h5v1h-5zM4 56h1v1h-1zM11 56h3v1h-3zM16 56h4v1h-4zM23 56h5v1h-5zM48 56h4v1h-4zM4 57h1v1h-1zM12 57h1v1h-1zM23 57h6v1h-6zM33 57h2v1h-2zM42 57h4v1h-4zM49 57h3v1h-3zM3 58h2v1h-2zM23 58h4v1h-4zM29 58h1v1h-1zM42 58h4v1h-4zM47 58h1v1h-1zM2 59h2v1h-2zM22 59h1v1h-1zM46 59h1v1h-1zM48 59h1v1h-1zM8 60h2v1h-2zM22 60h2v1h-2zM45 60h1v1h-1zM8 61h1v1h-1zM14 61h1v1h-1zM23 61h1v1h-1zM25 61h2v1h-2zM48 61h2v1h-2zM8 62h1v1h-1zM11 62h1v1h-1zM23 62h1v1h-1zM30 62h3v1h-3zM46 62h4v1h-4zM8 63h1v1h-1zM11 63h2v1h-2zM18 63h2v1h-2zM28 63h6v1h-6zM46 63h3v1h-3zM10 64h3v1h-3zM16 64h7v1h-7zM10 65h4v1h-4zM16 65h5v1h-5zM22 65h2v1h-2zM25 65h2v1h-2zM34 65h2v1h-2zM48 65h3v1h-3zM3 66h1v1h-1zM10 66h4v1h-4zM19 66h1v1h-1zM22 66h2v1h-2zM25 66h1v1h-1zM28 66h1v1h-1zM34 66h2v1h-2zM41 66h1v1h-1zM46 66h4v1h-4zM2 67h3v1h-3zM8 67h1v1h-1zM11 67h3v1h-3zM22 67h1v1h-1zM41 67h2v1h-2zM46 67h5v1h-5zM2 68h2v1h-2zM6 68h1v1h-1zM10 68h1v1h-1zM21 68h1v1h-1zM25 68h2v1h-2zM28 68h1v1h-1zM37 68h3v1h-3zM41 68h4v1h-4zM46 68h3v1h-3zM50 68h1v1h-1zM15 69h1v1h-1zM37 69h9v1h-9zM47 69h2v1h-2zM2 70h4v1h-4zM25 70h1v1h-1zM43 70h1v1h-1zM47 70h3v1h-3zM2 71h5v1h-5zM8 71h1v1h-1zM11 71h1v1h-1zM43 71h7v1h-7zM3 72h2v1h-2zM8 72h5v1h-5zM40 72h2v1h-2zM45 72h3v1h-3zM49 72h1v1h-1zM8 73h5v1h-5zM36 73h1v1h-1zM40 73h2v1h-2zM45 73h3v1h-3zM8 74h5v1h-5zM20 74h1v1h-1zM28 74h2v1h-2zM33 74h2v1h-2zM36 74h3v1h-3zM44 74h3v1h-3zM7 75h6v1h-6zM15 75h1v1h-1zM18 75h7v1h-7zM32 75h7v1h-7zM44 75h3v1h-3zM6 76h2v1h-2zM10 76h3v1h-3zM15 76h5v1h-5zM30 76h7v1h-7zM45 76h3v1h-3zM6 77h2v1h-2zM14 77h6v1h-6zM25 77h2v1h-2zM30 77h1v1h-1zM32 77h2v1h-2zM35 77h3v1h-3zM39 77h3v1h-3zM6 78h4v1h-4zM12 78h1v1h-1zM14 78h3v1h-3zM29 78h1v1h-1zM32 78h2v1h-2zM35 78h2v1h-2zM40 78h3v1h-3zM8 79h2v1h-2zM27 79h1v1h-1zM33 79h4v1h-4zM41 79h1v1h-1zM44 79h2v1h-2zM17 80h1v1h-1zM21 80h2v1h-2zM26 80h2v1h-2zM32 80h2v1h-2zM35 80h3v1h-3zM39 80h1v1h-1zM44 80h1v1h-1zM10 81h1v1h-1zM17 81h1v1h-1zM19 81h4v1h-4zM25 81h4v1h-4zM30 81h4v1h-4zM37 81h4v1h-4zM42 81h2v1h-2zM16 82h4v1h-4zM27 82h3v1h-3zM31 82h5v1h-5zM39 82h1v1h-1zM12 83h3v1h-3zM17 83h4v1h-4zM27 83h8v1h-8zM37 83h1v1h-1zM17 84h3v1h-3zM21 84h1v1h-1zM26 84h3v1h-3zM31 84h1v1h-1zM34 84h1v1h-1zM37 84h3v1h-3zM16 85h4v1h-4zM21 85h1v1h-1zM25 85h3v1h-3zM34 85h1v1h-1zM37 85h2v1h-2zM16 86h3v1h-3zM20 86h1v1h-1zM22 86h5v1h-5zM30 86h1v1h-1zM17 87h2v1h-2zM26 87h1v1h-1zM31 87h4v1h-4zM32 88h1v1h-1zM16 89h3v1h-3z"/>
<path fill="#4e00f4" d="M23 0h2v1h-2zM29 0h3v1h-3zM23 1h2v1h-2zM26 1h4v1h-4zM36 1h2v1h-2zM27 2h1v1h-1zM36 2h4v1h-4zM22 3h1v1h-1zM32 3h1v1h-1zM39 3h1v1h-1zM19 4h1v1h-1zM22 4h1v1h-1zM27 4h1v1h-1zM38 5h1v1h-1zM34 6h1v1h-1zM38 6h1v1h-1zM40 6h1v1h-1zM26 7h2v1h-2zM29 7h2v1h-2zM34 7h5v1h-5zM43 7h1v1h-1zM20 8h2v1h-2zM27 8h2v1h-2zM33 8h5v1h-5zM42 8h2v1h-2zM20 9h1v1h-1zM27 9h2v1h-2zM34 9h2v1h-2zM37 9h1v1h-1zM40 9h4v1h-4zM17 10h2v1h-2zM20 10h1v1h-1zM26 10h1v1h-1zM34 10h1v1h-1zM37 10h1v1h-1zM40 10h2v1h-2zM44 10h1v1h-1zM17 11h2v1h-2zM25 11h2v1h-2zM36 11h1v1h-1zM41 11h1v1h-1zM43 11h2v1h-2zM15 12h1v1h-1zM27 12h3v1h-3zM44 12h1v1h-1zM15 13h1v1h-1zM21 13h1v1h-1zM11 14h1v1h-1zM38 14h3v1h-3zM18 15h3v1h-3zM37 15h4v1h-4zM45 15h2v1h-2zM18 16h4v1h-4zM27 16h2v1h-2zM32 16h1v1h-1zM37 16h3v1h-3zM45 16h2v1h-2zM12 17h1v1h-1zM14 17h1v1h-1zM18 17h3v1h-3zM27 17h2v1h-2zM32 17h1v1h-1zM36 17h1v1h-1zM45 17h3v1h-3zM11 18h1v1h-1zM15 18h1v1h-1zM18 18h3v1h-3zM29 18h2v1h-2zM36 18h1v1h-1zM45 18h3v1h-3zM9 19h1v1h-1zM20 19h1v1h-1zM38 19h1v1h-1zM14 20h1v1h-1zM21 20h1v1h-1zM44 20h2v1h-2zM14 21h2v1h-2zM20 21h2v1h-2zM41 21h1v1h-1zM43 21h1v1h-1zM9 22h4v1h-4zM16 22h1v1h-1zM18 22h2v1h-2zM23 22h2v1h-2zM28 22h1v1h-1zM43 22h1v1h-1zM48 22h1v1h-1zM11 23h1v1h-1zM17 23h3v1h-3zM33 23h1v1h-1zM38 23h2v1h-2zM46 23h3v1h-3zM38 24h2v1h-2zM44 24h5v1h-5zM44 25h5v1h-5zM11 26h1v1h-1zM14 26h4v1h-4zM30 26h2v1h-2zM43 26h3v1h-3zM48 26h1v1h-1zM11 27h2v1h-2zM14 27h4v1h-4zM21 27h3v1h-3zM5 28h5v1h-5zM11 28h2v1h-2zM14 28h4v1h-4zM21 28h2v1h-2zM34 28h3v1h-3zM5 29h3v1h-3zM10 29h2v1h-2zM14 29h3v1h-3zM18 29h4v1h-4zM42 29h1v1h-1zM15 30h2v1h-2zM18 30h2v1h-2zM42 30h1v1h-1zM18 31h1v1h-1zM29 31h2v1h-2zM10 32h1v1h-1zM27 32h5v1h-5zM6 33h1v1h-1zM10 33h2v1h-2zM27 33h2v1h-2zM40 33h1v1h-1zM6 34h1v1h-1zM10 34h2v1h-2zM24 34h1v1h-1zM26 34h1v1h-1zM39 34h2v1h-2zM45 34h1v1h-1zM48 34h2v1h-2zM10 35h3v1h-3zM21 35h3v1h-3zM26 35h1v1h-1zM48 35h3v1h-3zM8 36h1v1h-1zM11 36h2v1h-2zM21 36h2v1h-2zM29 36h1v1h-1zM43 36h2v1h-2zM50 36h1v1h-1zM9 37h3v1h-3zM25 37h1v1h-1zM42 37h4v1h-4zM50 37h1v1h-1zM10 38h1v1h-1zM23 38h5v1h-5zM49 38h1v1h-1zM5 39h1v1h-1zM23 39h1v1h-1zM26 39h1v1h-1zM32 39h1v1h-1zM38 39h1v1h-1zM4 40h6v1h-6zM15 40h1v1h-1zM38 40h2v1h-2zM3 41h2v1h-2zM8 41h1v1h-1zM14 41h2v1h-2zM21 41h1v1h-1zM26 41h1v1h-1zM38 41h2v1h-2zM14 42h2v1h-2zM26 42h1v1h-1zM33 42h1v1h-1zM7 43h4v1h-4zM13 43h2v1h-2zM19 43h3v1h-3zM28 43h6v1h-6zM36 43h2v1h-2zM9 44h3v1h-3zM18 44h1v1h-1zM20 44h2v1h-2zM29 44h12v1h-12zM42 44h2v1h-2zM49 44h2v1h-2zM19 45h1v1h-1zM34 45h4v1h-4zM2 46h1v1h-1zM19 46h3v1h-3zM34 46h1v1h-1zM36 46h2v1h-2zM7 47h1v1h-1zM11 47h1v1h-1zM15 47h1v1h-1zM18 47h4v1h-4zM33 47h1v1h-1zM36 47h2v1h-2zM41 47h1v1h-1zM7 48h1v1h-1zM14 48h2v1h-2zM18 48h4v1h-4zM26 48h2v1h-2zM32 48h2v1h-2zM36 48h1v1h-1zM40 48h2v1h-2zM47 48h2v1h-2zM51 48h1v1h-1zM1 49h1v1h-1zM3 49h2v1h-2zM6 49h1v1h-1zM14 49h2v1h-2zM19 49h1v1h-1zM21 49h1v1h-1zM26 49h4v1h-4zM37 49h1v1h-1zM40 49h2v1h-2zM46 49h2v1h-2zM51 49h1v1h-1zM14 50h1v1h-1zM28 50h3v1h-3zM39 50h1v1h-1zM45 50h6v1h-6zM14 51h2v1h-2zM28 51h2v1h-2zM32 51h1v1h-1zM38 51h3v1h-3zM47 51h3v1h-3zM6 52h2v1h-2zM14 52h4v1h-4zM39 52h2v1h-2zM7 53h1v1h-1zM15 53h3v1h-3zM21 53h2v1h-2zM30 53h1v1h-1zM2 54h1v1h-1zM16 54h1v1h-1zM2 55h1v1h-1zM35 55h2v1h-2zM1 56h3v1h-3zM35 56h2v1h-2zM1 57h3v1h-3zM13 57h1v1h-1zM20 57h2v1h-2zM1 58h2v1h-2zM12 58h1v1h-1zM20 58h2v1h-2zM40 58h1v1h-1zM50 58h2v1h-2zM6 59h1v1h-1zM19 59h2v1h-2zM30 59h1v1h-1zM50 59h2v1h-2zM5 60h1v1h-1zM19 60h1v1h-1zM30 60h3v1h-3zM38 60h1v1h-1zM49 60h3v1h-3zM19 61h4v1h-4zM30 61h4v1h-4zM35 61h9v1h-9zM50 61h2v1h-2zM2 62h2v1h-2zM21 62h2v1h-2zM26 62h1v1h-1zM33 62h1v1h-1zM37 62h7v1h-7zM1 63h7v1h-7zM22 63h1v1h-1zM25 63h2v1h-2zM36 63h6v1h-6zM50 63h1v1h-1zM1 64h8v1h-8zM25 64h2v1h-2zM32 64h1v1h-1zM35 64h7v1h-7zM50 64h1v1h-1zM3 65h6v1h-6zM36 65h6v1h-6zM46 65h2v1h-2zM4 66h4v1h-4zM36 66h5v1h-5zM6 67h1v1h-1zM20 67h1v1h-1zM39 67h2v1h-2zM45 67h1v1h-1zM12 68h1v1h-1zM20 68h1v1h-1zM24 68h1v1h-1zM29 68h1v1h-1zM45 68h1v1h-1zM19 69h2v1h-2zM28 69h2v1h-2zM46 69h1v1h-1zM14 70h1v1h-1zM28 70h3v1h-3zM33 70h2v1h-2zM37 70h3v1h-3zM45 70h2v1h-2zM7 71h1v1h-1zM12 71h3v1h-3zM17 71h1v1h-1zM27 71h2v1h-2zM33 71h6v1h-6zM42 71h1v1h-1zM7 72h1v1h-1zM27 72h1v1h-1zM31 72h8v1h-8zM42 72h1v1h-1zM7 73h1v1h-1zM13 73h2v1h-2zM26 73h1v1h-1zM31 73h5v1h-5zM37 73h2v1h-2zM42 73h1v1h-1zM6 74h2v1h-2zM13 74h3v1h-3zM25 74h3v1h-3zM35 74h1v1h-1zM40 74h1v1h-1zM5 75h2v1h-2zM13 75h2v1h-2zM25 75h2v1h-2zM29 75h2v1h-2zM39 75h2v1h-2zM13 76h2v1h-2zM20 76h1v1h-1zM28 76h2v1h-2zM39 76h2v1h-2zM5 77h1v1h-1zM12 77h2v1h-2zM23 77h2v1h-2zM27 77h3v1h-3zM38 77h1v1h-1zM45 77h2v1h-2zM13 78h1v1h-1zM22 78h3v1h-3zM27 78h2v1h-2zM45 78h1v1h-1zM6 79h2v1h-2zM22 79h4v1h-4zM42 79h1v1h-1zM7 80h3v1h-3zM23 80h3v1h-3zM40 80h3v1h-3zM8 81h2v1h-2zM24 81h1v1h-1zM35 81h2v1h-2zM41 81h1v1h-1zM9 82h3v1h-3zM13 82h3v1h-3zM36 82h3v1h-3zM40 82h3v1h-3zM11 83h1v1h-1zM15 83h2v1h-2zM38 83h4v1h-4zM11 84h2v1h-2zM15 84h2v1h-2zM30 84h1v1h-1zM32 84h2v1h-2zM12 85h2v1h-2zM30 85h2v1h-2zM33 85h1v1h-1zM21 86h1v1h-1zM27 86h1v1h-1zM31 86h1v1h-1zM20 87h3v1h-3zM27 87h1v1h-1zM17 88h1v1h-1zM21 88h2v1h-2zM26 88h2v1h-2zM19 89h1v1h-1zM27 89h2v1h-2z"/>
<path fill="#c530f2" d="M25 0h2v1h-2zM32 0h2v1h-2zM25 1h1v1h-1zM32 1h2v1h-2zM25 2h1v1h-1zM31 2h2v1h-2zM31 3h1v1h-1zM36 3h2v1h-2zM36 4h1v1h-1zM27 5h1v1h-1zM35 5h3v1h-3zM18 6h2v1h-2zM24 6h1v1h-1zM35 6h2v1h-2zM19 7h1v1h-1zM23 7h3v1h-3zM31 7h1v1h-1zM19 8h1v1h-1zM24 8h2v1h-2zM31 8h1v1h-1zM38 8h2v1h-2zM18 9h2v1h-2zM31 9h3v1h-3zM44 9h1v1h-1zM15 10h2v1h-2zM33 10h1v1h-1zM15 11h2v1h-2zM37 11h1v1h-1zM24 12h3v1h-3zM19 13h1v1h-1zM24 13h2v1h-2zM36 13h1v1h-1zM18 14h2v1h-2zM37 14h1v1h-1zM11 15h2v1h-2zM15 15h1v1h-1zM42 15h3v1h-3zM10 16h8v1h-8zM29 16h3v1h-3zM33 16h2v1h-2zM41 16h4v1h-4zM10 17h2v1h-2zM13 17h1v1h-1zM15 17h3v1h-3zM29 17h2v1h-2zM33 17h2v1h-2zM37 17h2v1h-2zM41 17h4v1h-4zM9 18h1v1h-1zM16 18h1v1h-1zM28 18h1v1h-1zM37 18h6v1h-6zM16 19h1v1h-1zM24 19h5v1h-5zM36 19h2v1h-2zM40 19h3v1h-3zM45 19h2v1h-2zM8 20h2v1h-2zM19 20h2v1h-2zM25 20h4v1h-4zM34 20h2v1h-2zM40 20h2v1h-2zM9 21h2v1h-2zM18 21h2v1h-2zM34 21h2v1h-2zM8 22h1v1h-1zM14 22h2v1h-2zM34 22h2v1h-2zM42 22h1v1h-1zM7 23h3v1h-3zM14 23h1v1h-1zM28 23h2v1h-2zM34 23h2v1h-2zM7 24h3v1h-3zM13 24h1v1h-1zM29 24h1v1h-1zM36 24h1v1h-1zM6 25h1v1h-1zM9 25h1v1h-1zM12 25h1v1h-1zM19 25h1v1h-1zM43 25h1v1h-1zM19 26h1v1h-1zM34 26h2v1h-2zM40 26h2v1h-2zM28 27h1v1h-1zM27 28h2v1h-2zM17 29h1v1h-1zM26 29h5v1h-5zM43 29h2v1h-2zM5 30h3v1h-3zM14 30h1v1h-1zM26 30h2v1h-2zM40 30h2v1h-2zM43 30h1v1h-1zM5 31h3v1h-3zM13 31h2v1h-2zM24 31h1v1h-1zM40 31h2v1h-2zM4 32h1v1h-1zM13 32h3v1h-3zM23 32h1v1h-1zM48 32h2v1h-2zM14 33h6v1h-6zM4 34h1v1h-1zM15 34h5v1h-5zM17 35h2v1h-2zM30 35h1v1h-1zM35 35h1v1h-1zM44 35h2v1h-2zM4 36h1v1h-1zM9 36h2v1h-2zM13 36h1v1h-1zM17 36h2v1h-2zM24 36h3v1h-3zM30 36h1v1h-1zM34 36h4v1h-4zM45 36h2v1h-2zM49 36h1v1h-1zM3 37h2v1h-2zM12 37h2v1h-2zM16 37h3v1h-3zM24 37h1v1h-1zM46 37h1v1h-1zM3 38h3v1h-3zM11 38h3v1h-3zM16 38h2v1h-2zM28 38h3v1h-3zM3 39h2v1h-2zM10 39h3v1h-3zM16 39h2v1h-2zM28 39h4v1h-4zM33 39h2v1h-2zM47 39h4v1h-4zM10 40h3v1h-3zM16 40h5v1h-5zM26 40h1v1h-1zM29 40h2v1h-2zM32 40h2v1h-2zM45 40h6v1h-6zM10 41h4v1h-4zM16 41h5v1h-5zM33 41h1v1h-1zM49 41h1v1h-1zM11 42h3v1h-3zM16 42h6v1h-6zM37 42h7v1h-7zM6 43h1v1h-1zM15 43h4v1h-4zM38 43h10v1h-10zM3 44h1v1h-1zM5 44h2v1h-2zM13 44h5v1h-5zM19 44h1v1h-1zM41 44h1v1h-1zM44 44h4v1h-4zM3 45h2v1h-2zM13 45h3v1h-3zM26 45h3v1h-3zM30 45h4v1h-4zM41 45h10v1h-10zM5 46h1v1h-1zM11 46h4v1h-4zM26 46h2v1h-2zM31 46h3v1h-3zM43 46h4v1h-4zM49 46h2v1h-2zM4 47h2v1h-2zM8 47h2v1h-2zM13 47h2v1h-2zM26 47h2v1h-2zM32 47h1v1h-1zM45 47h1v1h-1zM49 47h3v1h-3zM2 48h2v1h-2zM13 48h1v1h-1zM24 48h2v1h-2zM44 48h3v1h-3zM50 48h1v1h-1zM2 49h1v1h-1zM13 49h1v1h-1zM24 49h2v1h-2zM31 49h1v1h-1zM34 49h2v1h-2zM44 49h2v1h-2zM2 50h1v1h-1zM13 50h1v1h-1zM18 50h2v1h-2zM34 50h2v1h-2zM37 50h2v1h-2zM2 51h1v1h-1zM13 51h1v1h-1zM18 51h2v1h-2zM26 51h1v1h-1zM30 51h2v1h-2zM35 51h1v1h-1zM41 51h1v1h-1zM43 51h2v1h-2zM18 52h2v1h-2zM25 52h2v1h-2zM29 52h3v1h-3zM34 52h1v1h-1zM41 52h4v1h-4zM47 52h2v1h-2zM6 53h1v1h-1zM18 53h2v1h-2zM36 53h1v1h-1zM42 53h3v1h-3zM47 53h2v1h-2zM1 54h1v1h-1zM5 54h2v1h-2zM17 54h1v1h-1zM25 54h1v1h-1zM35 54h2v1h-2zM44 54h6v1h-6zM1 55h1v1h-1zM4 55h4v1h-4zM16 55h1v1h-1zM21 55h2v1h-2zM27 55h2v1h-2zM44 55h3v1h-3zM5 56h2v1h-2zM14 56h2v1h-2zM20 56h3v1h-3zM28 56h1v1h-1zM34 56h1v1h-1zM45 56h1v1h-1zM14 57h6v1h-6zM32 57h1v1h-1zM35 57h2v1h-2zM8 58h3v1h-3zM13 58h7v1h-7zM27 58h2v1h-2zM30 58h1v1h-1zM35 58h1v1h-1zM46 58h1v1h-1zM8 59h2v1h-2zM11 59h1v1h-1zM14 59h2v1h-2zM23 59h7v1h-7zM31 59h1v1h-1zM47 59h1v1h-1zM3 60h1v1h-1zM24 60h6v1h-6zM46 60h3v1h-3zM3 61h1v1h-1zM12 61h1v1h-1zM24 61h1v1h-1zM27 61h3v1h-3zM46 61h2v1h-2zM7 62h1v1h-1zM12 62h1v1h-1zM15 62h2v1h-2zM24 62h2v1h-2zM29 62h1v1h-1zM34 62h3v1h-3zM24 63h1v1h-1zM27 63h1v1h-1zM34 63h2v1h-2zM14 64h2v1h-2zM27 64h2v1h-2zM30 64h2v1h-2zM34 64h1v1h-1zM46 64h4v1h-4zM1 65h2v1h-2zM14 65h2v1h-2zM27 65h2v1h-2zM1 66h2v1h-2zM9 66h1v1h-1zM14 66h4v1h-4zM26 66h2v1h-2zM5 67h1v1h-1zM7 67h1v1h-1zM9 67h2v1h-2zM15 67h3v1h-3zM23 67h6v1h-6zM36 67h1v1h-1zM4 68h2v1h-2zM15 68h2v1h-2zM22 68h2v1h-2zM30 68h1v1h-1zM34 68h3v1h-3zM5 69h2v1h-2zM16 69h1v1h-1zM30 69h1v1h-1zM6 70h2v1h-2zM11 70h1v1h-1zM16 70h3v1h-3zM22 70h1v1h-1zM26 70h2v1h-2zM31 70h2v1h-2zM42 70h1v1h-1zM21 71h2v1h-2zM29 71h4v1h-4zM41 71h1v1h-1zM5 72h2v1h-2zM13 72h2v1h-2zM16 72h2v1h-2zM19 72h4v1h-4zM43 72h2v1h-2zM48 72h1v1h-1zM4 73h3v1h-3zM15 73h2v1h-2zM20 73h1v1h-1zM27 73h4v1h-4zM43 73h2v1h-2zM48 73h1v1h-1zM4 74h2v1h-2zM16 74h1v1h-1zM30 74h1v1h-1zM41 74h3v1h-3zM47 74h2v1h-2zM4 75h1v1h-1zM16 75h1v1h-1zM41 75h3v1h-3zM47 75h1v1h-1zM5 76h1v1h-1zM21 76h5v1h-5zM37 76h2v1h-2zM41 76h4v1h-4zM10 77h2v1h-2zM20 77h3v1h-3zM42 77h3v1h-3zM10 78h2v1h-2zM19 78h3v1h-3zM25 78h2v1h-2zM39 78h1v1h-1zM43 78h1v1h-1zM11 79h3v1h-3zM21 79h1v1h-1zM26 79h1v1h-1zM37 79h4v1h-4zM43 79h1v1h-1zM10 80h6v1h-6zM34 80h1v1h-1zM43 80h1v1h-1zM11 81h2v1h-2zM14 81h2v1h-2zM18 81h1v1h-1zM29 81h1v1h-1zM34 81h1v1h-1zM24 82h1v1h-1zM30 82h1v1h-1zM23 83h3v1h-3zM13 84h2v1h-2zM29 84h1v1h-1zM35 84h1v1h-1zM14 85h1v1h-1zM28 85h2v1h-2zM35 85h1v1h-1zM13 86h1v1h-1zM19 86h1v1h-1zM28 86h2v1h-2zM35 86h2v1h-2zM19 87h1v1h-1zM23 87h3v1h-3zM28 87h3v1h-3zM16 88h1v1h-1zM23 88h3v1h-3zM28 88h2v1h-2zM23 89h4v1h-4z"/>
<path fill="#f0668c" d="M24 4h1v1h-1zM18 5h1v1h-1zM24 5h2v1h-2zM25 6h1v1h-1zM33 6h1v1h-1zM16 7h1v1h-1zM20 7h1v1h-1zM32 7h2v1h-2zM41 7h2v1h-2zM22 8h2v1h-2zM26 8h1v1h-1zM29 8h2v1h-2zM32 8h1v1h-1zM41 8h1v1h-1zM21 9h6v1h-6zM29 9h2v1h-2zM14 10h1v1h-1zM19 10h1v1h-1zM21 10h5v1h-5zM29 10h2v1h-2zM45 10h1v1h-1zM13 11h2v1h-2zM19 11h6v1h-6zM30 11h2v1h-2zM13 12h2v1h-2zM17 12h1v1h-1zM21 12h3v1h-3zM30 12h1v1h-1zM41 12h1v1h-1zM12 13h3v1h-3zM16 13h2v1h-2zM22 13h2v1h-2zM26 13h5v1h-5zM41 13h1v1h-1zM17 14h1v1h-1zM23 14h8v1h-8zM13 15h1v1h-1zM16 15h2v1h-2zM23 15h2v1h-2zM28 15h4v1h-4zM21 17h1v1h-1zM35 17h1v1h-1zM40 17h1v1h-1zM12 18h2v1h-2zM21 18h2v1h-2zM26 18h2v1h-2zM35 18h1v1h-1zM10 19h4v1h-4zM17 19h1v1h-1zM35 19h1v1h-1zM10 20h4v1h-4zM15 20h3v1h-3zM46 20h1v1h-1zM11 21h3v1h-3zM16 21h2v1h-2zM13 22h1v1h-1zM22 22h1v1h-1zM24 23h4v1h-4zM30 23h3v1h-3zM19 24h2v1h-2zM25 24h3v1h-3zM30 24h3v1h-3zM35 24h1v1h-1zM37 24h1v1h-1zM13 25h2v1h-2zM20 25h3v1h-3zM25 25h3v1h-3zM30 25h3v1h-3zM35 25h1v1h-1zM12 26h2v1h-2zM27 26h1v1h-1zM13 27h1v1h-1zM34 27h1v1h-1zM33 28h1v1h-1zM34 29h3v1h-3zM24 30h1v1h-1zM35 30h2v1h-2zM19 31h3v1h-3zM27 31h1v1h-1zM44 31h2v1h-2zM11 32h2v1h-2zM19 32h1v1h-1zM24 32h2v1h-2zM41 32h1v1h-1zM43 32h3v1h-3zM7 33h1v1h-1zM23 33h3v1h-3zM42 33h3v1h-3zM5 34h1v1h-1zM22 34h2v1h-2zM28 34h1v1h-1zM31 34h1v1h-1zM16 35h1v1h-1zM20 35h1v1h-1zM31 35h1v1h-1zM47 35h1v1h-1zM7 36h1v1h-1zM15 36h2v1h-2zM23 36h1v1h-1zM31 36h2v1h-2zM7 37h2v1h-2zM23 37h1v1h-1zM31 37h2v1h-2zM35 37h2v1h-2zM6 38h2v1h-2zM15 38h1v1h-1zM31 38h1v1h-1zM34 38h3v1h-3zM39 38h3v1h-3zM6 39h2v1h-2zM14 39h2v1h-2zM19 39h1v1h-1zM24 39h2v1h-2zM39 39h3v1h-3zM24 40h2v1h-2zM34 40h1v1h-1zM22 41h1v1h-1zM24 41h2v1h-2zM44 41h3v1h-3zM27 42h1v1h-1zM44 42h3v1h-3zM26 43h2v1h-2zM51 44h1v1h-1zM10 45h3v1h-3zM20 45h1v1h-1zM39 45h1v1h-1zM10 46h1v1h-1zM10 47h1v1h-1zM17 48h1v1h-1zM18 49h1v1h-1zM32 49h2v1h-2zM32 50h2v1h-2zM36 50h1v1h-1zM40 50h2v1h-2zM33 51h1v1h-1zM36 51h2v1h-2zM3 52h2v1h-2zM3 53h2v1h-2zM11 53h3v1h-3zM23 53h3v1h-3zM31 53h2v1h-2zM40 53h2v1h-2zM7 54h2v1h-2zM12 54h2v1h-2zM18 54h2v1h-2zM21 54h4v1h-4zM30 54h5v1h-5zM8 55h1v1h-1zM18 55h1v1h-1zM30 55h5v1h-5zM37 55h1v1h-1zM39 55h1v1h-1zM42 55h2v1h-2zM29 56h5v1h-5zM37 56h1v1h-1zM39 56h6v1h-6zM11 57h1v1h-1zM22 57h1v1h-1zM29 57h3v1h-3zM39 57h3v1h-3zM48 57h1v1h-1zM11 58h1v1h-1zM22 58h1v1h-1zM38 58h2v1h-2zM41 58h1v1h-1zM48 58h1v1h-1zM10 59h1v1h-1zM43 59h2v1h-2zM6 60h1v1h-1zM39 60h2v1h-2zM43 60h2v1h-2zM4 61h4v1h-4zM9 61h3v1h-3zM34 61h1v1h-1zM44 61h2v1h-2zM4 62h2v1h-2zM20 62h1v1h-1zM27 62h2v1h-2zM44 62h2v1h-2zM50 62h1v1h-1zM20 63h2v1h-2zM23 63h1v1h-1zM43 63h3v1h-3zM23 64h2v1h-2zM43 64h3v1h-3zM24 65h1v1h-1zM8 66h1v1h-1zM18 66h1v1h-1zM24 66h1v1h-1zM50 66h1v1h-1zM18 67h1v1h-1zM34 67h2v1h-2zM43 67h2v1h-2zM7 68h1v1h-1zM11 68h1v1h-1zM27 68h1v1h-1zM40 68h1v1h-1zM49 68h1v1h-1zM7 69h1v1h-1zM11 69h2v1h-2zM21 69h1v1h-1zM23 69h1v1h-1zM35 69h2v1h-2zM49 69h1v1h-1zM19 70h2v1h-2zM23 70h2v1h-2zM35 70h2v1h-2zM40 70h2v1h-2zM44 70h1v1h-1zM18 71h2v1h-2zM23 71h4v1h-4zM18 72h1v1h-1zM23 72h4v1h-4zM29 72h2v1h-2zM3 73h1v1h-1zM21 73h5v1h-5zM39 73h1v1h-1zM21 74h4v1h-4zM8 76h2v1h-2zM8 77h2v1h-2zM34 77h1v1h-1zM30 78h1v1h-1zM34 78h1v1h-1zM37 78h2v1h-2zM44 78h1v1h-1zM15 79h2v1h-2zM30 79h3v1h-3zM30 80h2v1h-2zM13 81h1v1h-1zM23 81h1v1h-1zM12 82h1v1h-1zM22 82h2v1h-2zM25 82h2v1h-2zM21 83h2v1h-2zM26 83h1v1h-1zM35 83h2v1h-2zM20 84h1v1h-1zM15 85h1v1h-1zM20 85h1v1h-1zM32 85h1v1h-1zM14 86h1v1h-1zM32 86h3v1h-3zM14 87h3v1h-3zM15 88h1v1h-1zM20 88h1v1h-1z"/>
<path fill="#eebb44" d="M27 0h2v1h-2zM26 2h1v1h-1zM28 2h1v1h-1zM33 2h1v1h-1zM23 3h1v1h-1zM27 3h3v1h-3zM33 3h2v1h-2zM38 3h1v1h-1zM23 4h1v1h-1zM28 4h4v1h-4zM37 4h1v1h-1zM22 5h2v1h-2zM28 5h2v1h-2zM41 5h2v1h-2zM17 6h1v1h-1zM21 6h3v1h-3zM17 7h2v1h-2zM21 7h2v1h-2zM18 8h1v1h-1zM17 9h1v1h-1zM45 11h1v1h-1zM18 12h3v1h-3zM45 12h1v1h-1zM20 13h1v1h-1zM40 13h1v1h-1zM46 13h1v1h-1zM12 14h4v1h-4zM20 14h3v1h-3zM14 15h1v1h-1zM21 15h2v1h-2zM25 15h3v1h-3zM22 16h5v1h-5zM40 16h1v1h-1zM22 17h3v1h-3zM26 17h1v1h-1zM10 18h1v1h-1zM14 18h1v1h-1zM17 18h1v1h-1zM23 18h1v1h-1zM32 18h2v1h-2zM14 19h2v1h-2zM29 19h1v1h-1zM32 19h3v1h-3zM47 19h1v1h-1zM36 20h1v1h-1zM8 21h1v1h-1zM17 22h1v1h-1zM27 22h1v1h-1zM10 23h1v1h-1zM15 23h2v1h-2zM43 23h1v1h-1zM10 24h1v1h-1zM14 24h4v1h-4zM43 24h1v1h-1zM10 25h1v1h-1zM15 25h3v1h-3zM23 25h2v1h-2zM33 25h2v1h-2zM36 25h1v1h-1zM10 26h1v1h-1zM20 26h7v1h-7zM33 26h1v1h-1zM36 26h2v1h-2zM20 27h1v1h-1zM24 27h4v1h-4zM36 27h3v1h-3zM40 27h1v1h-1zM49 27h1v1h-1zM13 28h1v1h-1zM20 28h1v1h-1zM25 28h1v1h-1zM37 28h1v1h-1zM49 28h1v1h-1zM8 29h2v1h-2zM13 29h1v1h-1zM25 29h1v1h-1zM8 30h4v1h-4zM25 30h1v1h-1zM28 30h4v1h-4zM9 31h2v1h-2zM25 31h2v1h-2zM31 31h1v1h-1zM32 32h1v1h-1zM26 33h1v1h-1zM29 33h4v1h-4zM25 34h1v1h-1zM27 34h1v1h-1zM29 34h2v1h-2zM32 34h1v1h-1zM41 34h3v1h-3zM4 35h3v1h-3zM13 35h1v1h-1zM19 35h1v1h-1zM24 35h2v1h-2zM27 35h3v1h-3zM5 36h2v1h-2zM27 36h2v1h-2zM5 37h2v1h-2zM21 37h2v1h-2zM28 37h1v1h-1zM33 37h2v1h-2zM37 37h2v1h-2zM20 38h3v1h-3zM33 38h1v1h-1zM38 38h1v1h-1zM42 38h5v1h-5zM20 39h3v1h-3zM27 39h1v1h-1zM42 39h5v1h-5zM3 40h1v1h-1zM27 40h1v1h-1zM5 41h3v1h-3zM50 41h1v1h-1zM3 42h3v1h-3zM3 43h2v1h-2zM11 43h2v1h-2zM25 43h1v1h-1zM4 44h1v1h-1zM12 44h1v1h-1zM5 45h1v1h-1zM29 45h1v1h-1zM38 45h1v1h-1zM40 45h1v1h-1zM9 46h1v1h-1zM15 46h1v1h-1zM18 46h1v1h-1zM38 46h3v1h-3zM6 47h1v1h-1zM12 47h1v1h-1zM16 47h2v1h-2zM30 47h1v1h-1zM39 47h2v1h-2zM42 47h1v1h-1zM5 48h2v1h-2zM8 48h5v1h-5zM16 48h1v1h-1zM30 48h2v1h-2zM42 48h1v1h-1zM5 49h1v1h-1zM7 49h1v1h-1zM9 49h4v1h-4zM16 49h2v1h-2zM42 49h2v1h-2zM1 50h1v1h-1zM3 50h3v1h-3zM9 50h4v1h-4zM15 50h3v1h-3zM42 50h3v1h-3zM51 50h1v1h-1zM1 51h1v1h-1zM3 51h9v1h-9zM16 51h2v1h-2zM50 51h2v1h-2zM1 52h2v1h-2zM5 52h1v1h-1zM8 52h3v1h-3zM28 52h1v1h-1zM32 52h1v1h-1zM35 52h4v1h-4zM50 52h2v1h-2zM5 53h1v1h-1zM33 53h3v1h-3zM45 53h1v1h-1zM50 53h2v1h-2zM3 54h2v1h-2zM10 54h1v1h-1zM50 54h1v1h-1zM9 55h2v1h-2zM17 55h1v1h-1zM38 55h1v1h-1zM7 56h4v1h-4zM38 56h1v1h-1zM46 56h2v1h-2zM5 57h6v1h-6zM37 57h2v1h-2zM46 57h2v1h-2zM5 58h3v1h-3zM31 58h4v1h-4zM36 58h2v1h-2zM49 58h1v1h-1zM1 59h1v1h-1zM4 59h2v1h-2zM7 59h1v1h-1zM12 59h2v1h-2zM16 59h3v1h-3zM21 59h1v1h-1zM32 59h11v1h-11zM45 59h1v1h-1zM49 59h1v1h-1zM1 60h2v1h-2zM4 60h1v1h-1zM7 60h1v1h-1zM10 60h9v1h-9zM20 60h2v1h-2zM33 60h5v1h-5zM41 60h2v1h-2zM1 61h2v1h-2zM13 61h1v1h-1zM15 61h4v1h-4zM1 62h1v1h-1zM6 62h1v1h-1zM9 62h2v1h-2zM13 62h2v1h-2zM17 62h3v1h-3zM9 63h2v1h-2zM13 63h5v1h-5zM42 63h1v1h-1zM49 63h1v1h-1zM9 64h1v1h-1zM13 64h1v1h-1zM29 64h1v1h-1zM33 64h1v1h-1zM42 64h1v1h-1zM9 65h1v1h-1zM21 65h1v1h-1zM29 65h5v1h-5zM42 65h4v1h-4zM20 66h2v1h-2zM29 66h5v1h-5zM42 66h4v1h-4zM14 67h1v1h-1zM19 67h1v1h-1zM21 67h1v1h-1zM29 67h5v1h-5zM37 67h2v1h-2zM8 68h2v1h-2zM13 68h2v1h-2zM17 68h3v1h-3zM31 68h3v1h-3zM2 69h3v1h-3zM8 69h3v1h-3zM13 69h2v1h-2zM17 69h2v1h-2zM22 69h1v1h-1zM24 69h4v1h-4zM31 69h4v1h-4zM8 70h3v1h-3zM12 70h2v1h-2zM15 70h1v1h-1zM21 70h1v1h-1zM9 71h2v1h-2zM15 71h2v1h-2zM20 71h1v1h-1zM39 71h2v1h-2zM15 72h1v1h-1zM28 72h1v1h-1zM39 72h1v1h-1zM17 73h3v1h-3zM17 74h3v1h-3zM31 74h2v1h-2zM39 74h1v1h-1zM17 75h1v1h-1zM27 75h2v1h-2zM31 75h1v1h-1zM26 76h2v1h-2zM31 77h1v1h-1zM17 78h2v1h-2zM31 78h1v1h-1zM10 79h1v1h-1zM14 79h1v1h-1zM17 79h4v1h-4zM28 79h2v1h-2zM16 80h1v1h-1zM18 80h3v1h-3zM28 80h2v1h-2zM38 80h1v1h-1zM16 81h1v1h-1zM20 82h2v1h-2zM10 83h1v1h-1zM22 84h4v1h-4zM36 84h1v1h-1zM22 85h3v1h-3zM36 85h1v1h-1zM15 86h1v1h-1zM18 88h2v1h-2zM30 88h2v1h-2zM20 89h3v1h-3zM29 89h2v1h-2z"/>
</g>
<rect x="123.40" y="24.30" width="6.00" height="19.07" fill="#000"/>
<rect x="123.40" y="43.32" width="6.00" height="19.07" fill="#2200c8"/>
<rect x="123.40" y="62.33" width="6.00" height="19.07" fill="#4e00f4"/>
<rect x="123.40" y="81.35" width="6.00" height="19.07" fill="#c530f2"/>
<rect x="123.40" y="100.37" width="6.00" height="19.07" fill="#f0668c"/>
<rect x="123.40" y="119.38" width="6.00" height="19.07" fill="#eebb44"/>
<rect x="123.40" y="24.30" width="6.00" height="114.10" fill="none" stroke="#8a8a8a" stroke-width="0.8"/>
<line x1="129.40" y1="35.10" x2="132.00" y2="35.10" stroke="#262626" stroke-width="0.8" />
<text x="133.60" y="39.15" font-size="11.55" textLength="15.87" lengthAdjust="spacingAndGlyphs">NR</text>
<line x1="129.40" y1="52.10" x2="132.00" y2="52.10" stroke="#262626" stroke-width="0.8" />
<text x="133.80" y="55.85" font-size="10.82" textLength="22.93" lengthAdjust="spacingAndGlyphs">4.53</text>
<line x1="129.40" y1="69.50" x2="132.00" y2="69.50" stroke="#262626" stroke-width="0.8" />
<text x="133.80" y="73.25" font-size="10.82" textLength="22.93" lengthAdjust="spacingAndGlyphs">5.18</text>
<line x1="129.40" y1="89.40" x2="132.00" y2="89.40" stroke="#262626" stroke-width="0.8" />
<text x="133.80" y="93.15" font-size="10.82" textLength="22.93" lengthAdjust="spacingAndGlyphs">6.17</text>
<line x1="129.40" y1="109.20" x2="132.00" y2="109.20" stroke="#262626" stroke-width="0.8" />
<text x="133.80" y="112.95" font-size="10.82" textLength="22.93" lengthAdjust="spacingAndGlyphs">6.47</text>
<line x1="129.40" y1="129.20" x2="132.00" y2="129.20" stroke="#262626" stroke-width="0.8" />
<text x="133.80" y="132.95" font-size="10.82" textLength="22.93" lengthAdjust="spacingAndGlyphs">6.47</text>
<rect x="271.30" y="23.80" width="5.70" height="19.05" fill="#000"/>
<rect x="271.30" y="42.80" width="5.70" height="19.05" fill="#2200c8"/>
<rect x="271.30" y="61.80" width="5.70" height="19.05" fill="#4e00f4"/>
<rect x="271.30" y="80.80" width="5.70" height="19.05" fill="#c530f2"/>
<rect x="271.30" y="99.80" width="5.70" height="19.05" fill="#f0668c"/>
<rect x="271.30" y="118.80" width="5.70" height="19.05" fill="#eebb44"/>
<rect x="271.30" y="23.80" width="5.70" height="114.00" fill="none" stroke="#8a8a8a" stroke-width="0.8"/>
<line x1="277.00" y1="34.50" x2="279.60" y2="34.50" stroke="#262626" stroke-width="0.8" />
<text x="281.20" y="38.55" font-size="11.55" textLength="15.87" lengthAdjust="spacingAndGlyphs">NR</text>
<line x1="277.00" y1="52.30" x2="279.60" y2="52.30" stroke="#262626" stroke-width="0.8" />
<text x="281.40" y="56.05" font-size="10.82" textLength="29.49" lengthAdjust="spacingAndGlyphs">12.56</text>
<line x1="277.00" y1="71.30" x2="279.60" y2="71.30" stroke="#262626" stroke-width="0.8" />
<text x="281.40" y="75.05" font-size="10.82" textLength="29.49" lengthAdjust="spacingAndGlyphs">13.16</text>
<line x1="277.00" y1="90.30" x2="279.60" y2="90.30" stroke="#262626" stroke-width="0.8" />
<text x="281.40" y="94.05" font-size="10.82" textLength="29.49" lengthAdjust="spacingAndGlyphs">13.19</text>
<line x1="277.00" y1="109.30" x2="279.60" y2="109.30" stroke="#262626" stroke-width="0.8" />
<text x="281.40" y="113.05" font-size="10.82" textLength="29.49" lengthAdjust="spacingAndGlyphs">13.22</text>
<line x1="277.00" y1="128.30" x2="279.60" y2="128.30" stroke="#262626" stroke-width="0.8" />
<text x="281.40" y="132.05" font-size="10.82" textLength="29.49" lengthAdjust="spacingAndGlyphs">13.36</text>
<rect x="474.50" y="24.50" width="6.00" height="18.95" fill="#000"/>
<rect x="474.50" y="43.40" width="6.00" height="18.95" fill="#2200c8"/>
<rect x="474.50" y="62.30" width="6.00" height="18.95" fill="#4e00f4"/>
<rect x="474.50" y="81.20" width="6.00" height="18.95" fill="#c530f2"/>
<rect x="474.50" y="100.10" width="6.00" height="18.95" fill="#f0668c"/>
<rect x="474.50" y="119.00" width="6.00" height="18.95" fill="#eebb44"/>
<rect x="474.50" y="24.50" width="6.00" height="113.40" fill="none" stroke="#8a8a8a" stroke-width="0.8"/>
<line x1="480.50" y1="35.15" x2="483.10" y2="35.15" stroke="#262626" stroke-width="0.8" />
<text x="484.70" y="39.20" font-size="11.55" textLength="15.87" lengthAdjust="spacingAndGlyphs">NR</text>
<line x1="480.50" y1="52.85" x2="483.10" y2="52.85" stroke="#262626" stroke-width="0.8" />
<text x="484.90" y="56.60" font-size="10.82" textLength="22.93" lengthAdjust="spacingAndGlyphs">4.43</text>
<line x1="480.50" y1="71.75" x2="483.10" y2="71.75" stroke="#262626" stroke-width="0.8" />
<text x="484.90" y="75.50" font-size="10.82" textLength="22.93" lengthAdjust="spacingAndGlyphs">5.37</text>
<line x1="480.50" y1="90.65" x2="483.10" y2="90.65" stroke="#262626" stroke-width="0.8" />
<text x="484.90" y="94.40" font-size="10.82" textLength="22.93" lengthAdjust="spacingAndGlyphs">6.29</text>
<line x1="480.50" y1="109.55" x2="483.10" y2="109.55" stroke="#262626" stroke-width="0.8" />
<text x="484.90" y="113.30" font-size="10.82" textLength="22.93" lengthAdjust="spacingAndGlyphs">6.36</text>
<line x1="480.50" y1="128.45" x2="483.10" y2="128.45" stroke="#262626" stroke-width="0.8" />
<text x="484.90" y="132.20" font-size="10.82" textLength="22.93" lengthAdjust="spacingAndGlyphs">6.36</text>
<rect x="625.70" y="23.90" width="6.00" height="19.05" fill="#000"/>
<rect x="625.70" y="42.90" width="6.00" height="19.05" fill="#2200c8"/>
<rect x="625.70" y="61.90" width="6.00" height="19.05" fill="#4e00f4"/>
<rect x="625.70" y="80.90" width="6.00" height="19.05" fill="#c530f2"/>
<rect x="625.70" y="99.90" width="6.00" height="19.05" fill="#f0668c"/>
<rect x="625.70" y="118.90" width="6.00" height="19.05" fill="#eebb44"/>
<rect x="625.70" y="23.90" width="6.00" height="114.00" fill="none" stroke="#8a8a8a" stroke-width="0.8"/>
<line x1="631.70" y1="34.60" x2="634.30" y2="34.60" stroke="#262626" stroke-width="0.8" />
<text x="635.90" y="38.65" font-size="11.55" textLength="15.87" lengthAdjust="spacingAndGlyphs">NR</text>
<line x1="631.70" y1="52.40" x2="634.30" y2="52.40" stroke="#262626" stroke-width="0.8" />
<text x="636.10" y="56.15" font-size="10.82" textLength="29.49" lengthAdjust="spacingAndGlyphs">16.03</text>
<line x1="631.70" y1="71.40" x2="634.30" y2="71.40" stroke="#262626" stroke-width="0.8" />
<text x="636.10" y="75.15" font-size="10.82" textLength="29.49" lengthAdjust="spacingAndGlyphs">17.06</text>
<line x1="631.70" y1="90.40" x2="634.30" y2="90.40" stroke="#262626" stroke-width="0.8" />
<text x="636.10" y="94.15" font-size="10.82" textLength="29.49" lengthAdjust="spacingAndGlyphs">17.15</text>
<line x1="631.70" y1="109.40" x2="634.30" y2="109.40" stroke="#262626" stroke-width="0.8" />
<text x="636.10" y="113.15" font-size="10.82" textLength="29.49" lengthAdjust="spacingAndGlyphs">17.18</text>
<line x1="631.70" y1="128.40" x2="634.30" y2="128.40" stroke="#262626" stroke-width="0.8" />
<text x="636.10" y="132.15" font-size="10.82" textLength="29.49" lengthAdjust="spacingAndGlyphs">17.22</text>
<text x="31.90" y="19.00" font-size="12.97" textLength="88.55" lengthAdjust="spacingAndGlyphs">Syn-jRCaMP1a</text>
<text x="179.80" y="19.00" font-size="12.60" textLength="142.83" lengthAdjust="spacingAndGlyphs">GfaABC1D-lck-GCaMP6f</text>
<text x="398.30" y="19.00" font-size="12.97" textLength="88.55" lengthAdjust="spacingAndGlyphs">Syn-jRCaMP1a</text>
<text x="548.90" y="19.00" font-size="12.60" textLength="120.73" lengthAdjust="spacingAndGlyphs">GfaABC1D-iGluSnFR</text>
<text x="66.80" y="35.90" font-size="14.3" font-weight="bold" fill="#fff" stroke="#fff" stroke-width="0.45" textLength="11.4" lengthAdjust="spacingAndGlyphs">D</text>
<text x="100.00" y="87.80" font-size="14.5" font-weight="bold" fill="#fff" stroke="#fff" stroke-width="0.45" textLength="13.2" lengthAdjust="spacingAndGlyphs">M</text>
<text x="213.50" y="35.90" font-size="14.3" font-weight="bold" fill="#fff" stroke="#fff" stroke-width="0.45" textLength="11.4" lengthAdjust="spacingAndGlyphs">D</text>
<text x="247.30" y="87.80" font-size="14.5" font-weight="bold" fill="#fff" stroke="#fff" stroke-width="0.45" textLength="13.2" lengthAdjust="spacingAndGlyphs">M</text>
<text x="433.30" y="35.90" font-size="14.3" font-weight="bold" fill="#fff" stroke="#fff" stroke-width="0.45" textLength="11.4" lengthAdjust="spacingAndGlyphs">D</text>
<text x="452.30" y="87.80" font-size="14.5" font-weight="bold" fill="#fff" stroke="#fff" stroke-width="0.45" textLength="13.2" lengthAdjust="spacingAndGlyphs">M</text>
<text x="584.40" y="35.30" font-size="14.3" font-weight="bold" fill="#fff" stroke="#fff" stroke-width="0.45" textLength="11.4" lengthAdjust="spacingAndGlyphs">D</text>
<text x="604.10" y="86.00" font-size="14.5" font-weight="bold" fill="#fff" stroke="#fff" stroke-width="0.45" textLength="13.2" lengthAdjust="spacingAndGlyphs">M</text>
<line x1="86.90" y1="68.60" x2="60.85" y2="96.78" stroke="#fff" stroke-width="1.8" />
<path d="M56.30 101.70 L58.91 94.31 L63.46 98.52 L56.30 101.70" fill="#fff" stroke="none" stroke-width="1" stroke-linejoin="round" />
<line x1="220.50" y1="84.00" x2="213.54" y2="80.61" stroke="#fff" stroke-width="1.6" />
<path d="M208.60 78.20 L215.31 78.13 L212.68 83.53 L208.60 78.20" fill="#fff" stroke="none" stroke-width="1" stroke-linejoin="round" />
<line x1="453.00" y1="82.60" x2="410.80" y2="83.03" stroke="#fff" stroke-width="1.8" />
<path d="M404.10 83.10 L411.27 79.93 L411.33 86.13 L404.10 83.10" fill="#fff" stroke="none" stroke-width="1" stroke-linejoin="round" />
<line x1="589.00" y1="81.60" x2="581.36" y2="86.73" stroke="#fff" stroke-width="1.6" />
<path d="M576.80 89.80 L580.11 83.96 L583.45 88.94 L576.80 89.80" fill="#fff" stroke="none" stroke-width="1" stroke-linejoin="round" />
<path d="M48.00 158.50V230.80H166.30" fill="none" stroke="#262626" stroke-width="1.25" stroke-linecap="square"/>
<line x1="45.60" y1="161.80" x2="48.00" y2="161.80" stroke="#262626" stroke-width="0.9" />
<text x="29.01" y="165.25" font-size="9.87" textLength="14.95" lengthAdjust="spacingAndGlyphs">0.5</text>
<line x1="45.60" y1="198.50" x2="48.00" y2="198.50" stroke="#262626" stroke-width="0.9" />
<text x="29.01" y="201.95" font-size="9.87" textLength="14.95" lengthAdjust="spacingAndGlyphs">0.0</text>
<line x1="53.50" y1="230.80" x2="53.50" y2="232.80" stroke="#262626" stroke-width="0.9" />
<text x="50.51" y="242.00" font-size="9.87" textLength="5.98" lengthAdjust="spacingAndGlyphs">0</text>
<line x1="107.60" y1="230.80" x2="107.60" y2="232.80" stroke="#262626" stroke-width="0.9" />
<text x="101.62" y="242.00" font-size="9.87" textLength="11.96" lengthAdjust="spacingAndGlyphs">24</text>
<line x1="162.00" y1="230.80" x2="162.00" y2="232.80" stroke="#262626" stroke-width="0.9" />
<text x="156.02" y="242.00" font-size="9.87" textLength="11.96" lengthAdjust="spacingAndGlyphs">48</text>
<text x="85.67" y="252.40" font-size="10.92" textLength="43.46" lengthAdjust="spacingAndGlyphs">Time (h)</text>
<text x="-14.29" y="196.90" font-size="10.92" textLength="58.98" lengthAdjust="spacingAndGlyphs" transform="rotate(-90 15.20 196.90)">Normalized</text>
<text x="-22.79" y="192.80" font-size="10.92" textLength="98.77" lengthAdjust="spacingAndGlyphs" transform="rotate(-90 26.60 192.80)">fluorescence (A.U.)</text>
<path d="M198.30 158.00V230.20H316.40" fill="none" stroke="#262626" stroke-width="1.25" stroke-linecap="square"/>
<line x1="195.90" y1="191.90" x2="198.30" y2="191.90" stroke="#262626" stroke-width="0.9" />
<text x="179.71" y="195.35" font-size="9.87" textLength="14.95" lengthAdjust="spacingAndGlyphs">0.0</text>
<line x1="195.90" y1="228.60" x2="198.30" y2="228.60" stroke="#262626" stroke-width="0.9" />
<text x="171.83" y="232.05" font-size="9.87" textLength="22.83" lengthAdjust="spacingAndGlyphs">−0.5</text>
<line x1="203.80" y1="230.20" x2="203.80" y2="232.20" stroke="#262626" stroke-width="0.9" />
<text x="200.81" y="241.00" font-size="9.87" textLength="5.98" lengthAdjust="spacingAndGlyphs">0</text>
<line x1="258.30" y1="230.20" x2="258.30" y2="232.20" stroke="#262626" stroke-width="0.9" />
<text x="252.32" y="241.00" font-size="9.87" textLength="11.96" lengthAdjust="spacingAndGlyphs">24</text>
<line x1="312.40" y1="230.20" x2="312.40" y2="232.20" stroke="#262626" stroke-width="0.9" />
<text x="306.42" y="241.00" font-size="9.87" textLength="11.96" lengthAdjust="spacingAndGlyphs">48</text>
<text x="236.07" y="252.20" font-size="10.92" textLength="43.46" lengthAdjust="spacingAndGlyphs">Time (h)</text>
<path d="M411.50 160.50V231.30H526.80" fill="none" stroke="#262626" stroke-width="1.25" stroke-linecap="square"/>
<line x1="409.10" y1="161.70" x2="411.50" y2="161.70" stroke="#262626" stroke-width="0.9" />
<text x="392.71" y="165.15" font-size="9.87" textLength="14.95" lengthAdjust="spacingAndGlyphs">0.5</text>
<line x1="409.10" y1="200.40" x2="411.50" y2="200.40" stroke="#262626" stroke-width="0.9" />
<text x="392.71" y="203.85" font-size="9.87" textLength="14.95" lengthAdjust="spacingAndGlyphs">0.0</text>
<line x1="416.50" y1="231.30" x2="416.50" y2="233.30" stroke="#262626" stroke-width="0.9" />
<text x="413.51" y="242.30" font-size="9.87" textLength="5.98" lengthAdjust="spacingAndGlyphs">0</text>
<line x1="469.20" y1="231.30" x2="469.20" y2="233.30" stroke="#262626" stroke-width="0.9" />
<text x="463.22" y="242.30" font-size="9.87" textLength="11.96" lengthAdjust="spacingAndGlyphs">24</text>
<line x1="521.50" y1="231.30" x2="521.50" y2="233.30" stroke="#262626" stroke-width="0.9" />
<text x="515.52" y="242.30" font-size="9.87" textLength="11.96" lengthAdjust="spacingAndGlyphs">48</text>
<text x="447.27" y="252.60" font-size="10.92" textLength="43.46" lengthAdjust="spacingAndGlyphs">Time (h)</text>
<text x="350.21" y="196.20" font-size="10.92" textLength="58.98" lengthAdjust="spacingAndGlyphs" transform="rotate(-90 379.70 196.20)">Normalized</text>
<text x="341.51" y="192.30" font-size="10.92" textLength="98.77" lengthAdjust="spacingAndGlyphs" transform="rotate(-90 390.90 192.30)">fluorescence (A.U.)</text>
<path d="M561.20 157.90V229.90H679.40" fill="none" stroke="#262626" stroke-width="1.25" stroke-linecap="square"/>
<line x1="558.80" y1="174.20" x2="561.20" y2="174.20" stroke="#262626" stroke-width="0.9" />
<text x="536.43" y="177.65" font-size="9.87" textLength="20.93" lengthAdjust="spacingAndGlyphs">0.25</text>
<line x1="558.80" y1="196.80" x2="561.20" y2="196.80" stroke="#262626" stroke-width="0.9" />
<text x="536.43" y="200.25" font-size="9.87" textLength="20.93" lengthAdjust="spacingAndGlyphs">0.00</text>
<line x1="558.80" y1="219.60" x2="561.20" y2="219.60" stroke="#262626" stroke-width="0.9" />
<text x="528.55" y="223.05" font-size="9.87" textLength="28.81" lengthAdjust="spacingAndGlyphs">−0.25</text>
<line x1="566.20" y1="229.90" x2="566.20" y2="231.90" stroke="#262626" stroke-width="0.9" />
<text x="563.21" y="240.90" font-size="9.87" textLength="5.98" lengthAdjust="spacingAndGlyphs">0</text>
<line x1="620.60" y1="229.90" x2="620.60" y2="231.90" stroke="#262626" stroke-width="0.9" />
<text x="614.62" y="240.90" font-size="9.87" textLength="11.96" lengthAdjust="spacingAndGlyphs">24</text>
<line x1="674.80" y1="229.90" x2="674.80" y2="231.90" stroke="#262626" stroke-width="0.9" />
<text x="668.82" y="240.90" font-size="9.87" textLength="11.96" lengthAdjust="spacingAndGlyphs">48</text>
<text x="598.67" y="251.80" font-size="10.92" textLength="43.46" lengthAdjust="spacingAndGlyphs">Time (h)</text>
<path d="M53.39 186.08 L54.29 184.65 L55.19 183.09 L56.09 182.04 L56.99 181.20 L57.89 181.23 L58.79 180.83 L59.69 181.60 L60.59 182.02 L61.49 182.88 L62.39 183.62 L63.29 184.76 L64.19 186.04 L65.09 187.44 L65.99 189.18 L66.89 190.97 L67.79 193.08 L68.69 195.32 L69.59 197.38 L70.49 199.83 L71.39 202.39 L72.29 204.54 L73.19 207.31 L74.09 209.64 L74.99 211.91 L75.89 213.95 L76.79 216.17 L77.69 218.13 L78.59 219.55 L79.49 220.68 L80.39 221.54 L81.29 222.13 L82.19 222.38 L83.09 222.81 L83.99 223.00 L84.89 223.29 L85.79 223.62 L86.69 223.32 L87.59 223.45 L88.49 222.79 L89.39 222.29 L90.29 221.78 L91.19 220.99 L92.09 220.00 L92.99 218.79 L93.89 217.27 L94.79 215.85 L95.69 213.91 L96.59 212.08 L97.49 209.95 L98.39 207.66 L99.29 205.24 L100.19 202.60 L101.09 200.23 L101.99 197.59 L102.89 194.71 L103.79 192.42 L104.69 189.36 L105.59 186.49 L106.49 183.81 L107.39 181.19 L108.29 178.06 L109.19 175.20 L110.09 171.53 L110.99 168.49 L111.89 165.51 L112.79 163.84 L113.69 162.92 L114.59 162.45 L115.49 162.01 L116.39 162.29 L117.29 162.41 L118.19 163.09 L119.09 163.71 L119.99 164.99 L120.89 166.11 L121.79 167.59 L122.69 169.55 L123.59 172.08 L124.49 174.28 L125.39 177.22 L126.29 180.38 L127.19 182.96 L128.09 185.78 L128.99 189.07 L129.89 192.04 L130.79 194.88 L131.69 198.35 L132.59 201.42 L133.49 204.36 L134.39 206.50 L135.29 208.60 L136.19 209.82 L137.09 211.31 L137.99 212.07 L138.89 213.27 L139.79 214.07 L140.69 214.40 L141.59 214.65 L142.49 214.93 L143.39 214.79 L144.29 214.49 L145.19 214.06 L146.09 213.69 L146.99 212.47 L147.89 211.66 L148.79 210.42 L149.69 209.46 L150.59 208.24 L151.49 206.89 L152.39 205.50 L153.29 204.08 L154.19 201.67 L155.09 200.07 L155.99 198.29 L156.89 196.24 L157.79 194.75 L158.69 192.90 L159.59 191.11 L160.49 188.73" fill="none" stroke="#f0b848" stroke-width="1.0" stroke-linejoin="round" stroke-linecap="round" />
<path d="M53.39 182.76 L54.29 182.01 L55.19 181.21 L56.09 180.24 L56.99 180.04 L57.89 179.86 L58.79 180.21 L59.69 180.67 L60.59 181.53 L61.49 182.09 L62.39 183.56 L63.29 184.72 L64.19 185.83 L65.09 187.55 L65.99 189.19 L66.89 190.68 L67.79 192.99 L68.69 194.97 L69.59 197.36 L70.49 199.77 L71.39 202.27 L72.29 204.79 L73.19 207.25 L74.09 209.44 L74.99 211.97 L75.89 214.02 L76.79 216.15 L77.69 218.28 L78.59 220.24 L79.49 221.72 L80.39 222.79 L81.29 223.81 L82.19 224.64 L83.09 225.47 L83.99 226.12 L84.89 226.30 L85.79 226.48 L86.69 226.33 L87.59 226.31 L88.49 225.46 L89.39 224.99 L90.29 224.67 L91.19 223.96 L92.09 222.52 L92.99 220.90 L93.89 218.59 L94.79 216.43 L95.69 214.30 L96.59 212.16 L97.49 209.65 L98.39 206.90 L99.29 204.46 L100.19 201.70 L101.09 199.08 L101.99 196.05 L102.89 193.04 L103.79 189.54 L104.69 186.31 L105.59 185.32 L106.49 180.38 L107.39 175.30 L108.29 170.91 L109.19 168.07 L110.09 166.21 L110.99 165.19 L111.89 164.21 L112.79 164.04 L113.69 164.14 L114.59 164.30 L115.49 165.23 L116.39 166.07 L117.29 166.84 L118.19 167.79 L119.09 169.17 L119.99 170.97 L120.89 173.03 L121.79 174.80 L122.69 176.96 L123.59 179.16 L124.49 181.65 L125.39 184.55 L126.29 187.16 L127.19 190.21 L128.09 193.34 L128.99 196.36 L129.89 199.41 L130.79 202.03 L131.69 204.79 L132.59 207.20 L133.49 209.13 L134.39 211.22 L135.29 213.03 L136.19 214.78 L137.09 216.02 L137.99 217.03 L138.89 217.73 L139.79 218.25 L140.69 218.55 L141.59 218.42 L142.49 218.18 L143.39 218.25 L144.29 217.67 L145.19 217.07 L146.09 216.22 L146.99 215.07 L147.89 213.81 L148.79 212.80 L149.69 211.23 L150.59 209.44 L151.49 207.40 L152.39 205.32 L153.29 202.94 L154.19 200.58 L155.09 198.02 L155.99 195.57 L156.89 193.34 L157.79 191.25 L158.69 188.32 L159.59 186.01 L160.49 182.65" fill="none" stroke="#f07090" stroke-width="1.0" stroke-linejoin="round" stroke-linecap="round" />
<path d="M53.39 181.14 L54.29 180.11 L55.19 179.03 L56.09 178.40 L56.99 177.91 L57.89 178.02 L58.79 179.23 L59.69 179.88 L60.59 180.38 L61.49 181.53 L62.39 182.70 L63.29 184.06 L64.19 185.53 L65.09 186.80 L65.99 188.23 L66.89 190.06 L67.79 191.84 L68.69 194.02 L69.59 196.23 L70.49 198.73 L71.39 201.95 L72.29 204.69 L73.19 207.71 L74.09 210.61 L74.99 213.59 L75.89 216.29 L76.79 218.70 L77.69 220.66 L78.59 222.12 L79.49 223.26 L80.39 224.85 L81.29 225.45 L82.19 226.18 L83.09 226.48 L83.99 226.85 L84.89 227.13 L85.79 226.76 L86.69 226.76 L87.59 226.68 L88.49 226.57 L89.39 225.67 L90.29 224.58 L91.19 223.38 L92.09 222.20 L92.99 220.09 L93.89 217.93 L94.79 215.73 L95.69 212.72 L96.59 209.80 L97.49 206.58 L98.39 203.58 L99.29 200.00 L100.19 196.02 L101.09 192.44 L101.99 189.32 L102.89 186.50 L103.79 184.01 L104.69 182.20 L105.59 178.99 L106.49 174.70 L107.39 171.25 L108.29 168.97 L109.19 167.12 L110.09 165.60 L110.99 164.64 L111.89 164.16 L112.79 164.23 L113.69 164.46 L114.59 165.30 L115.49 166.01 L116.39 166.88 L117.29 168.08 L118.19 169.34 L119.09 170.73 L119.99 172.57 L120.89 174.37 L121.79 176.40 L122.69 178.30 L123.59 180.87 L124.49 183.48 L125.39 185.89 L126.29 188.44 L127.19 191.06 L128.09 193.96 L128.99 196.94 L129.89 199.22 L130.79 202.01 L131.69 204.20 L132.59 206.61 L133.49 208.27 L134.39 210.03 L135.29 211.50 L136.19 212.78 L137.09 213.73 L137.99 214.88 L138.89 215.70 L139.79 216.48 L140.69 216.87 L141.59 217.07 L142.49 217.16 L143.39 216.65 L144.29 216.21 L145.19 215.53 L146.09 214.66 L146.99 213.42 L147.89 212.23 L148.79 210.35 L149.69 208.93 L150.59 206.68 L151.49 204.71 L152.39 202.07 L153.29 199.75 L154.19 197.30 L155.09 194.97 L155.99 192.08 L156.89 189.57 L157.79 186.48 L158.69 184.02 L159.59 180.83 L160.49 177.76" fill="none" stroke="#d040f0" stroke-width="1.0" stroke-linejoin="round" stroke-linecap="round" />
<path d="M53.39 184.11 L54.29 183.37 L55.19 183.13 L56.09 182.83 L56.99 182.62 L57.89 183.40 L58.79 183.55 L59.69 184.16 L60.59 185.00 L61.49 185.40 L62.39 185.95 L63.29 186.90 L64.19 188.16 L65.09 188.65 L65.99 190.06 L66.89 191.30 L67.79 192.47 L68.69 194.57 L69.59 196.87 L70.49 199.22 L71.39 202.09 L72.29 205.03 L73.19 207.37 L74.09 210.15 L74.99 213.33 L75.89 215.95 L76.79 218.03 L77.69 220.37 L78.59 222.57 L79.49 223.41 L80.39 224.99 L81.29 225.71 L82.19 226.07 L83.09 226.69 L83.99 226.74 L84.89 227.27 L85.79 227.28 L86.69 226.56 L87.59 226.26 L88.49 225.64 L89.39 224.54 L90.29 223.44 L91.19 221.57 L92.09 219.85 L92.99 217.06 L93.89 213.90 L94.79 210.62 L95.69 207.19 L96.59 203.15 L97.49 199.86 L98.39 196.22 L99.29 192.45 L100.19 189.38 L101.09 185.70 L101.99 182.80 L102.89 180.46 L103.79 178.02 L104.69 176.60 L105.59 174.91 L106.49 173.99 L107.39 172.07 L108.29 170.83 L109.19 170.70 L110.09 169.94 L110.99 170.29 L111.89 170.01 L112.79 170.46 L113.69 170.97 L114.59 171.16 L115.49 171.46 L116.39 172.20 L117.29 173.19 L118.19 173.74 L119.09 174.65 L119.99 175.41 L120.89 176.42 L121.79 177.40 L122.69 178.46 L123.59 180.25 L124.49 181.95 L125.39 183.61 L126.29 186.37 L127.19 189.13 L128.09 192.01 L128.99 194.26 L129.89 197.67 L130.79 200.85 L131.69 203.75 L132.59 206.04 L133.49 208.69 L134.39 210.81 L135.29 213.17 L136.19 215.41 L137.09 217.84 L137.99 219.68 L138.89 221.45 L139.79 222.70 L140.69 223.77 L141.59 224.33 L142.49 223.99 L143.39 223.59 L144.29 223.18 L145.19 222.34 L146.09 221.00 L146.99 219.84 L147.89 217.92 L148.79 216.02 L149.69 213.29 L150.59 210.79 L151.49 207.95 L152.39 204.82 L153.29 201.86 L154.19 198.68 L155.09 195.38 L155.99 192.12 L156.89 188.21 L157.79 184.53 L158.69 180.74 L159.59 177.42 L160.49 173.27" fill="none" stroke="#5a18f8" stroke-width="1.0" stroke-linejoin="round" stroke-linecap="round" />
<path d="M53.39 197.32 L54.29 193.44 L55.19 193.09 L56.09 190.25 L56.99 189.86 L57.89 189.86 L58.79 190.59 L59.69 190.78 L60.59 190.31 L61.49 189.74 L62.39 191.44 L63.29 192.74 L64.19 193.02 L65.09 193.29 L65.99 194.28 L66.89 195.50 L67.79 197.54 L68.69 198.55 L69.59 200.60 L70.49 201.04 L71.39 203.26 L72.29 203.97 L73.19 204.51 L74.09 206.27 L74.99 206.75 L75.89 208.17 L76.79 209.80 L77.69 211.59 L78.59 213.18 L79.49 214.85 L80.39 215.80 L81.29 215.11 L82.19 215.81 L83.09 215.29 L83.99 215.30 L84.89 216.00 L85.79 216.50 L86.69 217.02 L87.59 216.77 L88.49 214.61 L89.39 214.72 L90.29 214.12 L91.19 212.24 L92.09 210.65 L92.99 204.92 L93.89 201.82 L94.79 200.94 L95.69 199.22 L96.59 196.19 L97.49 194.83 L98.39 191.14 L99.29 191.11 L100.19 190.22 L101.09 190.23 L101.99 190.68 L102.89 189.45 L103.79 190.05 L104.69 190.33 L105.59 188.07 L106.49 187.86 L107.39 186.67 L108.29 182.24 L109.19 182.48 L110.09 183.94 L110.99 181.60 L111.89 177.46 L112.79 178.09 L113.69 180.43 L114.59 180.03 L115.49 181.12 L116.39 179.48 L117.29 180.76 L118.19 180.44 L119.09 180.66 L119.99 180.88 L120.89 181.47 L121.79 183.44 L122.69 184.99 L123.59 187.23 L124.49 186.26 L125.39 187.78 L126.29 188.85 L127.19 191.65 L128.09 195.52 L128.99 197.74 L129.89 199.80 L130.79 202.78 L131.69 203.33 L132.59 205.91 L133.49 206.76 L134.39 208.28 L135.29 207.71 L136.19 209.91 L137.09 211.59 L137.99 212.11 L138.89 212.24 L139.79 213.71 L140.69 214.42 L141.59 214.39 L142.49 214.70 L143.39 213.50 L144.29 214.61 L145.19 213.26 L146.09 212.00 L146.99 210.73 L147.89 208.15 L148.79 205.88 L149.69 203.30 L150.59 198.77 L151.49 194.94 L152.39 195.67 L153.29 195.81 L154.19 195.26 L155.09 192.86 L155.99 194.38 L156.89 194.48 L157.79 194.41 L158.69 193.54 L159.59 191.16 L160.49 190.89" fill="none" stroke="#2a10d8" stroke-width="1.0" stroke-linejoin="round" stroke-linecap="round" />
<path d="M203.80 212.37 L204.90 212.00 L206.00 211.42 L207.10 211.27 L208.20 210.25 L209.30 209.41 L210.40 208.57 L211.50 207.32 L212.60 205.84 L213.70 204.00 L214.80 202.32 L215.90 200.69 L217.00 199.19 L218.10 197.27 L219.20 194.14 L220.30 191.05 L221.40 188.85 L222.50 184.81 L223.60 181.62 L224.70 177.63 L225.80 172.75 L226.90 169.03 L228.00 167.12 L229.10 166.58 L230.20 165.63 L231.30 164.85 L232.40 166.07 L233.50 167.29 L234.60 167.36 L235.70 167.24 L236.80 167.16 L237.90 166.96 L239.00 168.52 L240.10 169.16 L241.20 170.15 L242.30 171.76 L243.40 172.15 L244.50 173.25 L245.60 174.55 L246.70 175.58 L247.80 177.37 L248.90 179.77 L250.00 183.44 L251.10 187.10 L252.20 191.28 L253.30 197.55 L254.40 203.09 L255.50 208.08 L256.60 214.62 L257.70 220.45 L258.80 224.05 L259.90 222.68 L261.00 220.15 L262.10 219.37 L263.20 219.17 L264.30 217.12 L265.40 216.49 L266.50 216.19 L267.60 216.24 L268.70 214.94 L269.80 213.36 L270.90 211.89 L272.00 210.92 L273.10 209.73 L274.20 206.52 L275.30 203.38 L276.40 201.57 L277.50 196.80 L278.60 191.09 L279.70 186.20 L280.80 181.70 L281.90 179.36 L283.00 178.76 L284.10 178.14 L285.20 177.24 L286.30 176.82 L287.40 177.60 L288.50 177.47 L289.60 178.28 L290.70 178.21 L291.80 178.68 L292.90 179.39 L294.00 179.55 L295.10 179.84 L296.20 180.25 L297.30 182.08 L298.40 182.43 L299.50 181.85 L300.60 182.71 L301.70 184.31 L302.80 184.98 L303.90 186.92 L305.00 189.52 L306.10 192.72 L307.20 196.73 L308.30 200.08 L309.40 203.67 L310.50 207.60" fill="none" stroke="#f0b848" stroke-width="1.0" stroke-linejoin="round" stroke-linecap="round" />
<path d="M203.80 213.00 L204.90 213.04 L206.00 212.41 L207.10 210.98 L208.20 210.26 L209.30 209.12 L210.40 208.41 L211.50 206.84 L212.60 205.84 L213.70 203.21 L214.80 203.15 L215.90 200.75 L217.00 199.33 L218.10 196.84 L219.20 193.94 L220.30 191.19 L221.40 188.42 L222.50 184.79 L223.60 180.74 L224.70 176.72 L225.80 171.64 L226.90 167.56 L228.00 166.29 L229.10 164.60 L230.20 163.41 L231.30 163.91 L232.40 164.66 L233.50 164.92 L234.60 164.88 L235.70 165.61 L236.80 166.32 L237.90 166.34 L239.00 166.79 L240.10 168.12 L241.20 169.17 L242.30 169.70 L243.40 171.11 L244.50 172.43 L245.60 173.06 L246.70 174.25 L247.80 176.80 L248.90 179.27 L250.00 182.74 L251.10 185.57 L252.20 190.62 L253.30 196.26 L254.40 202.02 L255.50 208.72 L256.60 214.75 L257.70 220.55 L258.80 225.77 L259.90 223.24 L261.00 220.94 L262.10 220.06 L263.20 219.64 L264.30 217.79 L265.40 217.59 L266.50 216.88 L267.60 215.56 L268.70 215.58 L269.80 213.84 L270.90 212.81 L272.00 210.83 L273.10 209.42 L274.20 207.25 L275.30 203.76 L276.40 201.72 L277.50 196.53 L278.60 191.15 L279.70 184.94 L280.80 180.92 L281.90 178.93 L283.00 177.86 L284.10 177.15 L285.20 176.97 L286.30 177.23 L287.40 175.90 L288.50 177.26 L289.60 177.34 L290.70 177.39 L291.80 177.33 L292.90 178.75 L294.00 178.08 L295.10 179.44 L296.20 180.36 L297.30 179.69 L298.40 180.91 L299.50 181.08 L300.60 182.45 L301.70 183.91 L302.80 185.38 L303.90 185.39 L305.00 188.24 L306.10 192.44 L307.20 197.09 L308.30 200.19 L309.40 203.20 L310.50 207.50" fill="none" stroke="#f07090" stroke-width="1.0" stroke-linejoin="round" stroke-linecap="round" />
<path d="M203.80 213.09 L204.90 212.99 L206.00 212.27 L207.10 211.61 L208.20 211.18 L209.30 208.85 L210.40 207.88 L211.50 206.25 L212.60 205.41 L213.70 204.41 L214.80 202.32 L215.90 200.87 L217.00 197.99 L218.10 196.74 L219.20 193.41 L220.30 191.44 L221.40 188.04 L222.50 184.83 L223.60 180.22 L224.70 176.04 L225.80 171.58 L226.90 167.27 L228.00 165.02 L229.10 163.96 L230.20 163.10 L231.30 163.11 L232.40 163.85 L233.50 164.25 L234.60 165.02 L235.70 163.99 L236.80 165.42 L237.90 165.31 L239.00 166.04 L240.10 166.51 L241.20 167.98 L242.30 168.93 L243.40 170.18 L244.50 170.98 L245.60 172.48 L246.70 174.74 L247.80 176.18 L248.90 178.31 L250.00 182.15 L251.10 185.64 L252.20 190.84 L253.30 196.68 L254.40 202.53 L255.50 207.81 L256.60 214.49 L257.70 221.40 L258.80 225.34 L259.90 223.38 L261.00 221.37 L262.10 219.88 L263.20 220.00 L264.30 219.34 L265.40 218.00 L266.50 217.32 L267.60 217.03 L268.70 216.60 L269.80 214.16 L270.90 212.56 L272.00 211.37 L273.10 209.06 L274.20 206.39 L275.30 203.68 L276.40 201.49 L277.50 196.55 L278.60 189.88 L279.70 183.85 L280.80 179.73 L281.90 177.97 L283.00 177.30 L284.10 176.53 L285.20 176.30 L286.30 175.88 L287.40 176.24 L288.50 175.72 L289.60 175.97 L290.70 176.91 L291.80 177.46 L292.90 177.90 L294.00 178.31 L295.10 178.95 L296.20 179.56 L297.30 179.05 L298.40 180.16 L299.50 181.33 L300.60 182.08 L301.70 182.04 L302.80 184.52 L303.90 185.55 L305.00 188.00 L306.10 191.92 L307.20 196.48 L308.30 199.20 L309.40 203.89 L310.50 207.39" fill="none" stroke="#d040f0" stroke-width="1.0" stroke-linejoin="round" stroke-linecap="round" />
<path d="M203.80 214.32 L204.90 211.54 L206.00 212.76 L207.10 211.69 L208.20 211.40 L209.30 209.90 L210.40 209.30 L211.50 207.14 L212.60 205.48 L213.70 204.45 L214.80 202.72 L215.90 200.64 L217.00 198.86 L218.10 197.08 L219.20 194.16 L220.30 190.37 L221.40 187.36 L222.50 183.41 L223.60 180.74 L224.70 175.31 L225.80 171.44 L226.90 167.09 L228.00 165.55 L229.10 164.11 L230.20 162.91 L231.30 163.44 L232.40 162.96 L233.50 164.57 L234.60 163.43 L235.70 164.29 L236.80 164.95 L237.90 165.13 L239.00 165.57 L240.10 166.22 L241.20 167.38 L242.30 169.03 L243.40 170.03 L244.50 170.65 L245.60 171.45 L246.70 173.84 L247.80 175.00 L248.90 178.03 L250.00 181.16 L251.10 185.89 L252.20 190.63 L253.30 196.69 L254.40 203.02 L255.50 208.70 L256.60 215.33 L257.70 222.36 L258.80 226.15 L259.90 224.09 L261.00 221.44 L262.10 221.15 L263.20 220.29 L264.30 219.53 L265.40 218.17 L266.50 218.02 L267.60 216.85 L268.70 215.90 L269.80 214.24 L270.90 213.23 L272.00 211.19 L273.10 209.51 L274.20 207.70 L275.30 204.83 L276.40 201.75 L277.50 195.20 L278.60 190.10 L279.70 184.05 L280.80 179.06 L281.90 177.57 L283.00 177.82 L284.10 175.75 L285.20 175.07 L286.30 175.74 L287.40 175.65 L288.50 175.93 L289.60 175.85 L290.70 176.47 L291.80 177.03 L292.90 176.39 L294.00 177.02 L295.10 178.79 L296.20 179.29 L297.30 179.34 L298.40 179.78 L299.50 180.80 L300.60 181.05 L301.70 182.36 L302.80 184.55 L303.90 185.66 L305.00 188.52 L306.10 191.67 L307.20 196.38 L308.30 200.61 L309.40 203.06 L310.50 207.50" fill="none" stroke="#5a18f8" stroke-width="1.0" stroke-linejoin="round" stroke-linecap="round" />
<path d="M203.80 214.43 L204.90 213.08 L206.00 212.20 L207.10 210.90 L208.20 211.19 L209.30 210.79 L210.40 208.95 L211.50 207.78 L212.60 206.55 L213.70 204.13 L214.80 204.00 L215.90 200.64 L217.00 199.31 L218.10 198.10 L219.20 193.81 L220.30 190.57 L221.40 187.13 L222.50 184.11 L223.60 178.64 L224.70 174.59 L225.80 170.94 L226.90 166.21 L228.00 163.72 L229.10 162.70 L230.20 162.05 L231.30 161.93 L232.40 162.76 L233.50 162.38 L234.60 163.50 L235.70 162.97 L236.80 163.97 L237.90 164.18 L239.00 164.47 L240.10 165.76 L241.20 166.31 L242.30 168.28 L243.40 168.91 L244.50 170.49 L245.60 170.88 L246.70 173.68 L247.80 175.00 L248.90 178.44 L250.00 181.53 L251.10 184.84 L252.20 190.59 L253.30 196.34 L254.40 203.38 L255.50 210.12 L256.60 216.07 L257.70 223.07 L258.80 226.64 L259.90 224.82 L261.00 222.52 L262.10 222.00 L263.20 220.52 L264.30 220.18 L265.40 218.96 L266.50 217.32 L267.60 217.26 L268.70 216.94 L269.80 214.63 L270.90 213.00 L272.00 212.43 L273.10 210.43 L274.20 207.70 L275.30 204.69 L276.40 201.57 L277.50 196.27 L278.60 190.25 L279.70 184.45 L280.80 179.79 L281.90 177.08 L283.00 176.49 L284.10 175.27 L285.20 174.30 L286.30 175.01 L287.40 175.48 L288.50 174.98 L289.60 176.03 L290.70 175.72 L291.80 176.87 L292.90 177.33 L294.00 177.11 L295.10 176.96 L296.20 178.34 L297.30 178.54 L298.40 179.26 L299.50 180.40 L300.60 181.86 L301.70 182.16 L302.80 183.43 L303.90 184.54 L305.00 187.58 L306.10 191.11 L307.20 196.54 L308.30 199.95 L309.40 203.96 L310.50 208.08" fill="none" stroke="#2a10d8" stroke-width="1.0" stroke-linejoin="round" stroke-linecap="round" />
<path d="M416.29 185.92 L417.19 186.25 L418.09 186.66 L418.99 187.45 L419.89 187.57 L420.79 188.34 L421.69 189.39 L422.59 190.82 L423.49 191.28 L424.39 192.40 L425.29 193.76 L426.19 195.01 L427.09 196.51 L427.99 197.93 L428.89 199.67 L429.79 201.46 L430.69 203.73 L431.59 205.46 L432.49 207.50 L433.39 209.20 L434.29 211.15 L435.19 212.38 L436.09 213.57 L436.99 214.63 L437.89 215.41 L438.79 216.15 L439.69 216.76 L440.59 217.75 L441.49 217.82 L442.39 218.21 L443.29 218.98 L444.19 219.73 L445.09 219.79 L445.99 219.70 L446.89 220.11 L447.79 220.13 L448.69 219.29 L449.59 219.08 L450.49 218.42 L451.39 217.86 L452.29 216.74 L453.19 215.88 L454.09 215.38 L454.99 214.25 L455.89 212.71 L456.79 212.94 L457.69 212.17 L458.59 210.15 L459.49 208.47 L460.39 205.72 L461.29 203.29 L462.19 200.36 L463.09 196.91 L463.99 193.73 L464.89 189.86 L465.79 185.83 L466.69 180.62 L467.59 175.40 L468.49 173.53 L469.39 171.29 L470.29 170.17 L471.19 169.30 L472.09 168.31 L472.99 168.10 L473.89 167.62 L474.79 167.82 L475.69 168.39 L476.59 168.24 L477.49 169.05 L478.39 169.25 L479.29 170.55 L480.19 171.13 L481.09 172.62 L481.99 174.15 L482.89 176.48 L483.79 178.21 L484.69 180.43 L485.59 182.79 L486.49 185.21 L487.39 187.52 L488.29 189.78 L489.19 192.71 L490.09 195.00 L490.99 197.12 L491.89 199.92 L492.79 201.49 L493.69 203.95 L494.59 206.44 L495.49 208.34 L496.39 210.06 L497.29 211.47 L498.19 212.80 L499.09 214.21 L499.99 215.56 L500.89 216.24 L501.79 216.62 L502.69 217.31 L503.59 218.01 L504.49 217.53 L505.39 217.47 L506.29 216.30 L507.19 215.49 L508.09 214.52 L508.99 213.99 L509.89 212.13 L510.79 210.91 L511.69 209.54 L512.59 207.37 L513.49 205.73 L514.39 203.65 L515.29 201.66 L516.19 199.43 L517.09 196.47 L517.99 193.96 L518.89 190.53 L519.79 186.89 L520.69 182.42" fill="none" stroke="#f0b848" stroke-width="1.0" stroke-linejoin="round" stroke-linecap="round" />
<path d="M416.29 180.70 L417.19 182.19 L418.09 183.24 L418.99 184.49 L419.89 185.17 L420.79 186.90 L421.69 187.78 L422.59 188.69 L423.49 190.07 L424.39 191.72 L425.29 193.66 L426.19 196.03 L427.09 197.91 L427.99 199.58 L428.89 201.69 L429.79 204.46 L430.69 206.34 L431.59 208.14 L432.49 210.56 L433.39 212.56 L434.29 214.47 L435.19 216.13 L436.09 217.16 L436.99 218.55 L437.89 219.76 L438.79 220.84 L439.69 221.43 L440.59 222.34 L441.49 223.47 L442.39 223.23 L443.29 223.29 L444.19 223.09 L445.09 222.29 L445.99 221.66 L446.89 221.45 L447.79 220.56 L448.69 219.11 L449.59 218.47 L450.49 217.12 L451.39 215.97 L452.29 215.17 L453.19 214.28 L454.09 212.54 L454.99 211.50 L455.89 209.30 L456.79 207.83 L457.69 205.82 L458.59 203.62 L459.49 201.49 L460.39 198.92 L461.29 196.04 L462.19 193.08 L463.09 190.37 L463.99 187.29 L464.89 183.63 L465.79 179.93 L466.69 176.86 L467.59 174.72 L468.49 171.90 L469.39 169.47 L470.29 168.16 L471.19 167.20 L472.09 166.87 L472.99 166.81 L473.89 167.53 L474.79 167.94 L475.69 168.79 L476.59 169.60 L477.49 170.54 L478.39 171.91 L479.29 173.71 L480.19 176.06 L481.09 178.78 L481.99 181.56 L482.89 184.50 L483.79 187.24 L484.69 189.57 L485.59 192.44 L486.49 194.84 L487.39 197.73 L488.29 200.28 L489.19 203.14 L490.09 205.31 L490.99 207.53 L491.89 209.90 L492.79 211.51 L493.69 213.95 L494.59 215.92 L495.49 217.89 L496.39 219.00 L497.29 220.80 L498.19 221.56 L499.09 223.08 L499.99 222.96 L500.89 222.91 L501.79 221.89 L502.69 221.47 L503.59 220.41 L504.49 219.13 L505.39 217.93 L506.29 216.57 L507.19 215.04 L508.09 213.12 L508.99 211.98 L509.89 209.63 L510.79 207.52 L511.69 205.21 L512.59 202.74 L513.49 200.21 L514.39 197.67 L515.29 194.66 L516.19 191.97 L517.09 188.30 L517.99 185.05 L518.89 180.57 L519.79 176.80 L520.69 172.70" fill="none" stroke="#f07090" stroke-width="1.0" stroke-linejoin="round" stroke-linecap="round" />
<path d="M416.29 187.13 L417.19 187.47 L418.09 188.58 L418.99 189.26 L419.89 189.08 L420.79 189.62 L421.69 190.28 L422.59 190.63 L423.49 191.52 L424.39 192.52 L425.29 194.43 L426.19 196.07 L427.09 197.69 L427.99 199.95 L428.89 201.96 L429.79 203.81 L430.69 206.17 L431.59 207.80 L432.49 210.18 L433.39 211.70 L434.29 213.15 L435.19 214.19 L436.09 215.59 L436.99 216.02 L437.89 216.63 L438.79 217.27 L439.69 218.02 L440.59 218.38 L441.49 218.60 L442.39 218.36 L443.29 218.16 L444.19 217.10 L445.09 216.86 L445.99 216.57 L446.89 216.58 L447.79 216.09 L448.69 214.85 L449.59 213.55 L450.49 212.41 L451.39 211.75 L452.29 210.88 L453.19 209.97 L454.09 208.78 L454.99 208.02 L455.89 206.98 L456.79 205.94 L457.69 204.81 L458.59 202.98 L459.49 201.02 L460.39 198.47 L461.29 195.94 L462.19 193.29 L463.09 189.78 L463.99 186.87 L464.89 183.77 L465.79 181.10 L466.69 179.08 L467.59 177.71 L468.49 175.49 L469.39 174.36 L470.29 173.28 L471.19 173.34 L472.09 173.18 L472.99 173.05 L473.89 173.04 L474.79 173.27 L475.69 173.51 L476.59 174.61 L477.49 176.36 L478.39 177.99 L479.29 179.81 L480.19 182.08 L481.09 184.48 L481.99 187.27 L482.89 189.76 L483.79 192.71 L484.69 195.29 L485.59 198.28 L486.49 201.02 L487.39 203.27 L488.29 205.58 L489.19 207.30 L490.09 209.27 L490.99 210.97 L491.89 212.40 L492.79 214.31 L493.69 215.44 L494.59 216.81 L495.49 218.02 L496.39 218.79 L497.29 219.27 L498.19 219.12 L499.09 218.68 L499.99 218.00 L500.89 216.64 L501.79 215.79 L502.69 215.01 L503.59 214.48 L504.49 214.27 L505.39 213.38 L506.29 212.80 L507.19 212.30 L508.09 210.76 L508.99 209.37 L509.89 207.10 L510.79 205.14 L511.69 202.68 L512.59 200.54 L513.49 198.61 L514.39 195.82 L515.29 194.28 L516.19 192.16 L517.09 189.87 L517.99 187.57 L518.89 185.81 L519.79 183.44 L520.69 181.10" fill="none" stroke="#d040f0" stroke-width="1.0" stroke-linejoin="round" stroke-linecap="round" />
<path d="M416.29 177.44 L417.19 179.27 L418.09 180.67 L418.99 182.30 L419.89 183.78 L420.79 186.29 L421.69 187.87 L422.59 189.82 L423.49 191.53 L424.39 194.18 L425.29 196.27 L426.19 198.30 L427.09 200.48 L427.99 202.86 L428.89 205.07 L429.79 207.52 L430.69 209.59 L431.59 212.08 L432.49 214.03 L433.39 216.21 L434.29 218.69 L435.19 219.92 L436.09 221.23 L436.99 222.74 L437.89 222.71 L438.79 223.50 L439.69 223.65 L440.59 223.26 L441.49 222.96 L442.39 221.94 L443.29 221.96 L444.19 221.21 L445.09 220.02 L445.99 219.86 L446.89 218.05 L447.79 216.83 L448.69 215.60 L449.59 214.75 L450.49 213.48 L451.39 212.09 L452.29 210.41 L453.19 208.67 L454.09 207.35 L454.99 205.06 L455.89 202.97 L456.79 201.45 L457.69 198.89 L458.59 196.60 L459.49 194.15 L460.39 191.16 L461.29 188.25 L462.19 185.42 L463.09 181.93 L463.99 178.88 L464.89 175.35 L465.79 171.67 L466.69 169.09 L467.59 166.09 L468.49 165.68 L469.39 165.52 L470.29 166.06 L471.19 166.00 L472.09 166.92 L472.99 167.89 L473.89 168.86 L474.79 169.97 L475.69 171.03 L476.59 172.33 L477.49 174.31 L478.39 176.79 L479.29 178.46 L480.19 181.85 L481.09 185.21 L481.99 188.32 L482.89 191.84 L483.79 194.55 L484.69 197.49 L485.59 201.13 L486.49 203.38 L487.39 206.99 L488.29 210.53 L489.19 212.60 L490.09 214.98 L490.99 216.84 L491.89 219.09 L492.79 220.79 L493.69 222.84 L494.59 223.35 L495.49 223.83 L496.39 225.34 L497.29 225.96 L498.19 225.54 L499.09 225.19 L499.99 224.98 L500.89 224.80 L501.79 223.72 L502.69 222.74 L503.59 220.85 L504.49 219.76 L505.39 218.39 L506.29 216.34 L507.19 214.08 L508.09 212.39 L508.99 209.98 L509.89 207.09 L510.79 204.46 L511.69 202.38 L512.59 199.36 L513.49 196.89 L514.39 194.76 L515.29 191.69 L516.19 188.79 L517.09 185.55 L517.99 183.00 L518.89 179.66 L519.79 175.88 L520.69 172.48" fill="none" stroke="#5a18f8" stroke-width="1.0" stroke-linejoin="round" stroke-linecap="round" />
<path d="M416.29 177.13 L417.19 178.38 L418.09 180.02 L418.99 181.84 L419.89 183.43 L420.79 185.10 L421.69 186.64 L422.59 188.31 L423.49 190.58 L424.39 192.35 L425.29 194.76 L426.19 196.75 L427.09 198.77 L427.99 201.45 L428.89 204.13 L429.79 206.58 L430.69 208.93 L431.59 211.84 L432.49 214.33 L433.39 216.58 L434.29 218.39 L435.19 219.54 L436.09 220.89 L436.99 222.12 L437.89 222.18 L438.79 223.12 L439.69 222.72 L440.59 222.58 L441.49 222.62 L442.39 221.69 L443.29 220.97 L444.19 220.33 L445.09 219.32 L445.99 218.12 L446.89 217.11 L447.79 216.21 L448.69 214.38 L449.59 212.59 L450.49 210.71 L451.39 208.83 L452.29 206.65 L453.19 204.06 L454.09 202.13 L454.99 199.68 L455.89 197.69 L456.79 194.73 L457.69 192.54 L458.59 189.31 L459.49 186.97 L460.39 183.94 L461.29 180.95 L462.19 178.21 L463.09 174.61 L463.99 171.97 L464.89 169.55 L465.79 168.03 L466.69 166.54 L467.59 164.71 L468.49 164.34 L469.39 163.55 L470.29 164.79 L471.19 165.21 L472.09 166.02 L472.99 166.04 L473.89 168.14 L474.79 168.98 L475.69 170.17 L476.59 172.61 L477.49 175.15 L478.39 177.14 L479.29 180.64 L480.19 183.25 L481.09 186.13 L481.99 189.08 L482.89 191.86 L483.79 195.05 L484.69 198.02 L485.59 201.25 L486.49 204.43 L487.39 207.20 L488.29 211.03 L489.19 214.28 L490.09 218.52 L490.99 221.46 L491.89 224.38 L492.79 226.67 L493.69 227.41 L494.59 228.14 L495.49 227.72 L496.39 227.73 L497.29 227.70 L498.19 227.49 L499.09 226.39 L499.99 226.60 L500.89 225.78 L501.79 225.67 L502.69 224.27 L503.59 223.10 L504.49 221.98 L505.39 219.76 L506.29 217.92 L507.19 215.51 L508.09 213.22 L508.99 210.31 L509.89 207.20 L510.79 204.42 L511.69 201.70 L512.59 198.51 L513.49 195.47 L514.39 193.42 L515.29 189.48 L516.19 186.67 L517.09 182.73 L517.99 179.24 L518.89 175.31 L519.79 172.35 L520.69 168.26" fill="none" stroke="#2a10d8" stroke-width="1.0" stroke-linejoin="round" stroke-linecap="round" />
<path d="M566.21 218.64 L567.11 219.13 L568.01 217.94 L568.91 215.07 L569.81 213.28 L570.71 209.82 L571.61 206.68 L572.51 204.02 L573.41 201.35 L574.31 201.22 L575.21 197.96 L576.11 196.60 L577.01 194.31 L577.91 192.30 L578.81 190.31 L579.71 188.38 L580.61 187.46 L581.51 184.09 L582.41 180.95 L583.31 178.61 L584.21 174.69 L585.11 175.93 L586.01 172.23 L586.91 174.91 L587.81 179.64 L588.71 177.35 L589.61 181.85 L590.51 184.15 L591.41 185.66 L592.31 183.72 L593.21 185.99 L594.11 187.34 L595.01 189.07 L595.91 187.46 L596.81 191.94 L597.71 192.53 L598.61 189.56 L599.51 186.35 L600.41 184.23 L601.31 181.36 L602.21 188.96 L603.11 195.54 L604.01 198.58 L604.91 197.15 L605.81 202.21 L606.71 203.67 L607.61 203.87 L608.51 206.29 L609.41 203.72 L610.31 205.86 L611.21 208.42 L612.11 210.00 L613.01 210.38 L613.91 213.16 L614.81 214.28 L615.71 213.64 L616.61 216.76 L617.51 214.05 L618.41 211.86 L619.31 213.86 L620.21 215.90 L621.11 215.79 L622.01 216.52 L622.91 215.28 L623.81 210.72 L624.71 212.42 L625.61 209.34 L626.51 203.30 L627.41 202.66 L628.31 199.14 L629.21 198.42 L630.11 194.76 L631.01 192.89 L631.91 190.92 L632.81 187.05 L633.71 184.08 L634.61 184.18 L635.51 181.42 L636.41 179.51 L637.31 177.23 L638.21 174.81 L639.11 174.07 L640.01 171.43 L640.91 167.51 L641.81 167.41 L642.71 171.62 L643.61 176.44 L644.51 180.22 L645.41 183.61 L646.31 184.94 L647.21 188.55 L648.11 189.40 L649.01 189.75 L649.91 185.81 L650.81 186.39 L651.71 185.69 L652.61 187.20 L653.51 188.99 L654.41 194.85 L655.31 198.22 L656.21 202.05 L657.11 198.89 L658.01 199.46 L658.91 197.11 L659.81 192.72 L660.71 194.69 L661.61 192.79 L662.51 191.82 L663.41 197.73 L664.31 197.53 L665.21 199.04 L666.11 196.20 L667.01 195.42 L667.91 199.54 L668.81 205.08 L669.71 205.98 L670.61 205.98 L671.51 211.82 L672.41 212.92 L673.31 214.25 L674.21 218.38" fill="none" stroke="#f0b848" stroke-width="1.0" stroke-linejoin="round" stroke-linecap="round" />
<path d="M566.21 216.64 L567.11 216.73 L568.01 211.90 L568.91 214.38 L569.81 210.86 L570.71 208.03 L571.61 205.79 L572.51 203.21 L573.41 202.00 L574.31 201.09 L575.21 199.06 L576.11 197.78 L577.01 194.05 L577.91 192.94 L578.81 194.81 L579.71 192.16 L580.61 191.26 L581.51 187.93 L582.41 183.29 L583.31 183.63 L584.21 180.79 L585.11 178.68 L586.01 176.90 L586.91 178.80 L587.81 180.51 L588.71 184.48 L589.61 186.28 L590.51 189.14 L591.41 186.97 L592.31 188.56 L593.21 189.01 L594.11 188.44 L595.01 189.36 L595.91 193.00 L596.81 193.18 L597.71 191.96 L598.61 191.24 L599.51 188.52 L600.41 187.61 L601.31 186.32 L602.21 190.46 L603.11 195.86 L604.01 197.85 L604.91 201.63 L605.81 201.25 L606.71 202.98 L607.61 202.36 L608.51 204.26 L609.41 205.10 L610.31 205.57 L611.21 206.32 L612.11 209.02 L613.01 210.27 L613.91 208.83 L614.81 212.94 L615.71 210.82 L616.61 212.16 L617.51 212.31 L618.41 211.91 L619.31 210.23 L620.21 210.92 L621.11 212.58 L622.01 212.30 L622.91 212.13 L623.81 212.41 L624.71 210.94 L625.61 207.77 L626.51 205.59 L627.41 202.98 L628.31 199.75 L629.21 197.11 L630.11 194.38 L631.01 194.47 L631.91 192.06 L632.81 190.32 L633.71 188.82 L634.61 187.21 L635.51 186.21 L636.41 182.44 L637.31 180.53 L638.21 179.48 L639.11 176.63 L640.01 177.09 L640.91 174.22 L641.81 175.18 L642.71 178.55 L643.61 182.41 L644.51 184.64 L645.41 185.83 L646.31 187.45 L647.21 187.85 L648.11 190.97 L649.01 188.60 L649.91 186.85 L650.81 188.02 L651.71 188.10 L652.61 188.95 L653.51 192.96 L654.41 195.13 L655.31 198.76 L656.21 197.23 L657.11 199.41 L658.01 198.98 L658.91 199.32 L659.81 195.14 L660.71 191.98 L661.61 192.78 L662.51 194.74 L663.41 197.34 L664.31 200.53 L665.21 199.23 L666.11 196.25 L667.01 197.91 L667.91 199.85 L668.81 203.37 L669.71 205.87 L670.61 208.23 L671.51 207.28 L672.41 209.46 L673.31 213.06 L674.21 215.68" fill="none" stroke="#f07090" stroke-width="1.0" stroke-linejoin="round" stroke-linecap="round" />
<path d="M566.21 219.04 L567.11 217.77 L568.01 216.04 L568.91 215.30 L569.81 216.27 L570.71 209.05 L571.61 209.93 L572.51 207.41 L573.41 202.13 L574.31 198.88 L575.21 198.32 L576.11 197.66 L577.01 197.55 L577.91 194.01 L578.81 192.99 L579.71 187.28 L580.61 183.69 L581.51 179.44 L582.41 177.41 L583.31 175.69 L584.21 173.74 L585.11 169.29 L586.01 171.64 L586.91 171.57 L587.81 173.24 L588.71 176.78 L589.61 184.45 L590.51 183.33 L591.41 182.29 L592.31 182.49 L593.21 187.23 L594.11 184.84 L595.01 189.16 L595.91 191.14 L596.81 186.46 L597.71 191.36 L598.61 187.25 L599.51 183.90 L600.41 182.20 L601.31 183.37 L602.21 187.40 L603.11 193.45 L604.01 196.27 L604.91 202.54 L605.81 205.11 L606.71 206.80 L607.61 206.30 L608.51 208.31 L609.41 209.45 L610.31 208.39 L611.21 209.75 L612.11 210.53 L613.01 212.01 L613.91 214.41 L614.81 212.51 L615.71 215.99 L616.61 217.54 L617.51 213.03 L618.41 213.10 L619.31 217.10 L620.21 213.57 L621.11 215.49 L622.01 217.50 L622.91 215.93 L623.81 213.82 L624.71 212.02 L625.61 209.40 L626.51 206.18 L627.41 203.94 L628.31 202.45 L629.21 197.16 L630.11 196.24 L631.01 192.58 L631.91 190.60 L632.81 188.01 L633.71 184.22 L634.61 182.69 L635.51 179.89 L636.41 175.27 L637.31 175.71 L638.21 173.20 L639.11 170.65 L640.01 166.79 L640.91 160.40 L641.81 168.14 L642.71 171.47 L643.61 172.15 L644.51 178.89 L645.41 179.23 L646.31 184.57 L647.21 185.97 L648.11 188.11 L649.01 185.52 L649.91 184.00 L650.81 182.82 L651.71 185.36 L652.61 185.23 L653.51 192.33 L654.41 194.70 L655.31 195.80 L656.21 198.80 L657.11 198.81 L658.01 198.64 L658.91 198.15 L659.81 193.84 L660.71 194.50 L661.61 193.60 L662.51 193.34 L663.41 197.36 L664.31 197.77 L665.21 199.15 L666.11 199.64 L667.01 195.70 L667.91 199.32 L668.81 204.44 L669.71 208.31 L670.61 207.79 L671.51 210.26 L672.41 211.03 L673.31 215.46 L674.21 218.95" fill="none" stroke="#d040f0" stroke-width="1.0" stroke-linejoin="round" stroke-linecap="round" />
<path d="M566.21 223.30 L567.11 221.13 L568.01 219.02 L568.91 213.54 L569.81 215.70 L570.71 208.82 L571.61 210.58 L572.51 206.94 L573.41 204.30 L574.31 201.43 L575.21 198.13 L576.11 194.93 L577.01 193.69 L577.91 194.86 L578.81 189.34 L579.71 187.13 L580.61 183.22 L581.51 180.41 L582.41 177.72 L583.31 175.57 L584.21 171.75 L585.11 169.35 L586.01 168.04 L586.91 170.55 L587.81 170.86 L588.71 177.02 L589.61 182.70 L590.51 181.13 L591.41 182.87 L592.31 187.75 L593.21 182.24 L594.11 182.53 L595.01 186.20 L595.91 191.48 L596.81 192.84 L597.71 186.99 L598.61 187.99 L599.51 184.94 L600.41 181.35 L601.31 178.66 L602.21 187.96 L603.11 191.23 L604.01 197.86 L604.91 200.95 L605.81 206.17 L606.71 206.32 L607.61 203.37 L608.51 205.50 L609.41 208.47 L610.31 205.76 L611.21 208.42 L612.11 210.70 L613.01 209.36 L613.91 212.00 L614.81 213.31 L615.71 217.97 L616.61 216.96 L617.51 218.70 L618.41 216.41 L619.31 216.58 L620.21 215.99 L621.11 218.41 L622.01 217.84 L622.91 216.11 L623.81 217.96 L624.71 215.20 L625.61 214.37 L626.51 207.37 L627.41 203.10 L628.31 197.89 L629.21 190.44 L630.11 191.55 L631.01 191.97 L631.91 187.54 L632.81 182.47 L633.71 185.00 L634.61 180.34 L635.51 177.95 L636.41 175.20 L637.31 173.21 L638.21 171.80 L639.11 165.91 L640.01 165.73 L640.91 161.82 L641.81 166.14 L642.71 168.59 L643.61 176.92 L644.51 177.90 L645.41 182.01 L646.31 181.72 L647.21 186.85 L648.11 186.45 L649.01 182.17 L649.91 182.46 L650.81 181.13 L651.71 181.27 L652.61 185.44 L653.51 187.93 L654.41 192.75 L655.31 197.16 L656.21 197.66 L657.11 197.12 L658.01 200.32 L658.91 196.15 L659.81 194.80 L660.71 192.83 L661.61 191.08 L662.51 193.11 L663.41 194.07 L664.31 197.99 L665.21 195.87 L666.11 193.26 L667.01 194.98 L667.91 202.72 L668.81 205.13 L669.71 211.08 L670.61 210.06 L671.51 212.08 L672.41 213.62 L673.31 218.06 L674.21 224.60" fill="none" stroke="#5a18f8" stroke-width="1.0" stroke-linejoin="round" stroke-linecap="round" />
<path d="M566.21 227.17 L567.11 223.38 L568.01 218.57 L568.91 218.51 L569.81 215.79 L570.71 213.00 L571.61 211.31 L572.51 204.15 L573.41 205.40 L574.31 198.11 L575.21 197.35 L576.11 197.48 L577.01 195.30 L577.91 190.72 L578.81 193.29 L579.71 187.48 L580.61 181.47 L581.51 180.08 L582.41 175.06 L583.31 174.29 L584.21 167.57 L585.11 168.73 L586.01 163.26 L586.91 170.48 L587.81 171.65 L588.71 178.06 L589.61 177.89 L590.51 177.01 L591.41 179.09 L592.31 181.67 L593.21 186.72 L594.11 185.33 L595.01 188.71 L595.91 186.18 L596.81 187.95 L597.71 187.64 L598.61 188.64 L599.51 182.86 L600.41 180.55 L601.31 183.82 L602.21 183.73 L603.11 192.20 L604.01 194.74 L604.91 200.67 L605.81 205.34 L606.71 207.43 L607.61 203.11 L608.51 201.60 L609.41 208.69 L610.31 212.11 L611.21 208.62 L612.11 211.95 L613.01 213.21 L613.91 211.03 L614.81 212.24 L615.71 219.04 L616.61 220.52 L617.51 215.81 L618.41 217.13 L619.31 215.59 L620.21 215.74 L621.11 216.26 L622.01 222.04 L622.91 219.38 L623.81 217.15 L624.71 214.00 L625.61 212.62 L626.51 207.43 L627.41 204.90 L628.31 198.91 L629.21 197.27 L630.11 192.73 L631.01 191.82 L631.91 185.13 L632.81 184.14 L633.71 180.44 L634.61 183.09 L635.51 175.73 L636.41 173.97 L637.31 167.98 L638.21 166.94 L639.11 162.87 L640.01 163.25 L640.91 157.79 L641.81 164.60 L642.71 166.16 L643.61 174.31 L644.51 174.85 L645.41 178.84 L646.31 179.68 L647.21 184.35 L648.11 184.46 L649.01 181.79 L649.91 182.67 L650.81 177.46 L651.71 181.14 L652.61 185.24 L653.51 189.68 L654.41 190.72 L655.31 197.73 L656.21 197.06 L657.11 198.43 L658.01 196.66 L658.91 195.76 L659.81 195.14 L660.71 198.52 L661.61 186.05 L662.51 193.41 L663.41 196.35 L664.31 200.79 L665.21 198.63 L666.11 196.57 L667.01 198.93 L667.91 199.96 L668.81 205.71 L669.71 208.75 L670.61 211.12 L671.51 215.95 L672.41 214.08 L673.31 222.04 L674.21 218.99" fill="none" stroke="#2a10d8" stroke-width="1.0" stroke-linejoin="round" stroke-linecap="round" />
<path d="M68.60 314.80V412.20H231.30" fill="none" stroke="#262626" stroke-width="1.25" stroke-linecap="square"/>
<path d="M75.80 349.81 L79.38 343.29 L82.59 341.12 L85.67 337.20 L90.61 331.98 L94.93 326.76 L98.32 322.85 L101.72 321.54 L106.04 319.80 L114.06 320.24 L122.08 322.85 L129.79 326.76 L136.27 334.59 L139.98 340.68 L144.30 343.29 L149.23 352.86 L153.55 362.43 L158.49 373.31 L163.43 382.44 L166.51 388.10 L170.83 390.27 L173.30 398.10 L177.62 398.10 L181.94 403.93 L188.42 401.49 L194.90 400.01 L196.13 400.28 L198.60 394.01 L202.30 393.14 L205.39 381.57 L207.24 381.57 L210.32 366.78 L214.03 358.95 L217.73 361.56 L220.20 352.43 L223.90 349.38 L223.90 387.66 L217.73 393.75 L212.18 398.54 L203.54 405.06 L199.22 405.93 L194.90 406.80 L181.94 406.19 L174.53 403.93 L167.75 400.01 L163.43 393.75 L158.49 385.92 L153.55 376.35 L149.23 367.22 L144.30 357.65 L139.98 349.81 L136.27 342.42 L129.79 332.85 L122.08 327.63 L114.06 324.59 L109.12 325.46 L106.04 324.15 L102.95 332.85 L99.87 335.46 L96.78 334.59 L93.70 343.29 L90.61 351.12 L85.67 362.43 L80.98 373.31 L75.80 383.31 L75.80 349.81" fill="#f2626a" stroke="#f2626a" stroke-width="0.7" stroke-linejoin="round" />
<path d="M75.80 350.25 L80.98 375.05 L85.67 385.92 L91.84 397.23 L97.40 406.80 L101.72 403.32 L107.89 399.41 L112.52 400.71 L116.53 390.71 L122.08 389.40 L128.25 384.18 L132.88 384.18 L136.27 378.09 L139.98 367.22 L143.06 367.22 L146.15 364.17 L149.23 352.86 L153.55 341.55 L158.49 329.37 L164.04 326.76 L166.51 324.59 L170.83 319.80 L177.62 320.67 L183.79 322.85 L188.42 321.98 L194.90 324.59 L196.13 322.85 L199.22 325.02 L205.39 327.63 L208.47 326.76 L211.56 329.37 L214.64 330.68 L217.73 335.46 L223.90 339.38 L223.90 342.42 L217.73 338.07 L214.64 333.72 L211.56 331.98 L208.47 329.37 L205.39 329.81 L199.22 326.76 L196.13 324.15 L194.90 325.89 L188.42 323.28 L183.79 324.15 L177.62 321.98 L170.83 321.11 L166.51 325.89 L164.04 328.06 L158.49 330.68 L153.55 342.86 L149.23 354.17 L146.15 365.48 L143.06 368.52 L139.98 368.52 L136.27 381.13 L132.88 387.66 L128.25 387.66 L122.08 392.01 L116.53 392.88 L112.52 402.01 L107.89 400.71 L101.72 404.45 L97.40 407.67 L91.84 398.54 L85.67 387.23 L80.98 376.35 L75.80 351.99 L75.80 350.25" fill="#72f060" stroke="#72f060" stroke-width="0.7" stroke-linejoin="round" />
<line x1="67.30" y1="319.80" x2="68.60" y2="319.80" stroke="#262626" stroke-width="0.9" />
<text x="51.21" y="323.25" font-size="9.87" textLength="14.95" lengthAdjust="spacingAndGlyphs">1.0</text>
<line x1="67.30" y1="363.30" x2="68.60" y2="363.30" stroke="#262626" stroke-width="0.9" />
<text x="51.21" y="366.75" font-size="9.87" textLength="14.95" lengthAdjust="spacingAndGlyphs">0.5</text>
<line x1="67.30" y1="406.80" x2="68.60" y2="406.80" stroke="#262626" stroke-width="0.9" />
<text x="51.21" y="410.25" font-size="9.87" textLength="14.95" lengthAdjust="spacingAndGlyphs">0.0</text>
<line x1="75.80" y1="412.20" x2="75.80" y2="413.50" stroke="#262626" stroke-width="0.9" />
<text x="72.81" y="422.10" font-size="9.87" textLength="5.98" lengthAdjust="spacingAndGlyphs">0</text>
<line x1="112.83" y1="412.20" x2="112.83" y2="413.50" stroke="#262626" stroke-width="0.9" />
<text x="109.83" y="422.10" font-size="9.87" textLength="5.98" lengthAdjust="spacingAndGlyphs">6</text>
<line x1="149.85" y1="412.20" x2="149.85" y2="413.50" stroke="#262626" stroke-width="0.9" />
<text x="143.87" y="422.10" font-size="9.87" textLength="11.96" lengthAdjust="spacingAndGlyphs">12</text>
<line x1="186.88" y1="412.20" x2="186.88" y2="413.50" stroke="#262626" stroke-width="0.9" />
<text x="180.89" y="422.10" font-size="9.87" textLength="11.96" lengthAdjust="spacingAndGlyphs">18</text>
<line x1="223.90" y1="412.20" x2="223.90" y2="413.50" stroke="#262626" stroke-width="0.9" />
<text x="217.92" y="422.10" font-size="9.87" textLength="11.96" lengthAdjust="spacingAndGlyphs">24</text>
<text x="122.96" y="432.70" font-size="11.39" textLength="52.67" lengthAdjust="spacingAndGlyphs">Time (CT)</text>
<text x="5.34" y="365.40" font-size="11.76" textLength="63.51" lengthAdjust="spacingAndGlyphs" transform="rotate(-90 37.10 365.40)">Normalized</text>
<text x="-4.89" y="361.50" font-size="11.76" textLength="106.37" lengthAdjust="spacingAndGlyphs" transform="rotate(-90 48.30 361.50)">fluorescence (A.U.)</text>
<path d="M68.60 497.00V594.10H231.30" fill="none" stroke="#262626" stroke-width="1.25" stroke-linecap="square"/>
<path d="M75.80 536.51 L79.38 531.28 L84.19 525.17 L88.76 517.32 L93.70 510.35 L99.87 505.99 L106.04 502.50 L112.21 502.50 L119.00 502.50 L125.17 505.99 L131.34 512.09 L137.51 519.94 L139.98 522.56 L143.68 528.66 L147.38 538.25 L150.78 546.97 L154.17 555.69 L157.87 563.54 L161.57 570.52 L163.43 577.75 L165.89 581.33 L170.83 584.29 L175.15 585.43 L180.09 587.17 L183.48 587.17 L186.26 583.07 L189.34 584.90 L193.05 580.72 L196.50 577.23 L201.07 576.01 L204.77 571.91 L209.09 563.63 L211.56 561.88 L215.26 554.21 L218.96 545.93 L223.90 538.34 L223.90 574.27 L220.20 580.11 L215.26 584.90 L210.94 586.56 L203.54 587.78 L195.51 589.70 L186.88 589.61 L180.09 589.00 L170.83 589.00 L165.28 587.78 L162.19 583.60 L160.34 579.24 L157.87 573.13 L154.17 568.34 L150.78 560.05 L147.38 550.46 L143.68 540.00 L139.98 532.15 L136.27 522.56 L129.79 512.96 L123.32 506.86 L117.14 503.37 L112.21 504.24 L109.12 507.73 L104.80 513.84 L99.87 519.94 L93.70 533.02 L88.76 543.48 L84.19 554.82 L79.38 564.41 L75.80 573.13 L75.80 536.51" fill="#f2626a" stroke="#f2626a" stroke-width="0.7" stroke-linejoin="round" />
<path d="M75.80 537.38 L79.38 550.02 L82.59 557.87 L85.67 566.16 L90.61 568.77 L94.93 574.88 L99.87 580.98 L102.95 583.94 L106.04 583.07 L109.12 585.51 L115.60 582.29 L122.08 570.52 L125.17 572.26 L132.88 560.92 L139.98 554.82 L143.68 548.72 L146.76 541.74 L149.85 533.02 L154.17 519.94 L157.87 511.22 L160.96 503.81 L165.89 507.30 L168.36 502.50 L174.53 505.55 L181.94 508.17 L186.88 505.55 L189.96 512.53 L196.13 512.96 L201.07 512.09 L205.39 508.60 L211.56 511.22 L215.88 511.22 L219.58 512.53 L223.90 515.58 L223.90 522.56 L219.58 519.94 L215.88 518.63 L209.09 516.45 L205.39 516.02 L201.07 516.45 L196.13 516.45 L189.96 515.14 L186.88 507.73 L181.94 509.91 L174.53 507.30 L168.36 504.24 L165.89 508.60 L160.96 505.12 L157.87 512.53 L154.17 521.25 L149.85 534.33 L146.76 543.05 L143.68 550.46 L139.98 558.31 L132.88 566.16 L125.17 575.75 L122.08 574.88 L112.21 586.21 L107.89 586.21 L102.95 589.09 L99.87 587.96 L94.93 580.98 L88.76 578.36 L84.19 574.00 L79.38 556.56 L75.80 540.87 L75.80 537.38" fill="#6ad4bc" stroke="#6ad4bc" stroke-width="0.7" stroke-linejoin="round" />
<line x1="67.30" y1="502.50" x2="68.60" y2="502.50" stroke="#262626" stroke-width="0.9" />
<text x="51.21" y="505.95" font-size="9.87" textLength="14.95" lengthAdjust="spacingAndGlyphs">1.0</text>
<line x1="67.30" y1="546.10" x2="68.60" y2="546.10" stroke="#262626" stroke-width="0.9" />
<text x="51.21" y="549.55" font-size="9.87" textLength="14.95" lengthAdjust="spacingAndGlyphs">0.5</text>
<line x1="67.30" y1="589.70" x2="68.60" y2="589.70" stroke="#262626" stroke-width="0.9" />
<text x="51.21" y="593.15" font-size="9.87" textLength="14.95" lengthAdjust="spacingAndGlyphs">0.0</text>
<line x1="75.80" y1="594.10" x2="75.80" y2="595.40" stroke="#262626" stroke-width="0.9" />
<text x="72.81" y="604.00" font-size="9.87" textLength="5.98" lengthAdjust="spacingAndGlyphs">0</text>
<line x1="112.83" y1="594.10" x2="112.83" y2="595.40" stroke="#262626" stroke-width="0.9" />
<text x="109.83" y="604.00" font-size="9.87" textLength="5.98" lengthAdjust="spacingAndGlyphs">6</text>
<line x1="149.85" y1="594.10" x2="149.85" y2="595.40" stroke="#262626" stroke-width="0.9" />
<text x="143.87" y="604.00" font-size="9.87" textLength="11.96" lengthAdjust="spacingAndGlyphs">12</text>
<line x1="186.88" y1="594.10" x2="186.88" y2="595.40" stroke="#262626" stroke-width="0.9" />
<text x="180.89" y="604.00" font-size="9.87" textLength="11.96" lengthAdjust="spacingAndGlyphs">18</text>
<line x1="223.90" y1="594.10" x2="223.90" y2="595.40" stroke="#262626" stroke-width="0.9" />
<text x="217.92" y="604.00" font-size="9.87" textLength="11.96" lengthAdjust="spacingAndGlyphs">24</text>
<text x="122.96" y="614.60" font-size="11.39" textLength="52.67" lengthAdjust="spacingAndGlyphs">Time (CT)</text>
<text x="5.34" y="547.40" font-size="11.76" textLength="63.51" lengthAdjust="spacingAndGlyphs" transform="rotate(-90 37.10 547.40)">Normalized</text>
<text x="-4.89" y="543.50" font-size="11.76" textLength="106.37" lengthAdjust="spacingAndGlyphs" transform="rotate(-90 48.30 543.50)">fluorescence (A.U.)</text>
<rect x="102.90" y="274.30" width="156.10" height="33.00" rx="2.5" fill="#fff" fill-opacity="0.8" stroke="#d6d6d6" stroke-width="0.8"/>
<rect x="106" y="279.1" width="21" height="7.7" fill="#f2626a"/>
<rect x="106" y="294.1" width="21" height="7.7" fill="#72f060"/>
<text x="134.20" y="287.00" font-size="10.61" textLength="72.42" lengthAdjust="spacingAndGlyphs">Syn-jRCaMP1a</text>
<text x="134.20" y="301.80" font-size="10.61" textLength="120.21" lengthAdjust="spacingAndGlyphs">GfaABC1D-lck-GCaMP6f</text>
<rect x="120.70" y="459.80" width="138.60" height="32.50" rx="2.5" fill="#fff" fill-opacity="0.8" stroke="#d6d6d6" stroke-width="0.8"/>
<rect x="125.1" y="464.2" width="20.5" height="7.3" fill="#f2626a"/>
<rect x="125.1" y="479.1" width="20.5" height="7.0" fill="#6ad4bc"/>
<text x="153.00" y="472.40" font-size="10.61" textLength="72.42" lengthAdjust="spacingAndGlyphs">Syn-jRCaMP1a</text>
<text x="153.00" y="487.20" font-size="10.61" textLength="101.61" lengthAdjust="spacingAndGlyphs">GfaABC1D-iGluSnFR</text>
<line x1="382.00" y1="316.03" x2="412.90" y2="408.60" stroke="#000" stroke-width="1.0" />
<line x1="382.00" y1="333.79" x2="412.90" y2="407.33" stroke="#000" stroke-width="1.0" />
<line x1="382.00" y1="340.76" x2="412.90" y2="406.06" stroke="#000" stroke-width="1.0" />
<line x1="382.00" y1="368.66" x2="412.90" y2="407.96" stroke="#000" stroke-width="1.0" />
<line x1="382.00" y1="383.24" x2="412.90" y2="400.99" stroke="#000" stroke-width="1.0" />
<line x1="382.00" y1="383.87" x2="412.90" y2="404.16" stroke="#000" stroke-width="1.0" />
<line x1="382.00" y1="393.38" x2="412.90" y2="399.09" stroke="#000" stroke-width="1.0" />
<line x1="382.00" y1="395.92" x2="412.90" y2="402.89" stroke="#000" stroke-width="1.0" />
<line x1="382.00" y1="399.72" x2="412.90" y2="409.23" stroke="#000" stroke-width="1.0" />
<line x1="382.00" y1="405.43" x2="412.90" y2="409.87" stroke="#000" stroke-width="1.0" />
<line x1="382.00" y1="407.33" x2="412.90" y2="407.96" stroke="#000" stroke-width="1.0" />
<line x1="382.00" y1="408.60" x2="412.90" y2="406.06" stroke="#000" stroke-width="1.0" />
<line x1="382.00" y1="409.87" x2="412.90" y2="409.23" stroke="#000" stroke-width="1.0" />
<circle cx="382.0" cy="316.03" r="2.5" fill="#f52a22"/>
<circle cx="382.0" cy="333.79" r="2.5" fill="#f52a22"/>
<circle cx="382.0" cy="340.76" r="2.5" fill="#f52a22"/>
<circle cx="382.0" cy="368.66" r="2.5" fill="#f52a22"/>
<circle cx="382.0" cy="383.24" r="2.5" fill="#f52a22"/>
<circle cx="382.0" cy="383.87" r="2.5" fill="#f52a22"/>
<circle cx="382.0" cy="393.38" r="2.5" fill="#f52a22"/>
<circle cx="382.0" cy="395.92" r="2.5" fill="#f52a22"/>
<circle cx="382.0" cy="399.72" r="2.5" fill="#f52a22"/>
<circle cx="382.0" cy="405.43" r="2.5" fill="#f52a22"/>
<circle cx="382.0" cy="407.33" r="2.5" fill="#f52a22"/>
<circle cx="382.0" cy="408.60" r="2.5" fill="#f52a22"/>
<circle cx="382.0" cy="409.87" r="2.5" fill="#f52a22"/>
<circle cx="412.9" cy="408.60" r="2.5" fill="#48e23a"/>
<circle cx="412.9" cy="407.33" r="2.5" fill="#48e23a"/>
<circle cx="412.9" cy="406.06" r="2.5" fill="#48e23a"/>
<circle cx="412.9" cy="407.96" r="2.5" fill="#48e23a"/>
<circle cx="412.9" cy="400.99" r="2.5" fill="#48e23a"/>
<circle cx="412.9" cy="404.16" r="2.5" fill="#48e23a"/>
<circle cx="412.9" cy="399.09" r="2.5" fill="#48e23a"/>
<circle cx="412.9" cy="402.89" r="2.5" fill="#48e23a"/>
<circle cx="412.9" cy="409.23" r="2.5" fill="#48e23a"/>
<circle cx="412.9" cy="409.87" r="2.5" fill="#48e23a"/>
<circle cx="412.9" cy="407.96" r="2.5" fill="#48e23a"/>
<circle cx="412.9" cy="406.06" r="2.5" fill="#48e23a"/>
<circle cx="412.9" cy="409.23" r="2.5" fill="#48e23a"/>
<path d="M362.0 302.0V410.5H433.9" fill="none" stroke="#111" stroke-width="1.3"/>
<line x1="357.70" y1="410.50" x2="362.00" y2="410.50" stroke="#111" stroke-width="1.2" />
<text x="356.20" y="414.20" font-size="10.40" text-anchor="end">0.00</text>
<line x1="357.70" y1="378.80" x2="362.00" y2="378.80" stroke="#111" stroke-width="1.2" />
<text x="356.20" y="382.50" font-size="10.40" text-anchor="end">0.05</text>
<line x1="357.70" y1="347.10" x2="362.00" y2="347.10" stroke="#111" stroke-width="1.2" />
<text x="356.20" y="350.80" font-size="10.40" text-anchor="end">0.10</text>
<line x1="357.70" y1="315.40" x2="362.00" y2="315.40" stroke="#111" stroke-width="1.2" />
<text x="356.20" y="319.10" font-size="10.40" text-anchor="end">0.15</text>
<line x1="382.00" y1="410.50" x2="382.00" y2="414.80" stroke="#111" stroke-width="1.2" />
<line x1="412.90" y1="410.50" x2="412.90" y2="414.80" stroke="#111" stroke-width="1.2" />
<path d="M382.0 309.5V303.3H412.9V397.0" fill="none" stroke="#111" stroke-width="1.2"/>
<text x="397.45" y="303.00" font-size="18" text-anchor="middle" stroke="#000" stroke-width="0.5">*</text>
<text x="385.00" y="425.50" font-size="11.50" text-anchor="end" transform="rotate(-30 385.00 425.50)">Syn</text>
<text x="415.90" y="425.50" font-size="11.50" text-anchor="end" transform="rotate(-30 415.90 425.50)">GfaABC1D</text>
<text x="316.80" y="354.50" font-size="12.20" text-anchor="middle" transform="rotate(-90 316.80 354.50)">Circular variance</text>
<text x="330.20" y="354.50" font-size="12.20" text-anchor="middle" transform="rotate(-90 330.20 354.50)">of cluster phases</text>
<line x1="379.30" y1="541.66" x2="410.60" y2="591.42" stroke="#000" stroke-width="1.0" />
<line x1="379.30" y1="573.56" x2="410.60" y2="588.87" stroke="#000" stroke-width="1.0" />
<line x1="379.30" y1="574.20" x2="410.60" y2="587.60" stroke="#000" stroke-width="1.0" />
<line x1="379.30" y1="582.49" x2="410.60" y2="590.15" stroke="#000" stroke-width="1.0" />
<line x1="379.30" y1="583.77" x2="410.60" y2="586.32" stroke="#000" stroke-width="1.0" />
<line x1="379.30" y1="585.04" x2="410.60" y2="590.79" stroke="#000" stroke-width="1.0" />
<line x1="379.30" y1="585.68" x2="410.60" y2="586.96" stroke="#000" stroke-width="1.0" />
<line x1="379.30" y1="586.00" x2="410.60" y2="592.06" stroke="#000" stroke-width="1.0" />
<circle cx="379.3" cy="541.66" r="2.5" fill="#f52a22"/>
<circle cx="379.3" cy="573.56" r="2.5" fill="#f52a22"/>
<circle cx="379.3" cy="574.20" r="2.5" fill="#f52a22"/>
<circle cx="379.3" cy="582.49" r="2.5" fill="#f52a22"/>
<circle cx="379.3" cy="583.77" r="2.5" fill="#f52a22"/>
<circle cx="379.3" cy="585.04" r="2.5" fill="#f52a22"/>
<circle cx="379.3" cy="585.68" r="2.5" fill="#f52a22"/>
<circle cx="379.3" cy="586.00" r="2.5" fill="#f52a22"/>
<circle cx="410.6" cy="591.42" r="2.5" fill="#3a8c9e"/>
<circle cx="410.6" cy="588.87" r="2.5" fill="#3a8c9e"/>
<circle cx="410.6" cy="587.60" r="2.5" fill="#3a8c9e"/>
<circle cx="410.6" cy="590.15" r="2.5" fill="#3a8c9e"/>
<circle cx="410.6" cy="586.32" r="2.5" fill="#3a8c9e"/>
<circle cx="410.6" cy="590.79" r="2.5" fill="#3a8c9e"/>
<circle cx="410.6" cy="586.96" r="2.5" fill="#3a8c9e"/>
<circle cx="410.6" cy="592.06" r="2.5" fill="#3a8c9e"/>
<path d="M358.8 484.4V592.7H431.4" fill="none" stroke="#111" stroke-width="1.3"/>
<line x1="354.50" y1="592.70" x2="358.80" y2="592.70" stroke="#111" stroke-width="1.2" />
<text x="353.00" y="596.40" font-size="10.40" text-anchor="end">0.00</text>
<line x1="354.50" y1="560.80" x2="358.80" y2="560.80" stroke="#111" stroke-width="1.2" />
<text x="353.00" y="564.50" font-size="10.40" text-anchor="end">0.05</text>
<line x1="354.50" y1="528.90" x2="358.80" y2="528.90" stroke="#111" stroke-width="1.2" />
<text x="353.00" y="532.60" font-size="10.40" text-anchor="end">0.10</text>
<line x1="354.50" y1="497.00" x2="358.80" y2="497.00" stroke="#111" stroke-width="1.2" />
<text x="353.00" y="500.70" font-size="10.40" text-anchor="end">0.15</text>
<line x1="379.30" y1="592.70" x2="379.30" y2="597.00" stroke="#111" stroke-width="1.2" />
<line x1="410.60" y1="592.70" x2="410.60" y2="597.00" stroke="#111" stroke-width="1.2" />
<path d="M379.3 535.3V529.0H410.6V580.5" fill="none" stroke="#111" stroke-width="1.2"/>
<text x="394.95" y="528.50" font-size="18" text-anchor="middle" stroke="#000" stroke-width="0.5">*</text>
<text x="382.30" y="607.70" font-size="11.50" text-anchor="end" transform="rotate(-30 382.30 607.70)">Syn</text>
<text x="413.60" y="607.70" font-size="11.50" text-anchor="end" transform="rotate(-30 413.60 607.70)">GfaABC1D</text>
<text x="313.90" y="538.30" font-size="12.20" text-anchor="middle" transform="rotate(-90 313.90 538.30)">Circular variance</text>
<text x="327.30" y="538.30" font-size="12.20" text-anchor="middle" transform="rotate(-90 327.30 538.30)">of cluster phases</text>
<path d="M507.30 406.80 L507.30 394.85 L512.70 392.38 L518.10 389.91 L523.50 388.05 L528.90 387.02 L534.30 386.61 L539.70 387.02 L545.10 388.67 L550.50 391.14 L555.90 394.03 L561.30 396.71 L566.70 399.38 L572.10 401.65 L577.50 403.50 L582.90 404.74 L588.30 405.67 L593.70 406.18 L599.10 406.49 L604.50 406.66 L609.90 406.74 L609.90 406.80" fill="rgb(240,120,128)" stroke="none" stroke-width="1" stroke-linejoin="round" />
<path d="M507.30 394.85 L512.70 392.38 L518.10 389.91 L523.50 388.05 L528.90 387.02 L534.30 386.61 L539.70 387.02 L545.10 388.67 L550.50 391.14 L555.90 394.03 L561.30 396.71 L566.70 399.38 L572.10 401.65 L577.50 403.50 L582.90 404.74 L588.30 405.67 L593.70 406.18 L599.10 406.49 L604.50 406.66 L609.90 406.74" fill="none" stroke="#f0424c" stroke-width="0.9" stroke-linejoin="round" stroke-linecap="round" />
<path d="M507.30 406.80 L507.30 309.98 L512.70 280.11 L515.40 334.70 L518.10 390.32 L520.80 405.77 L523.50 406.80 L523.50 406.80" fill="rgba(0,230,0,0.4)" stroke="none" stroke-width="1" stroke-linejoin="round" />
<path d="M507.30 309.98 L512.70 280.11 L515.40 334.70 L518.10 390.32 L520.80 405.77 L523.50 406.80 L609.90 406.80" fill="none" stroke="#6ee060" stroke-width="0.9" stroke-linejoin="round" stroke-linecap="round" />
<path d="M502.70 274.60V412.30H614.30" fill="none" stroke="#262626" stroke-width="1.25" stroke-linecap="square"/>
<line x1="500.20" y1="406.80" x2="502.70" y2="406.80" stroke="#262626" stroke-width="0.9" />
<text x="491.72" y="410.55" font-size="10.71" textLength="6.49" lengthAdjust="spacingAndGlyphs">0</text>
<line x1="500.20" y1="365.60" x2="502.70" y2="365.60" stroke="#262626" stroke-width="0.9" />
<text x="485.23" y="369.35" font-size="10.71" textLength="12.98" lengthAdjust="spacingAndGlyphs">20</text>
<line x1="500.20" y1="324.40" x2="502.70" y2="324.40" stroke="#262626" stroke-width="0.9" />
<text x="485.23" y="328.15" font-size="10.71" textLength="12.98" lengthAdjust="spacingAndGlyphs">40</text>
<line x1="500.20" y1="283.20" x2="502.70" y2="283.20" stroke="#262626" stroke-width="0.9" />
<text x="485.23" y="286.95" font-size="10.71" textLength="12.98" lengthAdjust="spacingAndGlyphs">60</text>
<line x1="507.30" y1="412.30" x2="507.30" y2="414.30" stroke="#262626" stroke-width="0.9" />
<text x="499.19" y="425.20" font-size="10.71" textLength="16.22" lengthAdjust="spacingAndGlyphs">0.0</text>
<line x1="561.30" y1="412.30" x2="561.30" y2="414.30" stroke="#262626" stroke-width="0.9" />
<text x="553.19" y="425.20" font-size="10.71" textLength="16.22" lengthAdjust="spacingAndGlyphs">0.1</text>
<text x="488.12" y="438.40" font-size="10.92" textLength="141.57" lengthAdjust="spacingAndGlyphs">Circular variance of phases</text>
<text x="434.74" y="343.50" font-size="11.13" textLength="88.33" lengthAdjust="spacingAndGlyphs" transform="rotate(-90 478.90 343.50)">Probability (PDF)</text>
<rect x="528.40" y="274.60" width="154.70" height="33.10" rx="2.5" fill="#fff" fill-opacity="0.8" stroke="#d6d6d6" stroke-width="0.8"/>
<line x1="532.50" y1="283.40" x2="552.90" y2="283.40" stroke="#f07078" stroke-width="1.4" />
<line x1="532.50" y1="297.50" x2="552.90" y2="297.50" stroke="#6ee060" stroke-width="1.4" />
<text x="560.60" y="287.00" font-size="10.50" textLength="71.70" lengthAdjust="spacingAndGlyphs">Syn-jRCaMP1a</text>
<text x="560.60" y="301.10" font-size="10.50" textLength="119.02" lengthAdjust="spacingAndGlyphs">GfaABC1D-lck-GCaMP6f</text>
<text x="536.40" y="362.00" font-size="18" text-anchor="middle" stroke="#000" stroke-width="0.55">**</text>
<path d="M508.60 589.80 L508.60 571.00 L514.58 561.60 L520.56 554.08 L526.54 552.95 L532.52 558.78 L538.50 568.18 L544.48 577.58 L550.46 583.78 L556.44 587.36 L562.42 588.86 L568.40 589.52 L574.38 589.71 L580.36 589.76 L586.34 589.78 L592.32 589.80 L598.30 589.80 L604.28 589.80 L610.26 589.80 L616.24 589.80 L622.22 589.80 L622.22 589.80" fill="rgb(240,120,128)" stroke="none" stroke-width="1" stroke-linejoin="round" />
<path d="M508.60 571.00 L514.58 561.60 L520.56 554.08 L526.54 552.95 L532.52 558.78 L538.50 568.18 L544.48 577.58 L550.46 583.78 L556.44 587.36 L562.42 588.86 L568.40 589.52 L574.38 589.71 L580.36 589.76 L586.34 589.78 L592.32 589.80 L598.30 589.80 L604.28 589.80 L610.26 589.80 L616.24 589.80 L622.22 589.80" fill="none" stroke="#f0424c" stroke-width="0.9" stroke-linejoin="round" stroke-linecap="round" />
<path d="M508.60 589.80 L508.60 529.64 L514.58 463.84 L517.57 518.36 L520.56 574.76 L521.76 589.80 L521.76 589.80" fill="rgba(5,184,148,0.42)" stroke="none" stroke-width="1" stroke-linejoin="round" />
<path d="M508.60 529.64 L514.58 463.84 L517.57 518.36 L520.56 574.76 L521.76 589.80 L622.22 589.80" fill="none" stroke="#7fd6c6" stroke-width="0.9" stroke-linejoin="round" stroke-linecap="round" />
<path d="M502.70 458.10V595.40H629.20" fill="none" stroke="#262626" stroke-width="1.25" stroke-linecap="square"/>
<line x1="500.20" y1="589.80" x2="502.70" y2="589.80" stroke="#262626" stroke-width="0.9" />
<text x="491.72" y="593.55" font-size="10.71" textLength="6.49" lengthAdjust="spacingAndGlyphs">0</text>
<line x1="500.20" y1="552.20" x2="502.70" y2="552.20" stroke="#262626" stroke-width="0.9" />
<text x="485.23" y="555.95" font-size="10.71" textLength="12.98" lengthAdjust="spacingAndGlyphs">20</text>
<line x1="500.20" y1="514.60" x2="502.70" y2="514.60" stroke="#262626" stroke-width="0.9" />
<text x="485.23" y="518.35" font-size="10.71" textLength="12.98" lengthAdjust="spacingAndGlyphs">40</text>
<line x1="500.20" y1="477.00" x2="502.70" y2="477.00" stroke="#262626" stroke-width="0.9" />
<text x="485.23" y="480.75" font-size="10.71" textLength="12.98" lengthAdjust="spacingAndGlyphs">60</text>
<line x1="508.60" y1="595.40" x2="508.60" y2="597.40" stroke="#262626" stroke-width="0.9" />
<text x="500.49" y="607.40" font-size="10.71" textLength="16.22" lengthAdjust="spacingAndGlyphs">0.0</text>
<line x1="568.40" y1="595.40" x2="568.40" y2="597.40" stroke="#262626" stroke-width="0.9" />
<text x="560.29" y="607.40" font-size="10.71" textLength="16.22" lengthAdjust="spacingAndGlyphs">0.1</text>
<text x="494.82" y="622.60" font-size="10.92" textLength="141.57" lengthAdjust="spacingAndGlyphs">Circular variance of phases</text>
<text x="434.74" y="527.90" font-size="11.13" textLength="88.33" lengthAdjust="spacingAndGlyphs" transform="rotate(-90 478.90 527.90)">Probability (PDF)</text>
<rect x="547.00" y="459.70" width="136.40" height="31.90" rx="2.5" fill="#fff" fill-opacity="0.8" stroke="#d6d6d6" stroke-width="0.8"/>
<line x1="551.10" y1="468.50" x2="571.50" y2="468.50" stroke="#f07078" stroke-width="1.4" />
<line x1="551.10" y1="482.60" x2="571.50" y2="482.60" stroke="#7fd6c6" stroke-width="1.4" />
<text x="579.20" y="472.10" font-size="10.50" textLength="71.70" lengthAdjust="spacingAndGlyphs">Syn-jRCaMP1a</text>
<text x="579.20" y="486.20" font-size="10.50" textLength="100.61" lengthAdjust="spacingAndGlyphs">GfaABC1D-iGluSnFR</text>
<text x="535.50" y="534.30" font-size="18" text-anchor="middle" stroke="#000" stroke-width="0.55">**</text>
</svg></body></html>
